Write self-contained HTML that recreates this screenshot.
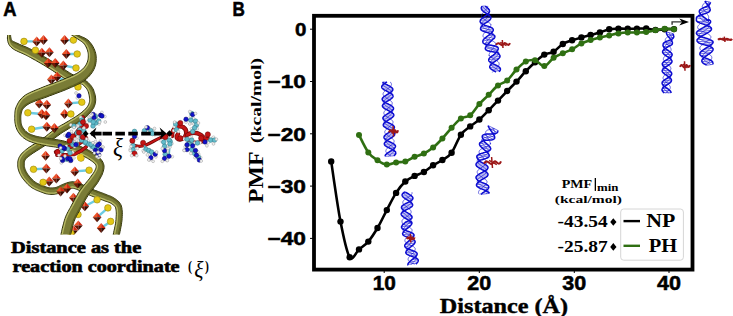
<!DOCTYPE html>
<html><head><meta charset="utf-8"><style>
html,body{margin:0;padding:0;background:#fff;width:733px;height:316px;overflow:hidden}
svg{display:block}
</style></head><body>
<svg width="733" height="316" viewBox="0 0 733 316">
<rect width="733" height="316" fill="#fff"/>
<defs><clipPath id="ca"><rect x="0" y="35" width="232" height="199.5"/></clipPath></defs>
<g clip-path="url(#ca)">
<path d="M7.8,33.1 L7.7,33.7 L7.6,34.5 L7.5,35.6 L7.5,36.8 L7.4,38.0 L7.5,39.3 L7.6,40.6 L8.0,41.8 L8.2,42.8 L8.6,43.7 L9.0,44.6 L9.6,45.5 L10.3,46.4 L11.1,47.2 L12.1,48.1 L13.3,49.0 L14.8,49.9 L16.4,50.7 L18.2,51.6 L20.1,52.4 L22.1,53.3 L24.1,54.2 L26.2,55.2 L28.3,56.3 L30.5,57.5 L32.9,58.9 L35.5,60.3 L38.1,61.8 L40.7,63.3 L43.3,64.8 L45.7,66.3 L48.0,67.7 L50.2,69.1 L52.3,70.4 L54.4,71.8 L56.4,73.1 L58.4,74.5 L60.3,75.8 L62.2,77.0 L64.0,78.2 L65.8,79.3 L67.7,80.4 L69.4,81.4 L71.1,82.4 L72.7,83.3 L74.1,84.1 L75.2,84.7 L76.1,85.3 L79.9,78.7 L79.0,78.2 L77.8,77.6 L76.4,76.8 L74.9,75.9 L73.2,74.9 L71.5,73.9 L69.7,72.9 L68.0,71.8 L66.3,70.7 L64.5,69.5 L62.6,68.3 L60.6,66.9 L58.6,65.5 L56.4,64.1 L54.2,62.7 L52.0,61.3 L49.6,59.9 L47.1,58.4 L44.5,56.8 L41.8,55.3 L39.2,53.8 L36.6,52.3 L34.1,50.9 L31.7,49.7 L29.4,48.6 L27.2,47.5 L25.0,46.6 L23.0,45.8 L21.1,45.0 L19.4,44.3 L18.0,43.6 L16.7,43.0 L15.6,42.5 L14.7,42.1 L14.0,41.8 L13.4,41.6 L13.0,41.4 L12.5,41.1 L12.1,40.7 L11.6,40.2 L11.3,39.6 L11.1,38.7 L10.9,37.7 L10.7,36.6 L10.6,35.5 L10.5,34.5 L10.4,33.6 L10.2,32.9 Z" fill="#7a7c36" stroke="#30320a" stroke-width="1" stroke-linejoin="round"/><path d="M9.0,33.0 L8.9,33.6 L8.8,34.5 L8.7,35.6 L8.7,36.7 L8.6,37.9 L8.7,39.1 L8.8,40.3 L9.1,41.3 L9.3,42.2 L9.6,43.1 L9.9,43.9 L10.4,44.7 L11.1,45.5 L11.8,46.3 L12.7,47.1 L13.9,48.0 L15.3,48.8 L17.0,49.6 L18.7,50.5 L20.6,51.3 L22.6,52.2 L24.6,53.1 L26.7,54.2 L28.8,55.3 L31.1,56.5 L33.5,57.8 L36.1,59.2 L38.7,60.7 L41.3,62.3 L43.9,63.8 L46.3,65.3 L48.7,66.7 L50.9,68.0 L53.0,69.4 L55.1,70.8 L57.1,72.1 L59.0,73.5 L61.0,74.8 L62.8,76.0 L64.6,77.2 L66.5,78.3 L68.3,79.4 L70.0,80.4 L71.7,81.4 L73.3,82.3 L74.7,83.0 L75.8,83.7 L76.7,84.2" fill="none" stroke="#b8ba66" stroke-width="1.3"/><path d="M9.2,33.0 L9.4,33.6 L9.5,34.5 L9.6,35.5 L9.7,36.7 L9.9,37.8 L10.1,38.9 L10.4,39.9 L10.7,40.6 L11.2,41.2 L11.7,41.7 L12.2,42.0 L12.7,42.3 L13.3,42.6 L14.1,42.9 L15.1,43.3 L16.2,43.8 L17.5,44.5 L19.0,45.2 L20.7,45.9 L22.6,46.7 L24.6,47.5 L26.8,48.4 L29.0,49.5 L31.3,50.6 L33.6,51.8 L36.1,53.2 L38.7,54.6 L41.3,56.1 L44.0,57.7 L46.6,59.2 L49.1,60.7 L51.4,62.2 L53.7,63.6 L55.9,65.0 L58.0,66.4 L60.0,67.8 L62.0,69.1 L63.9,70.4 L65.7,71.6 L67.5,72.7 L69.2,73.7 L71.0,74.8 L72.7,75.8 L74.4,76.8 L75.9,77.7 L77.3,78.4 L78.5,79.1 L79.4,79.6" fill="none" stroke="#5c5e20" stroke-width="1.2"/>
<path d="M77.6,83.5 L78.1,83.6 L78.8,83.6 L79.5,83.7 L80.2,83.8 L80.9,83.9 L81.6,84.1 L82.2,84.3 L82.7,84.6 L83.2,85.1 L83.9,85.7 L84.6,86.3 L85.3,87.1 L86.0,87.9 L86.6,88.7 L87.2,89.6 L87.6,90.3 L88.0,91.1 L88.3,92.0 L88.6,93.0 L88.9,94.0 L89.1,95.0 L89.3,96.0 L89.4,97.0 L89.5,97.9 L89.6,98.7 L89.7,99.4 L89.7,100.0 L89.6,100.7 L89.6,101.3 L89.5,101.9 L89.3,102.5 L89.1,103.1 L88.9,103.7 L88.7,104.3 L88.4,104.9 L88.1,105.5 L87.7,106.1 L87.3,106.7 L86.8,107.4 L86.2,108.1 L85.5,108.8 L84.8,109.6 L84.0,110.4 L83.1,111.2 L82.1,112.0 L81.2,112.8 L80.1,113.6 L79.0,114.4 L77.9,115.2 L76.7,116.0 L75.5,116.8 L74.1,117.7 L72.7,118.5 L71.3,119.4 L69.8,120.3 L68.3,121.2 L66.8,122.1 L65.2,123.0 L63.6,124.0 L61.9,124.9 L60.2,125.9 L58.5,126.9 L56.7,128.0 L55.0,129.1 L53.3,130.3 L51.6,131.6 L50.0,132.9 L48.4,134.2 L46.8,135.5 L45.2,136.8 L43.6,138.0 L42.0,139.1 L40.3,140.3 L38.5,141.4 L36.7,142.6 L34.8,143.7 L33.0,144.8 L31.2,146.0 L29.5,147.1 L27.9,148.2 L26.6,149.2 L25.4,150.2 L24.3,151.2 L23.2,152.1 L22.2,153.1 L21.3,154.1 L20.5,155.1 L19.8,156.3 L19.1,157.4 L18.6,158.7 L18.2,159.9 L18.0,161.0 L17.8,162.1 L17.8,163.1 L17.8,164.1 L17.8,165.0 L17.8,166.0 L17.9,167.1 L18.0,168.1 L18.2,169.0 L18.5,170.0 L18.8,170.9 L19.1,171.9 L19.5,172.8 L19.9,173.7 L20.4,174.6 L20.9,175.5 L21.4,176.5 L22.0,177.4 L22.6,178.3 L23.3,179.2 L24.0,180.0 L24.7,180.9 L25.5,181.8 L26.3,182.7 L27.2,183.7 L28.1,184.6 L29.1,185.5 L30.1,186.3 L31.1,187.1 L32.2,187.9 L33.3,188.5 L34.4,189.1 L35.5,189.7 L36.6,190.2 L37.7,190.7 L38.8,191.1 L39.8,191.5 L40.8,191.9 L41.8,192.3 L42.9,192.7 L44.0,193.1 L45.1,193.5 L46.2,193.8 L47.4,194.0 L48.6,194.2 L49.7,194.3 L50.9,194.4 L52.1,194.4 L53.2,194.4 L54.4,194.3 L55.5,194.1 L56.6,193.9 L57.8,193.6 L59.1,193.3 L60.3,192.8 L61.4,192.3 L62.5,191.7 L63.5,191.2 L64.4,190.8 L65.3,190.4 L66.1,190.0 L67.1,189.7 L68.1,189.3 L69.0,189.0 L69.9,188.7 L70.7,188.5 L71.4,188.3 L72.1,188.2 L72.8,188.2 L73.5,188.3 L74.3,188.5 L75.2,188.8 L76.2,189.1 L77.2,189.5 L78.3,190.0 L79.5,190.5 L80.8,191.0 L82.0,191.5 L83.2,192.1 L84.5,192.7 L85.9,193.3 L87.3,194.0 L88.8,194.7 L90.3,195.4 L91.8,196.0 L93.3,196.6 L94.9,197.2 L96.5,197.8 L98.1,198.4 L99.6,199.0 L101.1,199.5 L102.5,200.0 L103.8,200.5 L105.1,201.0 L106.2,201.4 L107.3,201.7 L108.3,202.1 L109.1,202.4 L109.9,202.7 L110.6,203.1 L111.3,203.5 L112.1,204.0 L112.9,204.6 L113.6,205.1 L114.2,205.6 L114.6,206.1 L115.0,206.6 L115.4,207.2 L115.6,207.9 L115.9,208.9 L116.1,210.1 L116.2,211.4 L116.3,212.9 L116.3,214.6 L116.2,216.3 L116.1,218.0 L116.0,219.7 L115.8,221.6 L115.5,223.7 L115.1,225.9 L114.6,228.2 L114.1,230.4 L113.7,232.4 L113.3,234.1 L113.1,235.4 L118.9,236.6 L119.2,235.4 L119.6,233.7 L120.0,231.7 L120.5,229.4 L120.9,227.1 L121.4,224.7 L121.7,222.4 L122.0,220.3 L122.1,218.4 L122.2,216.5 L122.3,214.6 L122.3,212.8 L122.2,211.0 L122.0,209.3 L121.8,207.7 L121.4,206.1 L120.8,204.6 L120.0,203.3 L119.2,202.2 L118.3,201.2 L117.3,200.4 L116.4,199.7 L115.6,199.1 L114.7,198.5 L113.7,197.8 L112.6,197.2 L111.6,196.7 L110.6,196.2 L109.5,195.8 L108.4,195.4 L107.3,195.0 L106.2,194.5 L104.8,194.0 L103.4,193.4 L101.9,192.9 L100.3,192.3 L98.7,191.7 L97.2,191.1 L95.7,190.6 L94.2,190.0 L92.9,189.4 L91.5,188.8 L90.1,188.1 L88.7,187.5 L87.3,186.8 L85.9,186.2 L84.6,185.6 L83.2,185.0 L82.0,184.5 L80.8,184.0 L79.7,183.5 L78.5,183.0 L77.2,182.6 L75.9,182.2 L74.6,181.9 L73.2,181.8 L71.8,181.8 L70.4,181.9 L69.2,182.2 L68.0,182.5 L66.9,182.9 L65.9,183.2 L64.9,183.6 L63.9,184.0 L62.7,184.4 L61.6,184.9 L60.5,185.4 L59.5,185.9 L58.6,186.4 L57.7,186.8 L56.9,187.1 L56.2,187.4 L55.4,187.5 L54.5,187.7 L53.6,187.8 L52.8,187.9 L51.9,187.9 L51.1,187.9 L50.3,187.9 L49.4,187.8 L48.6,187.6 L47.8,187.5 L46.9,187.2 L46.0,186.9 L45.1,186.6 L44.2,186.3 L43.2,185.9 L42.2,185.5 L41.2,185.1 L40.2,184.7 L39.3,184.2 L38.3,183.8 L37.4,183.4 L36.5,182.9 L35.7,182.4 L34.9,181.9 L34.1,181.3 L33.4,180.6 L32.6,179.9 L31.8,179.1 L31.1,178.3 L30.4,177.5 L29.7,176.7 L29.0,176.0 L28.5,175.2 L27.9,174.5 L27.4,173.8 L27.0,173.0 L26.5,172.3 L26.1,171.6 L25.8,170.9 L25.5,170.2 L25.2,169.5 L25.0,168.8 L24.7,168.2 L24.6,167.5 L24.4,166.9 L24.3,166.3 L24.3,165.6 L24.2,165.0 L24.3,164.2 L24.3,163.4 L24.3,162.7 L24.4,162.1 L24.5,161.4 L24.7,160.9 L24.9,160.3 L25.2,159.7 L25.7,159.1 L26.3,158.5 L27.0,157.8 L27.7,157.1 L28.6,156.4 L29.7,155.6 L30.8,154.7 L32.1,153.8 L33.4,152.9 L35.0,151.9 L36.7,150.8 L38.5,149.7 L40.4,148.5 L42.3,147.3 L44.2,146.1 L46.0,144.9 L47.8,143.6 L49.5,142.3 L51.1,141.0 L52.8,139.7 L54.3,138.4 L55.9,137.2 L57.5,136.0 L59.0,134.9 L60.5,133.8 L62.1,132.7 L63.7,131.7 L65.4,130.7 L67.0,129.7 L68.6,128.7 L70.2,127.7 L71.7,126.8 L73.2,125.8 L74.7,125.0 L76.1,124.1 L77.5,123.2 L79.0,122.3 L80.3,121.4 L81.7,120.5 L83.0,119.6 L84.1,118.6 L85.3,117.7 L86.3,116.7 L87.4,115.7 L88.3,114.7 L89.2,113.8 L90.0,112.9 L90.8,111.9 L91.5,111.1 L92.2,110.2 L92.7,109.3 L93.3,108.5 L93.8,107.6 L94.2,106.7 L94.5,105.8 L94.9,104.9 L95.1,104.0 L95.3,103.1 L95.5,102.1 L95.6,101.1 L95.7,100.2 L95.7,99.2 L95.6,98.1 L95.5,97.1 L95.3,96.0 L95.1,94.9 L94.8,93.7 L94.4,92.5 L94.0,91.3 L93.6,90.0 L93.0,88.8 L92.4,87.7 L91.7,86.6 L90.9,85.5 L90.0,84.5 L89.1,83.5 L88.2,82.6 L87.3,81.8 L86.3,81.1 L85.3,80.4 L84.3,79.8 L83.1,79.4 L82.0,79.1 L81.0,78.9 L80.1,78.8 L79.4,78.7 L78.8,78.6 L78.4,78.5 Z" fill="#7a7c36" stroke="#30320a" stroke-width="1" stroke-linejoin="round"/><path d="M77.8,82.3 L78.3,82.4 L78.9,82.4 L79.7,82.5 L80.4,82.6 L81.2,82.8 L82.0,83.0 L82.7,83.2 L83.3,83.6 L84.0,84.1 L84.7,84.8 L85.4,85.5 L86.2,86.3 L86.9,87.1 L87.6,88.0 L88.2,88.9 L88.6,89.8 L89.1,90.6 L89.4,91.6 L89.8,92.6 L90.0,93.7 L90.3,94.8 L90.5,95.8 L90.6,96.8 L90.7,97.7 L90.8,98.6 L90.9,99.3 L90.9,100.1 L90.8,100.8 L90.8,101.4 L90.6,102.1 L90.5,102.8 L90.3,103.5 L90.0,104.1 L89.8,104.8 L89.5,105.4 L89.1,106.1 L88.7,106.7 L88.3,107.4 L87.7,108.1 L87.1,108.8 L86.4,109.6 L85.6,110.4 L84.8,111.2 L83.9,112.0 L82.9,112.9 L81.9,113.7 L80.9,114.5 L79.8,115.4 L78.6,116.2 L77.4,117.0 L76.1,117.8 L74.8,118.7 L73.4,119.5 L71.9,120.4 L70.4,121.3 L68.9,122.3 L67.4,123.2 L65.8,124.1 L64.2,125.0 L62.5,125.9 L60.8,126.9 L59.1,127.9 L57.4,129.0 L55.7,130.1 L54.0,131.3 L52.4,132.6 L50.7,133.8 L49.1,135.1 L47.5,136.4 L45.9,137.7 L44.3,138.9 L42.7,140.1 L41.0,141.3 L39.2,142.4 L37.3,143.6 L35.5,144.7 L33.6,145.9 L31.8,147.0 L30.2,148.1 L28.6,149.1 L27.3,150.2 L26.1,151.1 L25.0,152.1 L24.0,153.0 L23.1,153.9 L22.2,154.9 L21.5,155.9 L20.8,156.9 L20.2,158.0 L19.7,159.1 L19.4,160.1 L19.2,161.2 L19.0,162.2 L19.0,163.2 L19.0,164.1 L19.0,165.0 L19.0,166.0 L19.1,166.9 L19.2,167.8 L19.4,168.8 L19.7,169.7 L19.9,170.6 L20.3,171.4 L20.6,172.3 L21.0,173.2 L21.4,174.1 L21.9,174.9 L22.4,175.8 L23.0,176.7 L23.6,177.6 L24.2,178.4 L24.9,179.3 L25.6,180.1 L26.4,181.0 L27.2,181.9 L28.0,182.8 L28.9,183.7 L29.8,184.6 L30.8,185.4 L31.8,186.2 L32.8,186.9 L33.9,187.5 L34.9,188.1 L36.0,188.6 L37.1,189.1 L38.2,189.6 L39.2,190.0 L40.2,190.4 L41.2,190.8 L42.3,191.2 L43.3,191.6 L44.3,192.0 L45.4,192.3 L46.5,192.6 L47.6,192.9 L48.7,193.0 L49.8,193.1 L50.9,193.2 L52.0,193.2 L53.1,193.2 L54.2,193.1 L55.3,192.9 L56.4,192.7 L57.5,192.5 L58.7,192.1 L59.8,191.7 L60.9,191.2 L61.9,190.7 L62.9,190.2 L63.9,189.7 L64.8,189.3 L65.7,188.9 L66.7,188.6 L67.7,188.2 L68.6,187.9 L69.5,187.6 L70.4,187.3 L71.2,187.1 L72.1,187.0 L72.9,187.0 L73.7,187.1 L74.6,187.3 L75.6,187.6 L76.6,188.0 L77.7,188.4 L78.8,188.9 L80.0,189.4 L81.2,189.9 L82.5,190.4 L83.7,191.0 L85.1,191.6 L86.4,192.3 L87.8,192.9 L89.3,193.6 L90.7,194.3 L92.2,194.9 L93.7,195.5 L95.3,196.1 L96.9,196.7 L98.5,197.3 L100.1,197.8 L101.5,198.4 L103.0,198.9 L104.3,199.4 L105.5,199.9 L106.7,200.3 L107.7,200.6 L108.7,200.9 L109.6,201.3 L110.4,201.6 L111.2,202.0 L112.0,202.5 L112.8,203.1 L113.6,203.6 L114.3,204.2 L115.0,204.7 L115.5,205.3 L116.0,205.9 L116.4,206.7 L116.8,207.5 L117.1,208.6 L117.3,209.9 L117.4,211.4 L117.5,212.9 L117.5,214.6 L117.4,216.3 L117.3,218.1 L117.2,219.8 L117.0,221.7 L116.7,223.9 L116.2,226.1 L115.8,228.4 L115.3,230.7 L114.9,232.7 L114.5,234.4 L114.2,235.6" fill="none" stroke="#b8ba66" stroke-width="1.3"/><path d="M78.3,79.5 L78.7,79.6 L79.2,79.7 L80.0,79.7 L80.9,79.9 L81.8,80.0 L82.8,80.3 L83.8,80.7 L84.8,81.2 L85.7,81.8 L86.6,82.5 L87.5,83.3 L88.4,84.2 L89.3,85.1 L90.1,86.1 L90.8,87.1 L91.5,88.1 L92.1,89.2 L92.6,90.4 L93.1,91.6 L93.5,92.8 L93.8,93.9 L94.1,95.1 L94.3,96.2 L94.5,97.2 L94.6,98.2 L94.7,99.2 L94.7,100.1 L94.6,101.1 L94.5,102.0 L94.4,102.9 L94.2,103.7 L93.9,104.6 L93.6,105.5 L93.3,106.3 L92.9,107.2 L92.4,108.0 L91.9,108.8 L91.3,109.6 L90.7,110.4 L90.0,111.3 L89.3,112.2 L88.5,113.1 L87.6,114.0 L86.7,115.0 L85.7,115.9 L84.6,116.9 L83.5,117.9 L82.4,118.8 L81.1,119.7 L79.8,120.6 L78.4,121.5 L77.0,122.4 L75.6,123.2 L74.1,124.1 L72.7,125.0 L71.2,125.9 L69.7,126.9 L68.1,127.9 L66.5,128.9 L64.8,129.9 L63.2,130.9 L61.6,131.9 L60.0,133.0 L58.4,134.1 L56.9,135.2 L55.3,136.4 L53.7,137.6 L52.1,138.9 L50.5,140.2 L48.9,141.5 L47.2,142.8 L45.4,144.0 L43.6,145.3 L41.8,146.5 L39.9,147.7 L38.0,148.8 L36.1,149.9 L34.4,151.0 L32.9,152.0 L31.5,153.0 L30.2,153.9 L29.0,154.8 L28.0,155.6 L27.1,156.4 L26.2,157.1 L25.5,157.8 L24.9,158.5 L24.4,159.2 L24.0,159.9 L23.7,160.5 L23.5,161.2 L23.4,161.9 L23.3,162.6 L23.3,163.4 L23.3,164.2 L23.2,165.0 L23.3,165.7 L23.3,166.4 L23.4,167.1 L23.6,167.8 L23.8,168.4 L24.0,169.2 L24.3,169.9 L24.6,170.6 L24.9,171.4 L25.3,172.1 L25.7,172.8 L26.1,173.6 L26.6,174.3 L27.1,175.1 L27.7,175.8 L28.3,176.6 L28.9,177.4 L29.6,178.2 L30.3,179.0 L31.1,179.8 L31.9,180.6 L32.7,181.4 L33.5,182.1 L34.3,182.7 L35.1,183.2 L36.0,183.8 L36.9,184.2 L37.9,184.7 L38.8,185.2 L39.8,185.6 L40.8,186.0 L41.8,186.4 L42.8,186.8 L43.8,187.2 L44.8,187.6 L45.7,187.9 L46.6,188.2 L47.5,188.4 L48.4,188.6 L49.3,188.8 L50.2,188.9 L51.1,188.9 L52.0,188.9 L52.9,188.9 L53.8,188.8 L54.7,188.7 L55.6,188.5 L56.4,188.3 L57.3,188.1 L58.1,187.7 L59.0,187.3 L60.0,186.8 L61.0,186.3 L62.0,185.8 L63.1,185.3 L64.2,184.9 L65.2,184.5 L66.2,184.2 L67.2,183.8 L68.3,183.4 L69.4,183.1 L70.6,182.9 L71.8,182.8 L73.1,182.8 L74.4,182.9 L75.7,183.2 L76.9,183.5 L78.1,184.0 L79.3,184.4 L80.5,184.9 L81.6,185.4 L82.9,185.9 L84.2,186.5 L85.5,187.1 L86.9,187.7 L88.3,188.4 L89.7,189.0 L91.1,189.7 L92.5,190.3 L93.9,190.9 L95.3,191.5 L96.8,192.1 L98.4,192.7 L100.0,193.2 L101.5,193.8 L103.0,194.3 L104.5,194.9 L105.8,195.4 L107.0,195.9 L108.1,196.3 L109.2,196.8 L110.2,197.2 L111.2,197.6 L112.2,198.1 L113.2,198.7 L114.1,199.3 L115.0,199.9 L115.8,200.5 L116.7,201.2 L117.6,202.0 L118.4,202.8 L119.2,203.9 L119.9,205.0 L120.4,206.4 L120.8,207.9 L121.0,209.4 L121.2,211.1 L121.3,212.8 L121.3,214.6 L121.2,216.5 L121.1,218.3 L121.0,220.2 L120.8,222.2 L120.4,224.5 L120.0,226.9 L119.5,229.2 L119.0,231.5 L118.6,233.5 L118.2,235.2 L118.0,236.4" fill="none" stroke="#5c5e20" stroke-width="1.2"/>
<line x1="24.0" y1="41.4" x2="36.7" y2="41.4" stroke="#6ccbe2" stroke-width="2.4"/>
<line x1="35.4" y1="50.3" x2="41.8" y2="52.8" stroke="#6ccbe2" stroke-width="2.4"/>
<line x1="64.6" y1="40.1" x2="73.4" y2="40.1" stroke="#6ccbe2" stroke-width="2.4"/>
<line x1="66.3" y1="54.0" x2="77.2" y2="54.0" stroke="#6ccbe2" stroke-width="2.4"/>
<line x1="63.3" y1="65.4" x2="76.0" y2="68.0" stroke="#6ccbe2" stroke-width="2.4"/>
<line x1="57.0" y1="76.8" x2="78.0" y2="87.0" stroke="#6ccbe2" stroke-width="2.4"/>
<line x1="68.4" y1="103.4" x2="81.8" y2="102.2" stroke="#6ccbe2" stroke-width="2.4"/>
<line x1="27.8" y1="112.8" x2="41.8" y2="114.0" stroke="#6ccbe2" stroke-width="2.4"/>
<line x1="31.6" y1="129.2" x2="46.8" y2="126.7" stroke="#6ccbe2" stroke-width="2.4"/>
<line x1="39.2" y1="141.9" x2="46.0" y2="141.0" stroke="#6ccbe2" stroke-width="2.4"/>
<line x1="33.5" y1="169.3" x2="46.3" y2="168.6" stroke="#6ccbe2" stroke-width="2.4"/>
<line x1="43.1" y1="182.3" x2="49.2" y2="181.4" stroke="#6ccbe2" stroke-width="2.4"/>
<line x1="70.9" y1="114.0" x2="64.6" y2="114.0" stroke="#6ccbe2" stroke-width="2.4"/>
<line x1="74.8" y1="171.4" x2="89.1" y2="170.2" stroke="#6ccbe2" stroke-width="2.4"/>
<line x1="84.8" y1="206.3" x2="97.1" y2="199.8" stroke="#6ccbe2" stroke-width="2.4"/>
<line x1="97.1" y1="217.3" x2="107.9" y2="207.9" stroke="#6ccbe2" stroke-width="2.4"/>
<line x1="101.2" y1="228.1" x2="110.6" y2="221.4" stroke="#6ccbe2" stroke-width="2.4"/>
<path d="M32.3,41.4 L36.7,36.4 L36.7,41.4 Z" fill="#ec5426"/><path d="M36.7,36.4 L41.1,41.4 L36.7,41.4 Z" fill="#d42a12"/><path d="M32.3,41.4 L36.7,41.4 L36.7,46.4 Z" fill="#701806"/><path d="M36.7,41.4 L41.1,41.4 L36.7,46.4 Z" fill="#3c0c02"/>
<path d="M39.1,40.1 L43.5,35.1 L43.5,40.1 Z" fill="#ec5426"/><path d="M43.5,35.1 L47.9,40.1 L43.5,40.1 Z" fill="#d42a12"/><path d="M39.1,40.1 L43.5,40.1 L43.5,45.1 Z" fill="#701806"/><path d="M43.5,40.1 L47.9,40.1 L43.5,45.1 Z" fill="#3c0c02"/>
<path d="M60.2,40.1 L64.6,35.1 L64.6,40.1 Z" fill="#ec5426"/><path d="M64.6,35.1 L69.0,40.1 L64.6,40.1 Z" fill="#d42a12"/><path d="M60.2,40.1 L64.6,40.1 L64.6,45.1 Z" fill="#701806"/><path d="M64.6,40.1 L69.0,40.1 L64.6,45.1 Z" fill="#3c0c02"/>
<path d="M37.4,52.8 L41.8,47.8 L41.8,52.8 Z" fill="#ec5426"/><path d="M41.8,47.8 L46.2,52.8 L41.8,52.8 Z" fill="#d42a12"/><path d="M37.4,52.8 L41.8,52.8 L41.8,57.8 Z" fill="#701806"/><path d="M41.8,52.8 L46.2,52.8 L41.8,57.8 Z" fill="#3c0c02"/>
<path d="M45.0,52.3 L49.4,47.3 L49.4,52.3 Z" fill="#ec5426"/><path d="M49.4,47.3 L53.8,52.3 L49.4,52.3 Z" fill="#d42a12"/><path d="M45.0,52.3 L49.4,52.3 L49.4,57.3 Z" fill="#701806"/><path d="M49.4,52.3 L53.8,52.3 L49.4,57.3 Z" fill="#3c0c02"/>
<path d="M61.9,54.0 L66.3,49.0 L66.3,54.0 Z" fill="#ec5426"/><path d="M66.3,49.0 L70.7,54.0 L66.3,54.0 Z" fill="#d42a12"/><path d="M61.9,54.0 L66.3,54.0 L66.3,59.0 Z" fill="#701806"/><path d="M66.3,54.0 L70.7,54.0 L66.3,59.0 Z" fill="#3c0c02"/>
<path d="M43.7,62.9 L48.1,57.9 L48.1,62.9 Z" fill="#ec5426"/><path d="M48.1,57.9 L52.5,62.9 L48.1,62.9 Z" fill="#d42a12"/><path d="M43.7,62.9 L48.1,62.9 L48.1,67.9 Z" fill="#701806"/><path d="M48.1,62.9 L52.5,62.9 L48.1,67.9 Z" fill="#3c0c02"/>
<path d="M50.8,62.9 L55.2,57.9 L55.2,62.9 Z" fill="#ec5426"/><path d="M55.2,57.9 L59.6,62.9 L55.2,62.9 Z" fill="#d42a12"/><path d="M50.8,62.9 L55.2,62.9 L55.2,67.9 Z" fill="#701806"/><path d="M55.2,62.9 L59.6,62.9 L55.2,67.9 Z" fill="#3c0c02"/>
<path d="M58.9,65.4 L63.3,60.4 L63.3,65.4 Z" fill="#ec5426"/><path d="M63.3,60.4 L67.7,65.4 L63.3,65.4 Z" fill="#d42a12"/><path d="M58.9,65.4 L63.3,65.4 L63.3,70.4 Z" fill="#701806"/><path d="M63.3,65.4 L67.7,65.4 L63.3,70.4 Z" fill="#3c0c02"/>
<path d="M52.6,76.8 L57.0,71.8 L57.0,76.8 Z" fill="#ec5426"/><path d="M57.0,71.8 L61.4,76.8 L57.0,76.8 Z" fill="#d42a12"/><path d="M52.6,76.8 L57.0,76.8 L57.0,81.8 Z" fill="#701806"/><path d="M57.0,76.8 L61.4,76.8 L57.0,81.8 Z" fill="#3c0c02"/>
<path d="M47.0,79.4 L51.4,74.4 L51.4,79.4 Z" fill="#ec5426"/><path d="M51.4,74.4 L55.8,79.4 L51.4,79.4 Z" fill="#d42a12"/><path d="M47.0,79.4 L51.4,79.4 L51.4,84.4 Z" fill="#701806"/><path d="M51.4,79.4 L55.8,79.4 L51.4,84.4 Z" fill="#3c0c02"/>
<path d="M34.8,103.4 L39.2,98.4 L39.2,103.4 Z" fill="#ec5426"/><path d="M39.2,98.4 L43.6,103.4 L39.2,103.4 Z" fill="#d42a12"/><path d="M34.8,103.4 L39.2,103.4 L39.2,108.4 Z" fill="#701806"/><path d="M39.2,103.4 L43.6,103.4 L39.2,108.4 Z" fill="#3c0c02"/>
<path d="M42.4,104.7 L46.8,99.7 L46.8,104.7 Z" fill="#ec5426"/><path d="M46.8,99.7 L51.2,104.7 L46.8,104.7 Z" fill="#d42a12"/><path d="M42.4,104.7 L46.8,104.7 L46.8,109.7 Z" fill="#701806"/><path d="M46.8,104.7 L51.2,104.7 L46.8,109.7 Z" fill="#3c0c02"/>
<path d="M64.0,103.4 L68.4,98.4 L68.4,103.4 Z" fill="#ec5426"/><path d="M68.4,98.4 L72.8,103.4 L68.4,103.4 Z" fill="#d42a12"/><path d="M64.0,103.4 L68.4,103.4 L68.4,108.4 Z" fill="#701806"/><path d="M68.4,103.4 L72.8,103.4 L68.4,108.4 Z" fill="#3c0c02"/>
<path d="M37.4,114.0 L41.8,109.0 L41.8,114.0 Z" fill="#ec5426"/><path d="M41.8,109.0 L46.2,114.0 L41.8,114.0 Z" fill="#d42a12"/><path d="M37.4,114.0 L41.8,114.0 L41.8,119.0 Z" fill="#701806"/><path d="M41.8,114.0 L46.2,114.0 L41.8,119.0 Z" fill="#3c0c02"/>
<path d="M41.6,115.3 L46.0,110.3 L46.0,115.3 Z" fill="#ec5426"/><path d="M46.0,110.3 L50.4,115.3 L46.0,115.3 Z" fill="#d42a12"/><path d="M41.6,115.3 L46.0,115.3 L46.0,120.3 Z" fill="#701806"/><path d="M46.0,115.3 L50.4,115.3 L46.0,120.3 Z" fill="#3c0c02"/>
<path d="M42.4,126.7 L46.8,121.7 L46.8,126.7 Z" fill="#ec5426"/><path d="M46.8,121.7 L51.2,126.7 L46.8,126.7 Z" fill="#d42a12"/><path d="M42.4,126.7 L46.8,126.7 L46.8,131.7 Z" fill="#701806"/><path d="M46.8,126.7 L51.2,126.7 L46.8,131.7 Z" fill="#3c0c02"/>
<path d="M50.0,128.0 L54.4,123.0 L54.4,128.0 Z" fill="#ec5426"/><path d="M54.4,123.0 L58.8,128.0 L54.4,128.0 Z" fill="#d42a12"/><path d="M50.0,128.0 L54.4,128.0 L54.4,133.0 Z" fill="#701806"/><path d="M54.4,128.0 L58.8,128.0 L54.4,133.0 Z" fill="#3c0c02"/>
<path d="M60.2,114.0 L64.6,109.0 L64.6,114.0 Z" fill="#ec5426"/><path d="M64.6,109.0 L69.0,114.0 L64.6,114.0 Z" fill="#d42a12"/><path d="M60.2,114.0 L64.6,114.0 L64.6,119.0 Z" fill="#701806"/><path d="M64.6,114.0 L69.0,114.0 L64.6,119.0 Z" fill="#3c0c02"/>
<path d="M41.2,155.8 L45.6,150.8 L45.6,155.8 Z" fill="#ec5426"/><path d="M45.6,150.8 L50.0,155.8 L45.6,155.8 Z" fill="#d42a12"/><path d="M41.2,155.8 L45.6,155.8 L45.6,160.8 Z" fill="#701806"/><path d="M45.6,155.8 L50.0,155.8 L45.6,160.8 Z" fill="#3c0c02"/>
<path d="M41.9,168.6 L46.3,163.6 L46.3,168.6 Z" fill="#ec5426"/><path d="M46.3,163.6 L50.7,168.6 L46.3,168.6 Z" fill="#d42a12"/><path d="M41.9,168.6 L46.3,168.6 L46.3,173.6 Z" fill="#701806"/><path d="M46.3,168.6 L50.7,168.6 L46.3,173.6 Z" fill="#3c0c02"/>
<path d="M44.8,181.4 L49.2,176.4 L49.2,181.4 Z" fill="#ec5426"/><path d="M49.2,176.4 L53.6,181.4 L49.2,181.4 Z" fill="#d42a12"/><path d="M44.8,181.4 L49.2,181.4 L49.2,186.4 Z" fill="#701806"/><path d="M49.2,181.4 L53.6,181.4 L49.2,186.4 Z" fill="#3c0c02"/>
<path d="M51.9,178.5 L56.3,173.5 L56.3,178.5 Z" fill="#ec5426"/><path d="M56.3,173.5 L60.7,178.5 L56.3,178.5 Z" fill="#d42a12"/><path d="M51.9,178.5 L56.3,178.5 L56.3,183.5 Z" fill="#701806"/><path d="M56.3,178.5 L60.7,178.5 L56.3,183.5 Z" fill="#3c0c02"/>
<path d="M56.2,191.4 L60.6,186.4 L60.6,191.4 Z" fill="#ec5426"/><path d="M60.6,186.4 L65.0,191.4 L60.6,191.4 Z" fill="#d42a12"/><path d="M56.2,191.4 L60.6,191.4 L60.6,196.4 Z" fill="#701806"/><path d="M60.6,191.4 L65.0,191.4 L60.6,196.4 Z" fill="#3c0c02"/>
<path d="M62.6,188.5 L67.0,183.5 L67.0,188.5 Z" fill="#ec5426"/><path d="M67.0,183.5 L71.4,188.5 L67.0,188.5 Z" fill="#d42a12"/><path d="M62.6,188.5 L67.0,188.5 L67.0,193.5 Z" fill="#701806"/><path d="M67.0,188.5 L71.4,188.5 L67.0,193.5 Z" fill="#3c0c02"/>
<path d="M70.4,171.4 L74.8,166.4 L74.8,171.4 Z" fill="#ec5426"/><path d="M74.8,166.4 L79.2,171.4 L74.8,171.4 Z" fill="#d42a12"/><path d="M70.4,171.4 L74.8,171.4 L74.8,176.4 Z" fill="#701806"/><path d="M74.8,171.4 L79.2,171.4 L74.8,176.4 Z" fill="#3c0c02"/>
<path d="M73.3,183.5 L77.7,178.5 L77.7,183.5 Z" fill="#ec5426"/><path d="M77.7,178.5 L82.1,183.5 L77.7,183.5 Z" fill="#d42a12"/><path d="M73.3,183.5 L77.7,183.5 L77.7,188.5 Z" fill="#701806"/><path d="M77.7,183.5 L82.1,183.5 L77.7,188.5 Z" fill="#3c0c02"/>
<path d="M69.0,197.8 L73.4,192.8 L73.4,197.8 Z" fill="#ec5426"/><path d="M73.4,192.8 L77.8,197.8 L73.4,197.8 Z" fill="#d42a12"/><path d="M69.0,197.8 L73.4,197.8 L73.4,202.8 Z" fill="#701806"/><path d="M73.4,197.8 L77.8,197.8 L73.4,202.8 Z" fill="#3c0c02"/>
<path d="M80.4,206.3 L84.8,201.3 L84.8,206.3 Z" fill="#ec5426"/><path d="M84.8,201.3 L89.2,206.3 L84.8,206.3 Z" fill="#d42a12"/><path d="M80.4,206.3 L84.8,206.3 L84.8,211.3 Z" fill="#701806"/><path d="M84.8,206.3 L89.2,206.3 L84.8,211.3 Z" fill="#3c0c02"/>
<path d="M92.7,217.3 L97.1,212.3 L97.1,217.3 Z" fill="#ec5426"/><path d="M97.1,212.3 L101.5,217.3 L97.1,217.3 Z" fill="#d42a12"/><path d="M92.7,217.3 L97.1,217.3 L97.1,222.3 Z" fill="#701806"/><path d="M97.1,217.3 L101.5,217.3 L97.1,222.3 Z" fill="#3c0c02"/>
<path d="M73.9,225.4 L78.3,220.4 L78.3,225.4 Z" fill="#ec5426"/><path d="M78.3,220.4 L82.7,225.4 L78.3,225.4 Z" fill="#d42a12"/><path d="M73.9,225.4 L78.3,225.4 L78.3,230.4 Z" fill="#701806"/><path d="M78.3,225.4 L82.7,225.4 L78.3,230.4 Z" fill="#3c0c02"/>
<path d="M96.8,228.1 L101.2,223.1 L101.2,228.1 Z" fill="#ec5426"/><path d="M101.2,223.1 L105.6,228.1 L101.2,228.1 Z" fill="#d42a12"/><path d="M96.8,228.1 L101.2,228.1 L101.2,233.1 Z" fill="#701806"/><path d="M101.2,228.1 L105.6,228.1 L101.2,233.1 Z" fill="#3c0c02"/>
<path d="M69.2,230.5 L73.6,225.5 L73.6,230.5 Z" fill="#ec5426"/><path d="M73.6,225.5 L78.0,230.5 L73.6,230.5 Z" fill="#d42a12"/><path d="M69.2,230.5 L73.6,230.5 L73.6,235.5 Z" fill="#701806"/><path d="M73.6,230.5 L78.0,230.5 L73.6,235.5 Z" fill="#3c0c02"/>
<circle cx="24.0" cy="41.4" r="3.3" fill="#e4c816" stroke="#9a8608" stroke-width="0.6"/>
<circle cx="35.4" cy="50.3" r="3.3" fill="#e4c816" stroke="#9a8608" stroke-width="0.6"/>
<circle cx="73.4" cy="40.1" r="3.3" fill="#e4c816" stroke="#9a8608" stroke-width="0.6"/>
<circle cx="77.2" cy="54.0" r="3.3" fill="#e4c816" stroke="#9a8608" stroke-width="0.6"/>
<circle cx="76.0" cy="68.0" r="3.3" fill="#e4c816" stroke="#9a8608" stroke-width="0.6"/>
<circle cx="78.0" cy="87.0" r="3.3" fill="#e4c816" stroke="#9a8608" stroke-width="0.6"/>
<circle cx="81.8" cy="102.2" r="3.3" fill="#e4c816" stroke="#9a8608" stroke-width="0.6"/>
<circle cx="27.8" cy="112.8" r="3.3" fill="#e4c816" stroke="#9a8608" stroke-width="0.6"/>
<circle cx="31.6" cy="129.2" r="3.3" fill="#e4c816" stroke="#9a8608" stroke-width="0.6"/>
<circle cx="39.2" cy="141.9" r="3.3" fill="#e4c816" stroke="#9a8608" stroke-width="0.6"/>
<circle cx="33.5" cy="169.3" r="3.3" fill="#e4c816" stroke="#9a8608" stroke-width="0.6"/>
<circle cx="70.9" cy="114.0" r="3.3" fill="#e4c816" stroke="#9a8608" stroke-width="0.6"/>
<circle cx="43.1" cy="182.3" r="3.3" fill="#e4c816" stroke="#9a8608" stroke-width="0.6"/>
<circle cx="81.0" cy="158.1" r="3.3" fill="#e4c816" stroke="#9a8608" stroke-width="0.6"/>
<circle cx="89.1" cy="170.2" r="3.3" fill="#e4c816" stroke="#9a8608" stroke-width="0.6"/>
<circle cx="97.1" cy="199.8" r="3.3" fill="#e4c816" stroke="#9a8608" stroke-width="0.6"/>
<circle cx="107.9" cy="207.9" r="3.3" fill="#e4c816" stroke="#9a8608" stroke-width="0.6"/>
<circle cx="110.6" cy="221.4" r="3.3" fill="#e4c816" stroke="#9a8608" stroke-width="0.6"/>
<circle cx="78.0" cy="214.5" r="3.3" fill="#e4c816" stroke="#9a8608" stroke-width="0.6"/>
<circle cx="71.0" cy="233.5" r="3.3" fill="#e4c816" stroke="#9a8608" stroke-width="0.6"/>
<path d="M70.4,34.1 L70.9,34.4 L71.5,34.9 L72.3,35.4 L73.2,35.9 L74.1,36.5 L75.1,37.2 L76.1,37.8 L77.1,38.5 L78.1,39.3 L79.3,40.0 L80.4,40.7 L81.5,41.5 L82.5,42.3 L83.5,43.1 L84.3,43.9 L84.9,44.8 L85.5,45.8 L86.1,46.9 L86.7,48.2 L87.2,49.5 L87.6,50.8 L88.0,52.1 L88.2,53.4 L88.3,54.6 L88.3,55.8 L88.3,57.0 L88.2,58.3 L88.0,59.6 L87.7,60.8 L87.4,62.0 L86.9,63.1 L86.4,64.2 L85.8,65.2 L85.1,66.2 L84.4,67.2 L83.5,68.2 L82.5,69.2 L81.4,70.1 L80.3,71.1 L79.0,72.0 L77.7,72.8 L76.4,73.6 L74.8,74.4 L73.1,75.2 L71.3,76.0 L69.3,76.9 L67.2,77.7 L65.0,78.7 L62.6,79.7 L60.0,80.7 L57.2,81.8 L54.3,82.9 L51.4,84.0 L48.5,85.0 L45.7,86.1 L43.1,87.1 L40.7,88.1 L38.4,89.0 L36.1,89.9 L33.8,90.9 L31.6,91.8 L29.5,92.8 L27.5,93.8 L25.6,94.9 L23.9,96.2 L22.5,97.4 L21.2,98.7 L20.1,100.0 L19.1,101.3 L18.3,102.6 L17.6,103.9 L17.0,105.2 L16.3,106.6 L15.8,107.9 L15.4,109.3 L15.1,110.7 L15.0,112.0 L14.9,113.3 L14.8,114.6 L14.8,115.9 L14.8,117.2 L14.8,118.7 L14.8,120.1 L14.9,121.7 L15.1,123.2 L15.4,124.7 L15.7,126.2 L16.2,127.6 L16.7,129.0 L17.3,130.3 L18.0,131.6 L18.8,132.8 L19.7,134.0 L20.6,135.1 L21.6,136.1 L22.6,137.1 L23.7,138.0 L24.9,138.8 L26.1,139.6 L27.4,140.3 L28.7,141.0 L30.1,141.5 L31.5,142.1 L32.9,142.6 L34.5,143.1 L36.1,143.6 L37.8,144.0 L39.5,144.3 L41.2,144.7 L42.9,145.0 L44.6,145.3 L46.3,145.7 L48.2,146.0 L50.1,146.3 L51.9,146.6 L53.8,146.8 L55.7,147.1 L57.6,147.4 L59.4,147.8 L61.2,148.2 L63.0,148.6 L64.8,149.1 L66.7,149.5 L68.5,150.1 L70.3,150.6 L72.1,151.2 L73.9,151.8 L75.6,152.5 L77.4,153.2 L79.2,154.0 L81.0,154.8 L82.8,155.7 L84.5,156.6 L86.1,157.5 L87.6,158.3 L89.0,159.2 L90.2,160.0 L91.4,160.8 L92.5,161.6 L93.4,162.3 L94.2,163.1 L94.9,163.8 L95.4,164.4 L95.8,165.0 L96.0,165.5 L96.2,165.9 L96.2,166.2 L96.2,166.5 L96.2,166.9 L96.1,167.4 L95.9,168.1 L95.7,168.8 L95.3,169.6 L94.9,170.5 L94.4,171.5 L93.7,172.5 L93.0,173.7 L92.1,174.9 L91.2,176.1 L90.3,177.4 L89.3,178.8 L88.2,180.2 L86.9,181.7 L85.6,183.3 L84.2,184.9 L82.8,186.7 L81.4,188.5 L80.0,190.4 L78.8,192.3 L77.6,194.3 L76.5,196.3 L75.3,198.3 L74.3,200.2 L73.2,202.2 L72.2,204.0 L71.3,205.7 L70.5,207.3 L69.7,208.7 L68.9,210.1 L68.1,211.6 L67.3,213.1 L66.5,214.7 L65.7,216.5 L65.0,218.5 L64.3,220.7 L63.6,223.3 L62.9,226.0 L62.2,228.7 L61.7,231.3 L61.1,233.6 L60.7,235.5 L60.4,236.9 L69.6,239.1 L70.0,237.6 L70.4,235.7 L70.9,233.4 L71.5,230.8 L72.1,228.2 L72.8,225.7 L73.4,223.4 L74.0,221.5 L74.6,220.0 L75.2,218.6 L75.8,217.3 L76.4,216.1 L77.1,214.8 L77.9,213.4 L78.8,211.9 L79.7,210.3 L80.6,208.5 L81.6,206.7 L82.6,204.8 L83.7,202.9 L84.7,201.0 L85.8,199.1 L86.9,197.3 L88.0,195.6 L89.0,194.0 L90.2,192.4 L91.5,190.8 L92.8,189.1 L94.1,187.5 L95.4,185.8 L96.6,184.2 L97.7,182.6 L98.6,181.0 L99.5,179.6 L100.3,178.1 L101.1,176.7 L101.8,175.3 L102.4,173.9 L102.9,172.5 L103.3,171.2 L103.6,169.9 L103.9,168.7 L104.0,167.4 L104.0,166.1 L103.8,164.8 L103.4,163.5 L102.9,162.2 L102.2,161.0 L101.4,159.9 L100.4,158.7 L99.4,157.7 L98.3,156.7 L97.1,155.7 L95.8,154.7 L94.4,153.8 L93.0,152.8 L91.5,151.9 L89.8,150.9 L88.0,149.9 L86.1,149.0 L84.2,148.1 L82.2,147.2 L80.3,146.3 L78.4,145.5 L76.5,144.8 L74.5,144.1 L72.6,143.5 L70.6,142.9 L68.7,142.3 L66.7,141.8 L64.8,141.3 L62.8,140.8 L60.8,140.4 L58.8,140.0 L56.9,139.7 L54.9,139.4 L53.0,139.2 L51.2,138.9 L49.4,138.6 L47.7,138.3 L45.9,138.0 L44.2,137.8 L42.5,137.5 L40.8,137.2 L39.2,136.9 L37.8,136.7 L36.4,136.3 L35.1,136.0 L33.8,135.6 L32.6,135.1 L31.4,134.7 L30.4,134.3 L29.4,133.8 L28.5,133.3 L27.6,132.7 L26.8,132.1 L26.0,131.5 L25.3,130.7 L24.5,130.0 L23.9,129.1 L23.3,128.3 L22.7,127.4 L22.2,126.5 L21.8,125.6 L21.5,124.6 L21.2,123.5 L21.0,122.3 L20.9,121.1 L20.8,119.8 L20.8,118.5 L20.8,117.3 L20.8,116.1 L20.9,115.0 L21.1,113.9 L21.3,112.9 L21.5,112.0 L21.8,111.2 L22.1,110.3 L22.5,109.6 L23.0,108.8 L23.7,108.0 L24.5,107.2 L25.2,106.4 L26.1,105.7 L27.0,105.0 L28.0,104.4 L29.1,103.7 L30.4,103.1 L31.8,102.4 L33.5,101.7 L35.4,100.9 L37.4,100.2 L39.6,99.4 L42.0,98.6 L44.4,97.8 L46.9,96.9 L49.4,95.9 L52.2,94.9 L55.0,93.8 L58.0,92.7 L60.9,91.6 L63.8,90.5 L66.5,89.4 L69.0,88.3 L71.3,87.3 L73.5,86.4 L75.5,85.4 L77.5,84.5 L79.5,83.5 L81.4,82.4 L83.2,81.3 L85.0,80.0 L86.6,78.7 L88.1,77.3 L89.4,75.9 L90.7,74.4 L91.9,72.8 L92.9,71.2 L93.8,69.6 L94.6,67.8 L95.2,66.1 L95.7,64.2 L96.0,62.4 L96.2,60.5 L96.2,58.7 L96.2,56.9 L96.0,55.1 L95.7,53.4 L95.2,51.7 L94.6,50.0 L93.9,48.4 L93.1,46.8 L92.2,45.2 L91.2,43.8 L90.2,42.5 L89.1,41.2 L87.9,40.1 L86.5,39.1 L85.1,38.3 L83.8,37.6 L82.4,37.0 L81.2,36.5 L80.0,36.0 L78.9,35.5 L77.9,34.9 L76.8,34.4 L75.7,33.8 L74.7,33.3 L73.7,32.9 L72.9,32.5 L72.2,32.1 L71.6,31.9 Z" fill="#7a7c36" stroke="#30320a" stroke-width="1" stroke-linejoin="round"/><path d="M71.0,33.0 L71.5,33.4 L72.1,33.8 L72.9,34.3 L73.8,34.9 L74.7,35.5 L75.7,36.1 L76.7,36.8 L77.7,37.5 L78.7,38.2 L79.8,38.9 L81.0,39.7 L82.1,40.5 L83.2,41.3 L84.2,42.1 L85.1,43.0 L85.8,44.0 L86.5,45.1 L87.2,46.3 L87.8,47.6 L88.3,49.0 L88.8,50.4 L89.1,51.8 L89.4,53.1 L89.5,54.4 L89.5,55.7 L89.5,57.0 L89.4,58.4 L89.2,59.7 L88.9,61.0 L88.5,62.3 L88.0,63.5 L87.5,64.6 L86.9,65.7 L86.1,66.8 L85.3,67.9 L84.4,69.0 L83.4,70.0 L82.2,71.0 L81.0,72.0 L79.7,72.9 L78.4,73.8 L77.0,74.7 L75.4,75.5 L73.7,76.3 L71.8,77.1 L69.8,78.0 L67.7,78.8 L65.4,79.8 L63.0,80.8 L60.4,81.8 L57.6,82.9 L54.7,84.0 L51.8,85.1 L48.9,86.2 L46.1,87.2 L43.5,88.2 L41.2,89.2 L38.8,90.2 L36.5,91.1 L34.3,92.0 L32.1,92.9 L30.0,93.9 L28.0,94.9 L26.2,95.9 L24.6,97.2 L23.2,98.4 L22.0,99.6 L21.0,100.9 L20.1,102.1 L19.3,103.4 L18.6,104.6 L18.0,105.8 L17.4,107.1 L16.9,108.4 L16.6,109.6 L16.3,110.9 L16.2,112.2 L16.1,113.4 L16.0,114.7 L16.0,115.9 L16.0,117.2 L16.0,118.6 L16.0,120.1 L16.1,121.5 L16.3,123.0 L16.5,124.5 L16.9,125.9 L17.3,127.2 L17.8,128.5 L18.4,129.7 L19.0,130.9 L19.8,132.1 L20.6,133.2 L21.5,134.2 L22.4,135.2 L23.4,136.2 L24.4,137.0 L25.6,137.8 L26.7,138.6 L27.9,139.2 L29.2,139.9 L30.5,140.4 L31.9,141.0 L33.3,141.5 L34.8,142.0 L36.4,142.4 L38.0,142.8 L39.7,143.2 L41.4,143.5 L43.1,143.8 L44.8,144.2 L46.6,144.5 L48.4,144.8 L50.2,145.1 L52.1,145.4 L54.0,145.7 L55.9,145.9 L57.8,146.3 L59.6,146.6 L61.4,147.0 L63.3,147.4 L65.1,147.9 L67.0,148.4 L68.8,148.9 L70.7,149.5 L72.5,150.1 L74.3,150.7 L76.1,151.4 L77.8,152.1 L79.7,152.9 L81.5,153.7 L83.3,154.6 L85.0,155.5 L86.7,156.4 L88.2,157.3 L89.6,158.2 L90.9,159.0 L92.1,159.8 L93.2,160.6 L94.2,161.4 L95.0,162.2 L95.8,163.0 L96.4,163.7 L96.8,164.3 L97.1,165.0 L97.3,165.5 L97.4,166.0 L97.4,166.4 L97.4,167.0 L97.3,167.6 L97.1,168.3 L96.8,169.2 L96.5,170.1 L96.0,171.0 L95.4,172.0 L94.8,173.1 L94.0,174.3 L93.2,175.5 L92.2,176.8 L91.3,178.1 L90.3,179.5 L89.1,180.9 L87.9,182.4 L86.5,184.0 L85.1,185.7 L83.7,187.4 L82.4,189.2 L81.0,191.0 L79.8,192.9 L78.7,194.9 L77.5,196.9 L76.4,198.8 L75.3,200.8 L74.3,202.7 L73.3,204.6 L72.4,206.3 L71.5,207.9 L70.7,209.3 L69.9,210.7 L69.1,212.1 L68.4,213.6 L67.6,215.2 L66.9,216.9 L66.1,218.8 L65.4,221.1 L64.7,223.6 L64.1,226.3 L63.4,228.9 L62.8,231.5 L62.3,233.8 L61.9,235.8 L61.5,237.2" fill="none" stroke="#b8ba66" stroke-width="1.3"/><path d="M71.1,32.8 L71.7,33.0 L72.4,33.3 L73.2,33.7 L74.2,34.2 L75.2,34.7 L76.3,35.2 L77.3,35.8 L78.4,36.4 L79.5,36.9 L80.7,37.4 L81.9,37.9 L83.3,38.5 L84.6,39.1 L85.9,39.9 L87.2,40.8 L88.3,41.9 L89.4,43.0 L90.4,44.3 L91.3,45.7 L92.2,47.2 L93.0,48.7 L93.7,50.3 L94.3,51.9 L94.7,53.6 L95.0,55.2 L95.2,56.9 L95.2,58.7 L95.2,60.4 L95.0,62.2 L94.7,64.0 L94.3,65.7 L93.7,67.4 L92.9,69.1 L92.1,70.7 L91.1,72.2 L89.9,73.7 L88.7,75.2 L87.4,76.6 L85.9,77.9 L84.4,79.2 L82.7,80.4 L80.9,81.6 L79.0,82.6 L77.1,83.6 L75.1,84.5 L73.1,85.5 L70.9,86.4 L68.7,87.4 L66.2,88.5 L63.4,89.5 L60.6,90.7 L57.6,91.8 L54.7,92.9 L51.8,93.9 L49.1,95.0 L46.5,96.0 L44.1,96.9 L41.6,97.7 L39.3,98.5 L37.1,99.3 L35.0,100.0 L33.1,100.8 L31.4,101.5 L29.9,102.2 L28.6,102.9 L27.4,103.6 L26.3,104.3 L25.3,105.0 L24.5,105.8 L23.6,106.6 L22.9,107.4 L22.2,108.3 L21.6,109.1 L21.2,110.0 L20.8,110.9 L20.5,111.8 L20.3,112.8 L20.1,113.8 L19.9,114.9 L19.8,116.1 L19.8,117.3 L19.8,118.6 L19.8,119.9 L19.9,121.2 L20.1,122.5 L20.3,123.7 L20.5,124.9 L20.9,125.9 L21.3,126.9 L21.8,127.9 L22.4,128.8 L23.1,129.7 L23.8,130.6 L24.5,131.4 L25.3,132.2 L26.1,132.9 L27.0,133.5 L27.9,134.1 L28.9,134.6 L29.9,135.1 L31.0,135.6 L32.2,136.1 L33.5,136.5 L34.8,136.9 L36.1,137.3 L37.5,137.6 L39.0,137.9 L40.6,138.2 L42.3,138.5 L44.0,138.7 L45.7,139.0 L47.5,139.3 L49.2,139.6 L51.0,139.9 L52.9,140.1 L54.8,140.4 L56.7,140.7 L58.7,141.0 L60.7,141.4 L62.6,141.8 L64.5,142.3 L66.5,142.8 L68.4,143.3 L70.3,143.8 L72.3,144.4 L74.2,145.0 L76.1,145.7 L78.0,146.4 L79.9,147.2 L81.8,148.1 L83.8,149.0 L85.7,149.9 L87.5,150.8 L89.3,151.8 L90.9,152.7 L92.5,153.7 L93.9,154.6 L95.2,155.5 L96.5,156.5 L97.6,157.4 L98.7,158.4 L99.7,159.4 L100.6,160.5 L101.3,161.6 L102.0,162.7 L102.5,163.8 L102.8,165.0 L103.0,166.2 L103.0,167.4 L102.9,168.5 L102.7,169.7 L102.4,170.9 L102.0,172.2 L101.5,173.5 L100.9,174.9 L100.2,176.2 L99.5,177.6 L98.7,179.0 L97.8,180.5 L96.9,182.0 L95.8,183.6 L94.6,185.2 L93.3,186.8 L92.0,188.5 L90.7,190.1 L89.4,191.8 L88.2,193.4 L87.1,195.1 L86.0,196.8 L84.9,198.6 L83.9,200.5 L82.8,202.4 L81.7,204.3 L80.7,206.2 L79.7,208.0 L78.8,209.8 L77.9,211.4 L77.1,212.9 L76.3,214.3 L75.6,215.6 L74.9,216.9 L74.3,218.2 L73.6,219.6 L73.0,221.2 L72.4,223.2 L71.8,225.5 L71.1,228.0 L70.5,230.6 L69.9,233.1 L69.4,235.4 L69.0,237.4 L68.7,238.9" fill="none" stroke="#5c5e20" stroke-width="1.2"/>
</g>
<path d="M56,152 C62,149 70,147 78,144 C82,142 84,140 86,138" fill="none" stroke="#6c0808" stroke-width="4.4" stroke-linecap="round" stroke-linejoin="round"/>
<path d="M56,152 C62,149 70,147 78,144 C82,142 84,140 86,138" fill="none" stroke="#c41414" stroke-width="3.0" stroke-linecap="round" stroke-linejoin="round"/>
<path d="M57,155 C64,155 70,155 75,154 C80,152 83,150 86,147" fill="none" stroke="#6c0808" stroke-width="3.8" stroke-linecap="round" stroke-linejoin="round"/>
<path d="M57,155 C64,155 70,155 75,154 C80,152 83,150 86,147" fill="none" stroke="#c41414" stroke-width="2.4" stroke-linecap="round" stroke-linejoin="round"/>
<path d="M72,141 C74,136 77,131 80,128 C83,125 84,121 83,117" fill="none" stroke="#6c0808" stroke-width="3.6" stroke-linecap="round" stroke-linejoin="round"/>
<path d="M72,141 C74,136 77,131 80,128 C83,125 84,121 83,117" fill="none" stroke="#c41414" stroke-width="2.2" stroke-linecap="round" stroke-linejoin="round"/>
<path d="M133,145 C136,146.5 140,147 146,145 C151,143 155,140 161,137.5 C164,136.5 167,135.5 171,134" fill="none" stroke="#6c0808" stroke-width="3.3" stroke-linecap="round" stroke-linejoin="round"/>
<path d="M133,145 C136,146.5 140,147 146,145 C151,143 155,140 161,137.5 C164,136.5 167,135.5 171,134" fill="none" stroke="#c41414" stroke-width="1.9" stroke-linecap="round" stroke-linejoin="round"/>
<path d="M172,136 C172,128 178,125 183,127 C188,130 187,137 182,139 C178,140.5 175,138 178,134" fill="none" stroke="#6c0808" stroke-width="4.4" stroke-linecap="round" stroke-linejoin="round"/>
<path d="M172,136 C172,128 178,125 183,127 C188,130 187,137 182,139 C178,140.5 175,138 178,134" fill="none" stroke="#c41414" stroke-width="3.0" stroke-linecap="round" stroke-linejoin="round"/>
<path d="M187,135 C191,132 197,132 201,135 C204,138 206,140 208,139" fill="none" stroke="#6c0808" stroke-width="4.4" stroke-linecap="round" stroke-linejoin="round"/>
<path d="M187,135 C191,132 197,132 201,135 C204,138 206,140 208,139" fill="none" stroke="#c41414" stroke-width="3.0" stroke-linecap="round" stroke-linejoin="round"/>
<path d="M188,140 C193,143 199,143 204,141" fill="none" stroke="#6c0808" stroke-width="3.6" stroke-linecap="round" stroke-linejoin="round"/>
<path d="M188,140 C193,143 199,143 204,141" fill="none" stroke="#c41414" stroke-width="2.2" stroke-linecap="round" stroke-linejoin="round"/>
<line x1="134.5" y1="131.4" x2="134.5" y2="136.4" stroke="#62bccb" stroke-width="1.8"/>
<line x1="134.5" y1="136.4" x2="132.4" y2="140.7" stroke="#62bccb" stroke-width="1.8"/>
<line x1="132.4" y1="140.7" x2="133.1" y2="145.6" stroke="#62bccb" stroke-width="1.8"/>
<line x1="133.1" y1="145.6" x2="133.1" y2="149.9" stroke="#62bccb" stroke-width="1.8"/>
<line x1="133.1" y1="149.9" x2="134.5" y2="153.5" stroke="#62bccb" stroke-width="1.8"/>
<line x1="143.1" y1="142.8" x2="146" y2="149.2" stroke="#62bccb" stroke-width="1.8"/>
<line x1="146" y1="149.2" x2="148.8" y2="150.6" stroke="#62bccb" stroke-width="1.8"/>
<line x1="148.8" y1="150.6" x2="151.6" y2="152" stroke="#62bccb" stroke-width="1.8"/>
<line x1="151.6" y1="152" x2="155.2" y2="154.2" stroke="#62bccb" stroke-width="1.8"/>
<line x1="151.6" y1="152" x2="150.9" y2="157.7" stroke="#62bccb" stroke-width="1.8"/>
<line x1="147.4" y1="127.8" x2="150.9" y2="130.7" stroke="#62bccb" stroke-width="1.8"/>
<line x1="150.9" y1="130.7" x2="152.4" y2="133.5" stroke="#62bccb" stroke-width="1.8"/>
<line x1="144.5" y1="130.7" x2="147.4" y2="127.8" stroke="#62bccb" stroke-width="1.8"/>
<line x1="165.2" y1="137.1" x2="163.7" y2="142.1" stroke="#62bccb" stroke-width="1.8"/>
<line x1="163.7" y1="142.1" x2="164.5" y2="146.4" stroke="#62bccb" stroke-width="1.8"/>
<line x1="164.5" y1="146.4" x2="164.5" y2="150.6" stroke="#62bccb" stroke-width="1.8"/>
<line x1="164.5" y1="150.6" x2="165.2" y2="154.2" stroke="#62bccb" stroke-width="1.8"/>
<line x1="165.2" y1="154.2" x2="164.5" y2="158.5" stroke="#62bccb" stroke-width="1.8"/>
<line x1="175.6" y1="124" x2="180.3" y2="123" stroke="#62bccb" stroke-width="1.8"/>
<line x1="175.6" y1="124" x2="176.5" y2="129.7" stroke="#62bccb" stroke-width="1.8"/>
<line x1="210.7" y1="140.1" x2="214.5" y2="140.1" stroke="#62bccb" stroke-width="1.8"/>
<line x1="205" y1="142" x2="210.7" y2="140.1" stroke="#62bccb" stroke-width="1.8"/>
<line x1="192.7" y1="114.5" x2="190.8" y2="120.2" stroke="#62bccb" stroke-width="1.8"/>
<line x1="190.8" y1="120.2" x2="195.5" y2="121.1" stroke="#62bccb" stroke-width="1.8"/>
<line x1="195.5" y1="121.1" x2="196.5" y2="124.9" stroke="#62bccb" stroke-width="1.8"/>
<line x1="196.5" y1="124.9" x2="194.6" y2="127.8" stroke="#62bccb" stroke-width="1.8"/>
<line x1="194.6" y1="127.8" x2="192.7" y2="131.6" stroke="#62bccb" stroke-width="1.8"/>
<line x1="186" y1="119.2" x2="190.8" y2="120.2" stroke="#62bccb" stroke-width="1.8"/>
<line x1="187" y1="139.2" x2="191.7" y2="140.1" stroke="#62bccb" stroke-width="1.8"/>
<line x1="191.7" y1="140.1" x2="192.7" y2="145.8" stroke="#62bccb" stroke-width="1.8"/>
<line x1="187" y1="144.8" x2="187" y2="149.6" stroke="#62bccb" stroke-width="1.8"/>
<line x1="187" y1="149.6" x2="191.7" y2="149.6" stroke="#62bccb" stroke-width="1.8"/>
<line x1="191.7" y1="149.6" x2="194.6" y2="153.4" stroke="#62bccb" stroke-width="1.8"/>
<line x1="194.6" y1="153.4" x2="198.4" y2="157.2" stroke="#62bccb" stroke-width="1.8"/>
<line x1="198.4" y1="157.2" x2="199.3" y2="160" stroke="#62bccb" stroke-width="1.8"/>
<line x1="169" y1="140.1" x2="169.9" y2="143.9" stroke="#62bccb" stroke-width="1.8"/>
<line x1="169.9" y1="143.9" x2="169" y2="156.2" stroke="#62bccb" stroke-width="1.8"/>
<line x1="81.6" y1="140.2" x2="85.4" y2="142.7" stroke="#62bccb" stroke-width="1.8"/>
<line x1="85.4" y1="142.7" x2="88.5" y2="144" stroke="#62bccb" stroke-width="1.8"/>
<line x1="88.5" y1="144" x2="91.7" y2="145.9" stroke="#62bccb" stroke-width="1.8"/>
<line x1="91.7" y1="145.9" x2="93.6" y2="147.2" stroke="#62bccb" stroke-width="1.8"/>
<line x1="93.6" y1="147.2" x2="96.8" y2="148.4" stroke="#62bccb" stroke-width="1.8"/>
<line x1="96.8" y1="148.4" x2="95.5" y2="150.3" stroke="#62bccb" stroke-width="1.8"/>
<line x1="95.5" y1="150.3" x2="98.7" y2="154.7" stroke="#62bccb" stroke-width="1.8"/>
<line x1="67.7" y1="149" x2="64.5" y2="148.4" stroke="#62bccb" stroke-width="1.8"/>
<line x1="66.4" y1="159.2" x2="67.7" y2="158.5" stroke="#62bccb" stroke-width="1.8"/>
<line x1="66.4" y1="159.2" x2="62.6" y2="160.4" stroke="#62bccb" stroke-width="1.8"/>
<line x1="71.5" y1="137" x2="67.7" y2="135.8" stroke="#62bccb" stroke-width="1.8"/>
<line x1="72.7" y1="144.6" x2="75.9" y2="144.6" stroke="#62bccb" stroke-width="1.8"/>
<circle cx="133.3" cy="133.8" r="1.5" fill="#f4f4f4" stroke="#a8a8a8" stroke-width="0.5"/>
<circle cx="131.6" cy="143.4" r="1.5" fill="#f4f4f4" stroke="#a8a8a8" stroke-width="0.5"/>
<circle cx="130.3" cy="149.3" r="1.5" fill="#f4f4f4" stroke="#a8a8a8" stroke-width="0.5"/>
<circle cx="147.3" cy="131.8" r="1.5" fill="#f4f4f4" stroke="#a8a8a8" stroke-width="0.5"/>
<circle cx="153.7" cy="131.4" r="1.5" fill="#f4f4f4" stroke="#a8a8a8" stroke-width="0.5"/>
<circle cx="154.8" cy="134.6" r="1.5" fill="#f4f4f4" stroke="#a8a8a8" stroke-width="0.5"/>
<circle cx="143.2" cy="150.7" r="1.5" fill="#f4f4f4" stroke="#a8a8a8" stroke-width="0.5"/>
<circle cx="150.8" cy="152.5" r="1.5" fill="#f4f4f4" stroke="#a8a8a8" stroke-width="0.5"/>
<circle cx="149.3" cy="149.7" r="1.5" fill="#f4f4f4" stroke="#a8a8a8" stroke-width="0.5"/>
<circle cx="161.2" cy="140.8" r="1.5" fill="#f4f4f4" stroke="#a8a8a8" stroke-width="0.5"/>
<circle cx="167.1" cy="146.0" r="1.5" fill="#f4f4f4" stroke="#a8a8a8" stroke-width="0.5"/>
<circle cx="167.0" cy="152.0" r="1.5" fill="#f4f4f4" stroke="#a8a8a8" stroke-width="0.5"/>
<circle cx="171.9" cy="143.5" r="1.5" fill="#f4f4f4" stroke="#a8a8a8" stroke-width="0.5"/>
<circle cx="190.6" cy="116.5" r="1.5" fill="#f4f4f4" stroke="#a8a8a8" stroke-width="0.5"/>
<circle cx="192.1" cy="122.9" r="1.5" fill="#f4f4f4" stroke="#a8a8a8" stroke-width="0.5"/>
<circle cx="193.7" cy="118.9" r="1.5" fill="#f4f4f4" stroke="#a8a8a8" stroke-width="0.5"/>
<circle cx="194.0" cy="124.1" r="1.5" fill="#f4f4f4" stroke="#a8a8a8" stroke-width="0.5"/>
<circle cx="197.2" cy="128.8" r="1.5" fill="#f4f4f4" stroke="#a8a8a8" stroke-width="0.5"/>
<circle cx="191.5" cy="129.0" r="1.5" fill="#f4f4f4" stroke="#a8a8a8" stroke-width="0.5"/>
<circle cx="174.4" cy="126.8" r="1.5" fill="#f4f4f4" stroke="#a8a8a8" stroke-width="0.5"/>
<circle cx="173.8" cy="130.5" r="1.5" fill="#f4f4f4" stroke="#a8a8a8" stroke-width="0.5"/>
<circle cx="169.9" cy="137.1" r="1.5" fill="#f4f4f4" stroke="#a8a8a8" stroke-width="0.5"/>
<circle cx="170.0" cy="146.9" r="1.5" fill="#f4f4f4" stroke="#a8a8a8" stroke-width="0.5"/>
<circle cx="183.8" cy="138.7" r="1.5" fill="#f4f4f4" stroke="#a8a8a8" stroke-width="0.5"/>
<circle cx="191.3" cy="137.3" r="1.5" fill="#f4f4f4" stroke="#a8a8a8" stroke-width="0.5"/>
<circle cx="200.1" cy="142.7" r="1.5" fill="#f4f4f4" stroke="#a8a8a8" stroke-width="0.5"/>
<circle cx="186.2" cy="145.4" r="1.5" fill="#f4f4f4" stroke="#a8a8a8" stroke-width="0.5"/>
<circle cx="193.4" cy="152.0" r="1.5" fill="#f4f4f4" stroke="#a8a8a8" stroke-width="0.5"/>
<circle cx="197.6" cy="154.1" r="1.5" fill="#f4f4f4" stroke="#a8a8a8" stroke-width="0.5"/>
<circle cx="198.7" cy="154.2" r="1.5" fill="#f4f4f4" stroke="#a8a8a8" stroke-width="0.5"/>
<circle cx="212.7" cy="138.1" r="1.5" fill="#f4f4f4" stroke="#a8a8a8" stroke-width="0.5"/>
<circle cx="213.5" cy="137.3" r="1.5" fill="#f4f4f4" stroke="#a8a8a8" stroke-width="0.5"/>
<circle cx="68.9" cy="135.6" r="1.5" fill="#f4f4f4" stroke="#a8a8a8" stroke-width="0.5"/>
<circle cx="74.4" cy="141.8" r="1.5" fill="#f4f4f4" stroke="#a8a8a8" stroke-width="0.5"/>
<circle cx="78.6" cy="140.7" r="1.5" fill="#f4f4f4" stroke="#a8a8a8" stroke-width="0.5"/>
<circle cx="88.3" cy="143.8" r="1.5" fill="#f4f4f4" stroke="#a8a8a8" stroke-width="0.5"/>
<circle cx="86.5" cy="141.4" r="1.5" fill="#f4f4f4" stroke="#a8a8a8" stroke-width="0.5"/>
<circle cx="92.9" cy="143.4" r="1.5" fill="#f4f4f4" stroke="#a8a8a8" stroke-width="0.5"/>
<circle cx="91.3" cy="149.2" r="1.5" fill="#f4f4f4" stroke="#a8a8a8" stroke-width="0.5"/>
<circle cx="99.7" cy="148.8" r="1.5" fill="#f4f4f4" stroke="#a8a8a8" stroke-width="0.5"/>
<circle cx="69.0" cy="151.3" r="1.5" fill="#f4f4f4" stroke="#a8a8a8" stroke-width="0.5"/>
<circle cx="69.3" cy="160.3" r="1.5" fill="#f4f4f4" stroke="#a8a8a8" stroke-width="0.5"/>
<circle cx="87.5" cy="122.0" r="1.5" fill="#f4f4f4" stroke="#a8a8a8" stroke-width="0.5"/>
<circle cx="82.2" cy="131.1" r="1.5" fill="#f4f4f4" stroke="#a8a8a8" stroke-width="0.5"/>
<circle cx="70.9" cy="125.0" r="1.5" fill="#f4f4f4" stroke="#a8a8a8" stroke-width="0.5"/>
<circle cx="94.4" cy="123.1" r="1.5" fill="#f4f4f4" stroke="#a8a8a8" stroke-width="0.5"/>
<circle cx="83.5" cy="133.8" r="1.5" fill="#f4f4f4" stroke="#a8a8a8" stroke-width="0.5"/>
<circle cx="60.0" cy="153.5" r="1.5" fill="#f4f4f4" stroke="#a8a8a8" stroke-width="0.5"/>
<circle cx="72.6" cy="152.3" r="1.5" fill="#f4f4f4" stroke="#a8a8a8" stroke-width="0.5"/>
<circle cx="96.6" cy="119.1" r="1.5" fill="#f4f4f4" stroke="#a8a8a8" stroke-width="0.5"/>
<circle cx="99.0" cy="123.9" r="1.5" fill="#f4f4f4" stroke="#a8a8a8" stroke-width="0.5"/>
<circle cx="90.8" cy="120.5" r="1.5" fill="#f4f4f4" stroke="#a8a8a8" stroke-width="0.5"/>
<circle cx="73.9" cy="142.1" r="1.5" fill="#f4f4f4" stroke="#a8a8a8" stroke-width="0.5"/>
<circle cx="74.6" cy="146.5" r="1.5" fill="#f4f4f4" stroke="#a8a8a8" stroke-width="0.5"/>
<circle cx="88.4" cy="141.1" r="1.5" fill="#f4f4f4" stroke="#a8a8a8" stroke-width="0.5"/>
<circle cx="88.0" cy="144.0" r="1.5" fill="#f4f4f4" stroke="#a8a8a8" stroke-width="0.5"/>
<circle cx="80.8" cy="117.6" r="1.5" fill="#f4f4f4" stroke="#a8a8a8" stroke-width="0.5"/>
<circle cx="82.5" cy="122.1" r="1.5" fill="#f4f4f4" stroke="#a8a8a8" stroke-width="0.5"/>
<circle cx="79.2" cy="130.8" r="1.5" fill="#f4f4f4" stroke="#a8a8a8" stroke-width="0.5"/>
<circle cx="78.8" cy="137.8" r="1.5" fill="#f4f4f4" stroke="#a8a8a8" stroke-width="0.5"/>
<circle cx="136.9" cy="138.2" r="1.5" fill="#f4f4f4" stroke="#a8a8a8" stroke-width="0.5"/>
<circle cx="149.8" cy="128.8" r="1.5" fill="#f4f4f4" stroke="#a8a8a8" stroke-width="0.5"/>
<circle cx="155.9" cy="156.8" r="1.5" fill="#f4f4f4" stroke="#a8a8a8" stroke-width="0.5"/>
<circle cx="149.5" cy="159.9" r="1.5" fill="#f4f4f4" stroke="#a8a8a8" stroke-width="0.5"/>
<circle cx="167.2" cy="150.6" r="1.5" fill="#f4f4f4" stroke="#a8a8a8" stroke-width="0.5"/>
<circle cx="166.8" cy="160.2" r="1.5" fill="#f4f4f4" stroke="#a8a8a8" stroke-width="0.5"/>
<circle cx="172.2" cy="156.7" r="1.5" fill="#f4f4f4" stroke="#a8a8a8" stroke-width="0.5"/>
<circle cx="190.7" cy="112.7" r="1.5" fill="#f4f4f4" stroke="#a8a8a8" stroke-width="0.5"/>
<circle cx="186.0" cy="122.0" r="1.5" fill="#f4f4f4" stroke="#a8a8a8" stroke-width="0.5"/>
<circle cx="185.2" cy="146.8" r="1.5" fill="#f4f4f4" stroke="#a8a8a8" stroke-width="0.5"/>
<circle cx="194.6" cy="143.1" r="1.5" fill="#f4f4f4" stroke="#a8a8a8" stroke-width="0.5"/>
<circle cx="184.1" cy="150.2" r="1.5" fill="#f4f4f4" stroke="#a8a8a8" stroke-width="0.5"/>
<circle cx="197.8" cy="151.9" r="1.5" fill="#f4f4f4" stroke="#a8a8a8" stroke-width="0.5"/>
<circle cx="195.0" cy="157.6" r="1.5" fill="#f4f4f4" stroke="#a8a8a8" stroke-width="0.5"/>
<circle cx="200.6" cy="157.6" r="1.5" fill="#f4f4f4" stroke="#a8a8a8" stroke-width="0.5"/>
<circle cx="208.2" cy="142.5" r="1.5" fill="#f4f4f4" stroke="#a8a8a8" stroke-width="0.5"/>
<circle cx="65.0" cy="135.3" r="1.5" fill="#f4f4f4" stroke="#a8a8a8" stroke-width="0.5"/>
<circle cx="73.4" cy="143.9" r="1.5" fill="#f4f4f4" stroke="#a8a8a8" stroke-width="0.5"/>
<circle cx="61.3" cy="147.8" r="1.5" fill="#f4f4f4" stroke="#a8a8a8" stroke-width="0.5"/>
<circle cx="97.5" cy="148.0" r="1.5" fill="#f4f4f4" stroke="#a8a8a8" stroke-width="0.5"/>
<circle cx="98.5" cy="157.5" r="1.5" fill="#f4f4f4" stroke="#a8a8a8" stroke-width="0.5"/>
<circle cx="69.3" cy="161.2" r="1.5" fill="#f4f4f4" stroke="#a8a8a8" stroke-width="0.5"/>
<circle cx="67.7" cy="159.8" r="1.5" fill="#f4f4f4" stroke="#a8a8a8" stroke-width="0.5"/>
<circle cx="61.3" cy="162.8" r="1.5" fill="#f4f4f4" stroke="#a8a8a8" stroke-width="0.5"/>
<circle cx="100.5" cy="141.0" r="1.5" fill="#f4f4f4" stroke="#a8a8a8" stroke-width="0.5"/>
<circle cx="95.9" cy="114.9" r="1.5" fill="#f4f4f4" stroke="#a8a8a8" stroke-width="0.5"/>
<circle cx="101.9" cy="112.5" r="1.5" fill="#f4f4f4" stroke="#a8a8a8" stroke-width="0.5"/>
<circle cx="60.4" cy="148.9" r="1.5" fill="#f4f4f4" stroke="#a8a8a8" stroke-width="0.5"/>
<circle cx="77.4" cy="97.9" r="1.5" fill="#f4f4f4" stroke="#a8a8a8" stroke-width="0.5"/>
<circle cx="104.8" cy="116.5" r="1.5" fill="#f4f4f4" stroke="#a8a8a8" stroke-width="0.5"/>
<circle cx="93.0" cy="117.5" r="1.5" fill="#f4f4f4" stroke="#a8a8a8" stroke-width="0.5"/>
<circle cx="71.6" cy="133.5" r="1.5" fill="#f4f4f4" stroke="#a8a8a8" stroke-width="0.5"/>
<circle cx="66.3" cy="146.3" r="1.5" fill="#f4f4f4" stroke="#a8a8a8" stroke-width="0.5"/>
<circle cx="64.9" cy="157.9" r="1.5" fill="#f4f4f4" stroke="#a8a8a8" stroke-width="0.5"/>
<circle cx="70.5" cy="161.4" r="1.5" fill="#f4f4f4" stroke="#a8a8a8" stroke-width="0.5"/>
<circle cx="98.5" cy="148.0" r="1.5" fill="#f4f4f4" stroke="#a8a8a8" stroke-width="0.5"/>
<circle cx="94.2" cy="149.7" r="1.5" fill="#f4f4f4" stroke="#a8a8a8" stroke-width="0.5"/>
<circle cx="102.6" cy="147.3" r="1.5" fill="#f4f4f4" stroke="#a8a8a8" stroke-width="0.5"/>
<circle cx="134.5" cy="131.4" r="2.3" fill="#62bccb" stroke="#2e7484" stroke-width="0.5"/>
<circle cx="133.1" cy="145.6" r="2.3" fill="#62bccb" stroke="#2e7484" stroke-width="0.5"/>
<circle cx="133.1" cy="149.9" r="2.3" fill="#62bccb" stroke="#2e7484" stroke-width="0.5"/>
<circle cx="144.5" cy="130.7" r="2.3" fill="#62bccb" stroke="#2e7484" stroke-width="0.5"/>
<circle cx="150.9" cy="130.7" r="2.3" fill="#62bccb" stroke="#2e7484" stroke-width="0.5"/>
<circle cx="152.4" cy="133.5" r="2.3" fill="#62bccb" stroke="#2e7484" stroke-width="0.5"/>
<circle cx="146.0" cy="149.2" r="2.3" fill="#62bccb" stroke="#2e7484" stroke-width="0.5"/>
<circle cx="148.8" cy="150.6" r="2.3" fill="#62bccb" stroke="#2e7484" stroke-width="0.5"/>
<circle cx="151.6" cy="152.0" r="2.3" fill="#62bccb" stroke="#2e7484" stroke-width="0.5"/>
<circle cx="163.7" cy="142.1" r="2.3" fill="#62bccb" stroke="#2e7484" stroke-width="0.5"/>
<circle cx="164.5" cy="146.4" r="2.3" fill="#62bccb" stroke="#2e7484" stroke-width="0.5"/>
<circle cx="165.2" cy="154.2" r="2.3" fill="#62bccb" stroke="#2e7484" stroke-width="0.5"/>
<circle cx="170.2" cy="141.4" r="2.3" fill="#62bccb" stroke="#2e7484" stroke-width="0.5"/>
<circle cx="191.7" cy="113.5" r="2.3" fill="#62bccb" stroke="#2e7484" stroke-width="0.5"/>
<circle cx="190.8" cy="120.2" r="2.3" fill="#62bccb" stroke="#2e7484" stroke-width="0.5"/>
<circle cx="195.5" cy="121.1" r="2.3" fill="#62bccb" stroke="#2e7484" stroke-width="0.5"/>
<circle cx="196.5" cy="124.9" r="2.3" fill="#62bccb" stroke="#2e7484" stroke-width="0.5"/>
<circle cx="194.6" cy="127.8" r="2.3" fill="#62bccb" stroke="#2e7484" stroke-width="0.5"/>
<circle cx="192.7" cy="131.6" r="2.3" fill="#62bccb" stroke="#2e7484" stroke-width="0.5"/>
<circle cx="175.6" cy="124.0" r="2.3" fill="#62bccb" stroke="#2e7484" stroke-width="0.5"/>
<circle cx="176.5" cy="129.7" r="2.3" fill="#62bccb" stroke="#2e7484" stroke-width="0.5"/>
<circle cx="169.0" cy="140.1" r="2.3" fill="#62bccb" stroke="#2e7484" stroke-width="0.5"/>
<circle cx="169.9" cy="143.9" r="2.3" fill="#62bccb" stroke="#2e7484" stroke-width="0.5"/>
<circle cx="187.0" cy="139.2" r="2.3" fill="#62bccb" stroke="#2e7484" stroke-width="0.5"/>
<circle cx="191.7" cy="140.1" r="2.3" fill="#62bccb" stroke="#2e7484" stroke-width="0.5"/>
<circle cx="197.4" cy="143.0" r="2.3" fill="#62bccb" stroke="#2e7484" stroke-width="0.5"/>
<circle cx="188.9" cy="143.9" r="2.3" fill="#62bccb" stroke="#2e7484" stroke-width="0.5"/>
<circle cx="191.7" cy="149.6" r="2.3" fill="#62bccb" stroke="#2e7484" stroke-width="0.5"/>
<circle cx="194.6" cy="153.4" r="2.3" fill="#62bccb" stroke="#2e7484" stroke-width="0.5"/>
<circle cx="198.4" cy="157.2" r="2.3" fill="#62bccb" stroke="#2e7484" stroke-width="0.5"/>
<circle cx="210.7" cy="140.1" r="2.3" fill="#62bccb" stroke="#2e7484" stroke-width="0.5"/>
<circle cx="214.5" cy="140.1" r="2.3" fill="#62bccb" stroke="#2e7484" stroke-width="0.5"/>
<circle cx="71.5" cy="137.0" r="2.3" fill="#62bccb" stroke="#2e7484" stroke-width="0.5"/>
<circle cx="72.7" cy="144.6" r="2.3" fill="#62bccb" stroke="#2e7484" stroke-width="0.5"/>
<circle cx="81.6" cy="140.2" r="2.3" fill="#62bccb" stroke="#2e7484" stroke-width="0.5"/>
<circle cx="85.4" cy="142.7" r="2.3" fill="#62bccb" stroke="#2e7484" stroke-width="0.5"/>
<circle cx="88.5" cy="144.0" r="2.3" fill="#62bccb" stroke="#2e7484" stroke-width="0.5"/>
<circle cx="91.7" cy="145.9" r="2.3" fill="#62bccb" stroke="#2e7484" stroke-width="0.5"/>
<circle cx="93.6" cy="147.2" r="2.3" fill="#62bccb" stroke="#2e7484" stroke-width="0.5"/>
<circle cx="96.8" cy="148.4" r="2.3" fill="#62bccb" stroke="#2e7484" stroke-width="0.5"/>
<circle cx="67.7" cy="149.0" r="2.3" fill="#62bccb" stroke="#2e7484" stroke-width="0.5"/>
<circle cx="66.4" cy="159.2" r="2.3" fill="#62bccb" stroke="#2e7484" stroke-width="0.5"/>
<circle cx="95.9" cy="123.0" r="2.3" fill="#62bccb" stroke="#2e7484" stroke-width="0.5"/>
<circle cx="90.0" cy="120.0" r="2.3" fill="#62bccb" stroke="#2e7484" stroke-width="0.5"/>
<circle cx="79.7" cy="129.7" r="2.3" fill="#62bccb" stroke="#2e7484" stroke-width="0.5"/>
<circle cx="74.0" cy="126.0" r="2.3" fill="#62bccb" stroke="#2e7484" stroke-width="0.5"/>
<circle cx="93.0" cy="126.0" r="2.3" fill="#62bccb" stroke="#2e7484" stroke-width="0.5"/>
<circle cx="84.0" cy="131.0" r="2.3" fill="#62bccb" stroke="#2e7484" stroke-width="0.5"/>
<circle cx="62.0" cy="151.0" r="2.3" fill="#62bccb" stroke="#2e7484" stroke-width="0.5"/>
<circle cx="70.0" cy="153.0" r="2.3" fill="#62bccb" stroke="#2e7484" stroke-width="0.5"/>
<circle cx="95.4" cy="116.6" r="2.3" fill="#62bccb" stroke="#2e7484" stroke-width="0.5"/>
<circle cx="98.7" cy="121.0" r="2.3" fill="#62bccb" stroke="#2e7484" stroke-width="0.5"/>
<circle cx="93.2" cy="122.0" r="2.3" fill="#62bccb" stroke="#2e7484" stroke-width="0.5"/>
<circle cx="71.0" cy="142.0" r="2.3" fill="#62bccb" stroke="#2e7484" stroke-width="0.5"/>
<circle cx="76.6" cy="144.3" r="2.3" fill="#62bccb" stroke="#2e7484" stroke-width="0.5"/>
<circle cx="85.4" cy="142.0" r="2.3" fill="#62bccb" stroke="#2e7484" stroke-width="0.5"/>
<circle cx="91.0" cy="144.3" r="2.3" fill="#62bccb" stroke="#2e7484" stroke-width="0.5"/>
<circle cx="82.0" cy="120.0" r="2.3" fill="#62bccb" stroke="#2e7484" stroke-width="0.5"/>
<circle cx="80.0" cy="124.0" r="2.3" fill="#62bccb" stroke="#2e7484" stroke-width="0.5"/>
<circle cx="77.0" cy="133.0" r="2.3" fill="#62bccb" stroke="#2e7484" stroke-width="0.5"/>
<circle cx="81.0" cy="136.0" r="2.3" fill="#62bccb" stroke="#2e7484" stroke-width="0.5"/>
<circle cx="132.4" cy="140.7" r="2.6" fill="#c41414" stroke="#600606" stroke-width="0.5"/>
<circle cx="134.5" cy="153.5" r="2.6" fill="#c41414" stroke="#600606" stroke-width="0.5"/>
<circle cx="143.1" cy="142.8" r="2.6" fill="#c41414" stroke="#600606" stroke-width="0.5"/>
<circle cx="165.2" cy="137.1" r="2.6" fill="#c41414" stroke="#600606" stroke-width="0.5"/>
<circle cx="180.3" cy="123.0" r="2.6" fill="#c41414" stroke="#600606" stroke-width="0.5"/>
<circle cx="180.3" cy="138.2" r="2.6" fill="#c41414" stroke="#600606" stroke-width="0.5"/>
<circle cx="207.8" cy="134.4" r="2.6" fill="#c41414" stroke="#600606" stroke-width="0.5"/>
<circle cx="201.2" cy="138.2" r="2.6" fill="#c41414" stroke="#600606" stroke-width="0.5"/>
<circle cx="69.6" cy="140.8" r="2.6" fill="#c41414" stroke="#600606" stroke-width="0.5"/>
<circle cx="72.7" cy="136.4" r="2.6" fill="#c41414" stroke="#600606" stroke-width="0.5"/>
<circle cx="82.8" cy="137.0" r="2.6" fill="#c41414" stroke="#600606" stroke-width="0.5"/>
<circle cx="79.0" cy="132.6" r="2.6" fill="#c41414" stroke="#600606" stroke-width="0.5"/>
<circle cx="57.5" cy="152.2" r="2.6" fill="#c41414" stroke="#600606" stroke-width="0.5"/>
<circle cx="83.0" cy="122.0" r="2.6" fill="#c41414" stroke="#600606" stroke-width="0.5"/>
<circle cx="86.0" cy="126.0" r="2.6" fill="#c41414" stroke="#600606" stroke-width="0.5"/>
<circle cx="134.5" cy="136.4" r="2.2" fill="#1212cc" stroke="#06065c" stroke-width="0.5"/>
<circle cx="147.4" cy="127.8" r="2.2" fill="#1212cc" stroke="#06065c" stroke-width="0.5"/>
<circle cx="155.2" cy="154.2" r="2.2" fill="#1212cc" stroke="#06065c" stroke-width="0.5"/>
<circle cx="150.9" cy="157.7" r="2.2" fill="#1212cc" stroke="#06065c" stroke-width="0.5"/>
<circle cx="164.5" cy="150.6" r="2.2" fill="#1212cc" stroke="#06065c" stroke-width="0.5"/>
<circle cx="164.5" cy="158.5" r="2.2" fill="#1212cc" stroke="#06065c" stroke-width="0.5"/>
<circle cx="169.0" cy="156.2" r="2.2" fill="#1212cc" stroke="#06065c" stroke-width="0.5"/>
<circle cx="192.7" cy="114.5" r="2.2" fill="#1212cc" stroke="#06065c" stroke-width="0.5"/>
<circle cx="186.0" cy="119.2" r="2.2" fill="#1212cc" stroke="#06065c" stroke-width="0.5"/>
<circle cx="187.0" cy="144.8" r="2.2" fill="#1212cc" stroke="#06065c" stroke-width="0.5"/>
<circle cx="192.7" cy="145.8" r="2.2" fill="#1212cc" stroke="#06065c" stroke-width="0.5"/>
<circle cx="187.0" cy="149.6" r="2.2" fill="#1212cc" stroke="#06065c" stroke-width="0.5"/>
<circle cx="195.5" cy="150.5" r="2.2" fill="#1212cc" stroke="#06065c" stroke-width="0.5"/>
<circle cx="196.5" cy="155.3" r="2.2" fill="#1212cc" stroke="#06065c" stroke-width="0.5"/>
<circle cx="199.3" cy="160.0" r="2.2" fill="#1212cc" stroke="#06065c" stroke-width="0.5"/>
<circle cx="205.0" cy="142.0" r="2.2" fill="#1212cc" stroke="#06065c" stroke-width="0.5"/>
<circle cx="67.7" cy="135.8" r="2.2" fill="#1212cc" stroke="#06065c" stroke-width="0.5"/>
<circle cx="75.9" cy="144.6" r="2.2" fill="#1212cc" stroke="#06065c" stroke-width="0.5"/>
<circle cx="64.5" cy="148.4" r="2.2" fill="#1212cc" stroke="#06065c" stroke-width="0.5"/>
<circle cx="95.5" cy="150.3" r="2.2" fill="#1212cc" stroke="#06065c" stroke-width="0.5"/>
<circle cx="98.7" cy="154.7" r="2.2" fill="#1212cc" stroke="#06065c" stroke-width="0.5"/>
<circle cx="67.7" cy="158.5" r="2.2" fill="#1212cc" stroke="#06065c" stroke-width="0.5"/>
<circle cx="70.8" cy="160.4" r="2.2" fill="#1212cc" stroke="#06065c" stroke-width="0.5"/>
<circle cx="62.6" cy="160.4" r="2.2" fill="#1212cc" stroke="#06065c" stroke-width="0.5"/>
<circle cx="99.3" cy="144.0" r="2.2" fill="#1212cc" stroke="#06065c" stroke-width="0.5"/>
<circle cx="94.0" cy="117.4" r="2.2" fill="#1212cc" stroke="#06065c" stroke-width="0.5"/>
<circle cx="100.6" cy="115.3" r="2.2" fill="#1212cc" stroke="#06065c" stroke-width="0.5"/>
<circle cx="60.0" cy="146.0" r="2.2" fill="#1212cc" stroke="#06065c" stroke-width="0.5"/>
<circle cx="79.0" cy="95.8" r="2.2" fill="#1212cc" stroke="#06065c" stroke-width="0.5"/>
<circle cx="102.0" cy="116.0" r="2.2" fill="#1212cc" stroke="#06065c" stroke-width="0.5"/>
<circle cx="93.2" cy="114.4" r="2.2" fill="#1212cc" stroke="#06065c" stroke-width="0.5"/>
<circle cx="68.8" cy="134.3" r="2.2" fill="#1212cc" stroke="#06065c" stroke-width="0.5"/>
<circle cx="63.3" cy="147.6" r="2.2" fill="#1212cc" stroke="#06065c" stroke-width="0.5"/>
<circle cx="62.2" cy="158.7" r="2.2" fill="#1212cc" stroke="#06065c" stroke-width="0.5"/>
<circle cx="70.0" cy="158.7" r="2.2" fill="#1212cc" stroke="#06065c" stroke-width="0.5"/>
<circle cx="97.6" cy="145.4" r="2.2" fill="#1212cc" stroke="#06065c" stroke-width="0.5"/>
<circle cx="96.5" cy="152.0" r="2.2" fill="#1212cc" stroke="#06065c" stroke-width="0.5"/>
<circle cx="101.0" cy="149.8" r="2.2" fill="#1212cc" stroke="#06065c" stroke-width="0.5"/>
<circle cx="131.0" cy="146.4" r="1.4" fill="#f2f2f2" stroke="#989898" stroke-width="0.5"/>
<circle cx="130.3" cy="150.6" r="1.4" fill="#f2f2f2" stroke="#989898" stroke-width="0.5"/>
<circle cx="131.7" cy="155.6" r="1.4" fill="#f2f2f2" stroke="#989898" stroke-width="0.5"/>
<circle cx="136.7" cy="155.6" r="1.4" fill="#f2f2f2" stroke="#989898" stroke-width="0.5"/>
<circle cx="137.4" cy="148.5" r="1.4" fill="#f2f2f2" stroke="#989898" stroke-width="0.5"/>
<circle cx="143.1" cy="133.5" r="1.4" fill="#f2f2f2" stroke="#989898" stroke-width="0.5"/>
<circle cx="146.0" cy="127.1" r="1.4" fill="#f2f2f2" stroke="#989898" stroke-width="0.5"/>
<circle cx="154.5" cy="128.5" r="1.4" fill="#f2f2f2" stroke="#989898" stroke-width="0.5"/>
<circle cx="143.8" cy="152.0" r="1.4" fill="#f2f2f2" stroke="#989898" stroke-width="0.5"/>
<circle cx="147.4" cy="154.9" r="1.4" fill="#f2f2f2" stroke="#989898" stroke-width="0.5"/>
<circle cx="156.6" cy="152.0" r="1.4" fill="#f2f2f2" stroke="#989898" stroke-width="0.5"/>
<circle cx="153.1" cy="161.3" r="1.4" fill="#f2f2f2" stroke="#989898" stroke-width="0.5"/>
<circle cx="148.8" cy="159.9" r="1.4" fill="#f2f2f2" stroke="#989898" stroke-width="0.5"/>
<circle cx="162.3" cy="148.5" r="1.4" fill="#f2f2f2" stroke="#989898" stroke-width="0.5"/>
<circle cx="168.0" cy="148.5" r="1.4" fill="#f2f2f2" stroke="#989898" stroke-width="0.5"/>
<circle cx="162.3" cy="161.3" r="1.4" fill="#f2f2f2" stroke="#989898" stroke-width="0.5"/>
<circle cx="167.3" cy="160.6" r="1.4" fill="#f2f2f2" stroke="#989898" stroke-width="0.5"/>
<circle cx="189.8" cy="111.6" r="1.4" fill="#f2f2f2" stroke="#989898" stroke-width="0.5"/>
<circle cx="195.5" cy="113.5" r="1.4" fill="#f2f2f2" stroke="#989898" stroke-width="0.5"/>
<circle cx="198.4" cy="123.0" r="1.4" fill="#f2f2f2" stroke="#989898" stroke-width="0.5"/>
<circle cx="189.8" cy="124.0" r="1.4" fill="#f2f2f2" stroke="#989898" stroke-width="0.5"/>
<circle cx="174.6" cy="122.1" r="1.4" fill="#f2f2f2" stroke="#989898" stroke-width="0.5"/>
<circle cx="178.4" cy="131.6" r="1.4" fill="#f2f2f2" stroke="#989898" stroke-width="0.5"/>
<circle cx="184.1" cy="150.5" r="1.4" fill="#f2f2f2" stroke="#989898" stroke-width="0.5"/>
<circle cx="190.8" cy="153.4" r="1.4" fill="#f2f2f2" stroke="#989898" stroke-width="0.5"/>
<circle cx="201.2" cy="161.0" r="1.4" fill="#f2f2f2" stroke="#989898" stroke-width="0.5"/>
<circle cx="216.4" cy="139.2" r="1.4" fill="#f2f2f2" stroke="#989898" stroke-width="0.5"/>
<circle cx="213.5" cy="143.9" r="1.4" fill="#f2f2f2" stroke="#989898" stroke-width="0.5"/>
<circle cx="206.9" cy="145.8" r="1.4" fill="#f2f2f2" stroke="#989898" stroke-width="0.5"/>
<circle cx="60.7" cy="147.8" r="1.4" fill="#f2f2f2" stroke="#989898" stroke-width="0.5"/>
<circle cx="71.5" cy="131.3" r="1.4" fill="#f2f2f2" stroke="#989898" stroke-width="0.5"/>
<circle cx="74.0" cy="127.5" r="1.4" fill="#f2f2f2" stroke="#989898" stroke-width="0.5"/>
<circle cx="77.8" cy="137.0" r="1.4" fill="#f2f2f2" stroke="#989898" stroke-width="0.5"/>
<circle cx="86.6" cy="138.9" r="1.4" fill="#f2f2f2" stroke="#989898" stroke-width="0.5"/>
<circle cx="93.0" cy="142.7" r="1.4" fill="#f2f2f2" stroke="#989898" stroke-width="0.5"/>
<circle cx="95.5" cy="141.5" r="1.4" fill="#f2f2f2" stroke="#989898" stroke-width="0.5"/>
<circle cx="98.0" cy="152.2" r="1.4" fill="#f2f2f2" stroke="#989898" stroke-width="0.5"/>
<circle cx="96.8" cy="156.6" r="1.4" fill="#f2f2f2" stroke="#989898" stroke-width="0.5"/>
<circle cx="60.7" cy="158.5" r="1.4" fill="#f2f2f2" stroke="#989898" stroke-width="0.5"/>
<circle cx="74.0" cy="157.9" r="1.4" fill="#f2f2f2" stroke="#989898" stroke-width="0.5"/>
<circle cx="92.1" cy="114.5" r="1.4" fill="#f2f2f2" stroke="#989898" stroke-width="0.5"/>
<circle cx="99.7" cy="122.1" r="1.4" fill="#f2f2f2" stroke="#989898" stroke-width="0.5"/>
<circle cx="103.0" cy="147.0" r="1.4" fill="#f2f2f2" stroke="#989898" stroke-width="0.5"/>
<circle cx="89.0" cy="117.0" r="1.4" fill="#f2f2f2" stroke="#989898" stroke-width="0.5"/>
<circle cx="65.0" cy="156.0" r="1.4" fill="#f2f2f2" stroke="#989898" stroke-width="0.5"/>
<circle cx="76.0" cy="93.0" r="1.4" fill="#f2f2f2" stroke="#989898" stroke-width="0.5"/>
<circle cx="91.0" cy="115.5" r="1.4" fill="#f2f2f2" stroke="#989898" stroke-width="0.5"/>
<circle cx="105.3" cy="122.0" r="1.4" fill="#f2f2f2" stroke="#989898" stroke-width="0.5"/>
<circle cx="58.9" cy="155.3" r="1.4" fill="#f2f2f2" stroke="#989898" stroke-width="0.5"/>
<circle cx="94.3" cy="153.1" r="1.4" fill="#f2f2f2" stroke="#989898" stroke-width="0.5"/>
<circle cx="99.8" cy="155.3" r="1.4" fill="#f2f2f2" stroke="#989898" stroke-width="0.5"/>
<circle cx="78.0" cy="126.0" r="1.4" fill="#f2f2f2" stroke="#989898" stroke-width="0.5"/>
<circle cx="84.0" cy="128.0" r="1.4" fill="#f2f2f2" stroke="#989898" stroke-width="0.5"/>
<circle cx="75.0" cy="139.0" r="1.4" fill="#f2f2f2" stroke="#989898" stroke-width="0.5"/>
<circle cx="80.3" cy="157.3" r="3.4" fill="#ecc818"/>
<line x1="91" y1="133.6" x2="101.6" y2="133.6" stroke="#000" stroke-width="3.8"/>
<line x1="102.5" y1="133.6" x2="165" y2="133.6" stroke="#000" stroke-width="3.8" stroke-dasharray="9.5 3.4"/>
<path d="M89.5,133.6 L96.5,127.6 L94.2,133.6 L96.5,139.6 Z" fill="#000"/>
<path d="M166.6,133.6 L159.6,127.6 L161.9,133.6 L159.6,139.6 Z" fill="#000"/>
<path d="M82.7,133.7 L85.6,130.4 L88.6,133.7 L85.6,137.1 Z" fill="#000"/>
<path d="M166.3,133.5 L169.5,130.2 L172.7,133.5 L169.5,136.8 Z" fill="#000"/>
<text x="0" y="0" transform="translate(113.10,155.82) scale(0.9199,1)" font-family="'Liberation Serif', serif" font-weight="normal" font-style="italic" font-size="25.03" fill="#000">ξ</text>
<g stroke="#000" stroke-width="1">
<line x1="310" y1="29.2" x2="314" y2="29.2"/>
<line x1="310" y1="81.5" x2="314" y2="81.5"/>
<line x1="310" y1="133.8" x2="314" y2="133.8"/>
<line x1="310" y1="186.1" x2="314" y2="186.1"/>
<line x1="310" y1="238.4" x2="314" y2="238.4"/>
<line x1="384.2" y1="270" x2="384.2" y2="273"/>
<line x1="479.3" y1="270" x2="479.3" y2="273"/>
<line x1="574.3" y1="270" x2="574.3" y2="273"/>
<line x1="669" y1="270" x2="669" y2="273"/>
</g>

<path d="M331.2,161.4 C332.7,171.4 337.4,205.6 340.5,221.6 C343.6,237.6 346.6,252.6 349.7,257.2 C352.8,261.8 355.9,252.0 359.0,249.4 C362.1,246.8 365.2,245.2 368.3,241.6 C371.3,238.0 374.4,233.2 377.5,228.0 C380.6,222.8 383.7,215.9 386.8,210.1 C389.9,204.2 393.0,197.7 396.1,192.9 C399.1,188.1 402.2,184.3 405.3,181.5 C408.4,178.7 411.5,177.5 414.6,175.9 C417.7,174.3 420.8,173.8 423.9,172.0 C426.9,170.2 430.0,167.3 433.1,165.3 C436.2,163.3 439.3,162.1 442.4,160.0 C445.5,157.9 448.6,156.9 451.6,152.7 C454.7,148.5 457.8,139.1 460.9,134.7 C464.0,130.3 467.1,128.9 470.2,126.4 C473.3,123.9 476.4,122.2 479.4,119.5 C482.5,116.8 485.6,113.5 488.7,110.3 C491.8,107.1 494.9,103.8 498.0,100.6 C501.1,97.4 504.1,94.2 507.2,91.0 C510.3,87.8 513.4,84.9 516.5,81.6 C519.6,78.3 522.7,74.4 525.8,71.2 C528.9,68.0 531.9,65.0 535.0,62.2 C538.1,59.4 541.2,56.3 544.3,54.6 C547.4,52.9 550.5,53.6 553.6,51.8 C556.6,50.0 559.7,45.9 562.8,44.0 C565.9,42.1 569.0,41.4 572.1,40.3 C575.2,39.2 578.3,38.3 581.4,37.4 C584.4,36.5 587.5,35.8 590.6,35.0 C593.7,34.2 596.8,33.5 599.9,32.5 C603.0,31.5 606.1,29.8 609.2,29.2 C612.2,28.6 615.3,28.8 618.4,28.7 C621.5,28.6 624.6,28.7 627.7,28.7 C630.8,28.7 633.9,28.7 636.9,28.7 C640.0,28.7 643.1,28.3 646.2,28.5 C649.3,28.7 652.4,29.8 655.5,29.9 C658.6,30.0 661.7,29.4 664.7,29.3 C667.8,29.2 672.5,29.1 674.0,29.1" fill="none" stroke="#000" stroke-width="2.6" stroke-linejoin="round"/>
<circle cx="331.2" cy="161.4" r="3.2" fill="#000"/><circle cx="340.5" cy="221.6" r="3.2" fill="#000"/><circle cx="349.7" cy="257.2" r="3.2" fill="#000"/><circle cx="359.0" cy="249.4" r="3.2" fill="#000"/><circle cx="368.3" cy="241.6" r="3.2" fill="#000"/><circle cx="377.5" cy="228.0" r="3.2" fill="#000"/><circle cx="386.8" cy="210.1" r="3.2" fill="#000"/><circle cx="396.1" cy="192.9" r="3.2" fill="#000"/><circle cx="405.3" cy="181.5" r="3.2" fill="#000"/><circle cx="414.6" cy="175.9" r="3.2" fill="#000"/><circle cx="423.9" cy="172.0" r="3.2" fill="#000"/><circle cx="433.1" cy="165.3" r="3.2" fill="#000"/><circle cx="442.4" cy="160.0" r="3.2" fill="#000"/><circle cx="451.6" cy="152.7" r="3.2" fill="#000"/><circle cx="460.9" cy="134.7" r="3.2" fill="#000"/><circle cx="470.2" cy="126.4" r="3.2" fill="#000"/><circle cx="479.4" cy="119.5" r="3.2" fill="#000"/><circle cx="488.7" cy="110.3" r="3.2" fill="#000"/><circle cx="498.0" cy="100.6" r="3.2" fill="#000"/><circle cx="507.2" cy="91.0" r="3.2" fill="#000"/><circle cx="516.5" cy="81.6" r="3.2" fill="#000"/><circle cx="525.8" cy="71.2" r="3.2" fill="#000"/><circle cx="535.0" cy="62.2" r="3.2" fill="#000"/><circle cx="544.3" cy="54.6" r="3.2" fill="#000"/><circle cx="553.6" cy="51.8" r="3.2" fill="#000"/><circle cx="562.8" cy="44.0" r="3.2" fill="#000"/><circle cx="572.1" cy="40.3" r="3.2" fill="#000"/><circle cx="581.4" cy="37.4" r="3.2" fill="#000"/><circle cx="590.6" cy="35.0" r="3.2" fill="#000"/><circle cx="599.9" cy="32.5" r="3.2" fill="#000"/><circle cx="609.2" cy="29.2" r="3.2" fill="#000"/><circle cx="618.4" cy="28.7" r="3.2" fill="#000"/><circle cx="627.7" cy="28.7" r="3.2" fill="#000"/><circle cx="636.9" cy="28.7" r="3.2" fill="#000"/><circle cx="646.2" cy="28.5" r="3.2" fill="#000"/><circle cx="655.5" cy="29.9" r="3.2" fill="#000"/><circle cx="664.7" cy="29.3" r="3.2" fill="#000"/><circle cx="674.0" cy="29.1" r="3.2" fill="#000"/>
<path d="M359.0,135.0 C360.5,137.9 365.2,148.2 368.3,152.4 C371.3,156.6 374.4,158.3 377.5,160.3 C380.6,162.3 383.7,164.2 386.8,164.6 C389.9,164.9 393.0,162.9 396.1,162.4 C399.1,161.9 402.2,162.3 405.3,161.4 C408.4,160.5 411.5,158.1 414.6,156.8 C417.7,155.5 420.8,155.0 423.9,153.5 C426.9,152.0 430.0,150.1 433.1,147.6 C436.2,145.1 439.3,141.8 442.4,138.5 C445.5,135.2 448.6,131.1 451.6,127.8 C454.7,124.5 457.8,120.6 460.9,118.5 C464.0,116.4 467.1,117.6 470.2,115.2 C473.3,112.8 476.4,107.3 479.4,103.9 C482.5,100.5 485.6,97.9 488.7,94.8 C491.8,91.7 494.9,87.8 498.0,85.4 C501.1,83.0 504.1,83.1 507.2,80.4 C510.3,77.8 513.4,72.6 516.5,69.5 C519.6,66.4 522.7,63.1 525.8,61.6 C528.9,60.1 531.9,59.6 535.0,60.3 C538.1,61.0 541.2,66.4 544.3,66.0 C547.4,65.6 550.5,59.9 553.6,57.8 C556.6,55.7 559.7,54.6 562.8,53.2 C565.9,51.8 569.0,50.9 572.1,49.3 C575.2,47.7 578.3,44.9 581.4,43.4 C584.4,41.9 587.5,41.1 590.6,40.1 C593.7,39.1 596.8,38.2 599.9,37.4 C603.0,36.6 606.1,36.1 609.2,35.4 C612.2,34.7 615.3,33.9 618.4,33.4 C621.5,32.9 624.6,32.6 627.7,32.5 C630.8,32.4 633.9,32.6 636.9,32.5 C640.0,32.4 643.1,32.5 646.2,32.1 C649.3,31.7 652.4,30.8 655.5,30.2 C658.6,29.6 661.7,28.9 664.7,28.7 C667.8,28.5 672.5,29.1 674.0,29.2" fill="none" stroke="#2f6f12" stroke-width="2.6" stroke-linejoin="round"/>
<circle cx="359.0" cy="135.0" r="3.0" fill="#2f6f12"/><circle cx="368.3" cy="152.4" r="3.0" fill="#2f6f12"/><circle cx="377.5" cy="160.3" r="3.0" fill="#2f6f12"/><circle cx="386.8" cy="164.6" r="3.0" fill="#2f6f12"/><circle cx="396.1" cy="162.4" r="3.0" fill="#2f6f12"/><circle cx="405.3" cy="161.4" r="3.0" fill="#2f6f12"/><circle cx="414.6" cy="156.8" r="3.0" fill="#2f6f12"/><circle cx="423.9" cy="153.5" r="3.0" fill="#2f6f12"/><circle cx="433.1" cy="147.6" r="3.0" fill="#2f6f12"/><circle cx="442.4" cy="138.5" r="3.0" fill="#2f6f12"/><circle cx="451.6" cy="127.8" r="3.0" fill="#2f6f12"/><circle cx="460.9" cy="118.5" r="3.0" fill="#2f6f12"/><circle cx="470.2" cy="115.2" r="3.0" fill="#2f6f12"/><circle cx="479.4" cy="103.9" r="3.0" fill="#2f6f12"/><circle cx="488.7" cy="94.8" r="3.0" fill="#2f6f12"/><circle cx="498.0" cy="85.4" r="3.0" fill="#2f6f12"/><circle cx="507.2" cy="80.4" r="3.0" fill="#2f6f12"/><circle cx="516.5" cy="69.5" r="3.0" fill="#2f6f12"/><circle cx="525.8" cy="61.6" r="3.0" fill="#2f6f12"/><circle cx="535.0" cy="60.3" r="3.0" fill="#2f6f12"/><circle cx="544.3" cy="66.0" r="3.0" fill="#2f6f12"/><circle cx="553.6" cy="57.8" r="3.0" fill="#2f6f12"/><circle cx="562.8" cy="53.2" r="3.0" fill="#2f6f12"/><circle cx="572.1" cy="49.3" r="3.0" fill="#2f6f12"/><circle cx="581.4" cy="43.4" r="3.0" fill="#2f6f12"/><circle cx="590.6" cy="40.1" r="3.0" fill="#2f6f12"/><circle cx="599.9" cy="37.4" r="3.0" fill="#2f6f12"/><circle cx="609.2" cy="35.4" r="3.0" fill="#2f6f12"/><circle cx="618.4" cy="33.4" r="3.0" fill="#2f6f12"/><circle cx="627.7" cy="32.5" r="3.0" fill="#2f6f12"/><circle cx="636.9" cy="32.5" r="3.0" fill="#2f6f12"/><circle cx="646.2" cy="32.1" r="3.0" fill="#2f6f12"/><circle cx="655.5" cy="30.2" r="3.0" fill="#2f6f12"/><circle cx="664.7" cy="28.7" r="3.0" fill="#2f6f12"/><circle cx="674.0" cy="29.2" r="3.0" fill="#2f6f12"/>

<rect x="620.7" y="209" width="62.7" height="51.2" rx="3" fill="#fff" fill-opacity="0.8" stroke="#d6d6d6" stroke-width="1"/>
<line x1="623.5" y1="221.1" x2="640" y2="221.1" stroke="#000" stroke-width="2.4"/>
<line x1="623.5" y1="245.8" x2="640" y2="245.8" stroke="#2f6f12" stroke-width="2.4"/>
<path d="M610.2,222 L613.3,218.3 L616.5,222 L613.3,225.7 Z M610.2,246.9 L613.3,243.1 L616.5,246.9 L613.3,250.7 Z" fill="#000"/>
<path d="M672.1,24.8 L672.1,21.9 L682,21.9" fill="none" stroke="#333" stroke-width="1.4"/>
<path d="M689,21.9 L679.3,18.6 L682,21.9 L679.3,25.4 Z" fill="#000"/>
<rect x="314" y="15.8" width="378.5" height="253.8" fill="none" stroke="#000" stroke-width="3.8"/>
<path d="M387.0,82.0 L386.4,82.4 L385.8,82.7 L385.3,83.1 L384.7,83.4 L384.2,83.8 L383.7,84.1 L383.3,84.5 L382.9,84.8 L382.5,85.2 L382.2,85.5 L382.0,85.9 L381.8,86.2 L381.7,86.5 L381.7,86.9 L381.7,87.2 L381.8,87.5 L382.0,87.9 L382.2,88.2 L382.5,88.5 L382.8,88.8 L383.2,89.2 L383.7,89.5 L384.2,89.8 L384.7,90.1 L385.3,90.4 L385.9,90.7 L386.5,91.0 L387.1,91.3 L387.7,91.7 L388.3,92.0 L388.9,92.3 L389.5,92.6 L390.1,92.9 L390.6,93.2 L391.1,93.5 L391.5,93.8 L391.9,94.2 L392.3,94.5 L392.6,94.8 L392.8,95.1 L392.9,95.5 L393.0,95.8 L393.1,96.1 L393.0,96.5 L392.9,96.8 L392.7,97.1 L392.5,97.5 L392.2,97.8 L391.9,98.2 L391.5,98.5 L391.0,98.9 L390.5,99.2 L390.0,99.6 L389.5,99.9 L388.9,100.3 L388.3,100.7 L387.7,101.0 L387.1,101.4 L386.5,101.7 L386.0,102.1 L385.4,102.4 L384.9,102.8 L384.4,103.1 L384.0,103.5 L383.6,103.8 L383.2,104.2 L383.0,104.5 L382.7,104.9 L382.6,105.2 L382.5,105.6 L382.4,105.9 L382.5,106.2 L382.6,106.6 L382.7,106.9 L383.0,107.2 L383.3,107.5 L383.6,107.8 L384.0,108.2 L384.5,108.5 L385.0,108.8 L385.5,109.1 L386.1,109.4 L386.7,109.7 L387.3,110.0 L387.9,110.4 L388.5,110.7 L389.1,111.0 L389.7,111.3 L390.3,111.6 L390.9,111.9 L391.4,112.2 L391.9,112.5 L392.3,112.9 L392.7,113.2 L393.0,113.5 L393.3,113.8 L393.5,114.1 L393.7,114.5 L393.8,114.8 L393.8,115.1 L393.8,115.5 L393.7,115.8 L393.5,116.1 L393.2,116.5 L392.9,116.8 L392.6,117.2 L392.2,117.5 L391.7,117.9 L391.2,118.2 L390.7,118.6 L390.2,118.9 L389.6,119.3 L389.0,119.7 L388.4,120.0 L387.8,120.4 L387.3,120.8 L386.7,121.1 L386.2,121.5 L385.6,121.8 L385.2,122.2 L384.7,122.6 L384.4,122.9 L384.0,123.3 L383.7,123.6 L383.5,124.0 L383.4,124.3 L383.3,124.6 L383.3,125.0 L383.3,125.3 L383.4,125.6 L383.6,126.0 L383.8,126.3 L384.1,126.6 L384.5,126.9 L384.9,127.2 L385.4,127.5 L385.9,127.8 L386.4,128.2 L387.0,128.5 L387.6,128.8 L388.2,129.1 L388.8,129.4 L389.4,129.7 L390.1,130.0 L390.7,130.3 L391.3,130.6 L391.8,130.9 L392.3,131.2 L392.8,131.5 L393.3,131.8 L393.7,132.1 L394.0,132.4 L394.3,132.7 L394.5,133.0 L394.7,133.4 L394.8,133.7 L394.8,134.0 L394.7,134.4 L394.6,134.7 L394.5,135.1 L394.2,135.4 L393.9,135.8 L393.6,136.1 L393.2,136.5 L392.7,136.8 L392.2,137.2 L391.7,137.5 L391.2,137.9 L390.6,138.3 L390.0,138.6 L389.4,139.0 L388.9,139.4 L388.3,139.7 L387.7,140.1 L387.2,140.5 L386.7,140.8 L386.2,141.2 L385.8,141.6 L385.4,141.9 L385.1,142.3 L384.8,142.6 L384.6,143.0 L384.4,143.3 L384.3,143.6 L384.3,144.0 L384.4,144.3 L384.5,144.6 L384.7,145.0 L384.9,145.3 L385.2,145.6 L385.6,145.9 L386.0,146.2 L386.5,146.5 L387.0,146.8 L387.5,147.1 L388.1,147.4 L388.7,147.7 L389.3,148.0 L389.9,148.3 L390.5,148.6 L391.2,148.9 L391.8,149.2 L392.3,149.5 L392.9,149.9 L393.4,150.2 L393.9,150.5 L394.4,150.8 L394.7,151.1 L395.1,151.4 L395.4,151.7 L395.6,152.0 L395.7,152.4 L395.8,152.7 L395.8,153.0 L395.8,153.4 L395.7,153.7 L395.5,154.1 L395.3,154.4 L395.0,154.7 L394.6,155.1 L394.2,155.5 L393.7,155.8" fill="none" stroke="#0c0cd0" stroke-width="1.5"/>
<path d="M382.6,82.2 L383.0,82.5 L383.4,82.8 L383.9,83.1 L384.4,83.4 L385.0,83.7 L385.6,84.1 L386.2,84.4 L386.8,84.7 L387.4,85.0 L388.0,85.3 L388.6,85.6 L389.2,85.9 L389.8,86.2 L390.3,86.5 L390.8,86.9 L391.2,87.2 L391.6,87.5 L392.0,87.8 L392.3,88.1 L392.5,88.5 L392.7,88.8 L392.8,89.1 L392.8,89.5 L392.8,89.8 L392.7,90.1 L392.5,90.5 L392.3,90.8 L392.0,91.2 L391.6,91.5 L391.2,91.9 L390.8,92.2 L390.3,92.6 L389.8,92.9 L389.2,93.3 L388.7,93.6 L388.1,94.0 L387.5,94.3 L386.9,94.7 L386.3,95.1 L385.7,95.4 L385.2,95.8 L384.7,96.1 L384.2,96.5 L383.7,96.8 L383.3,97.2 L383.0,97.5 L382.7,97.9 L382.5,98.2 L382.3,98.5 L382.2,98.9 L382.2,99.2 L382.2,99.6 L382.3,99.9 L382.5,100.2 L382.7,100.5 L383.0,100.9 L383.3,101.2 L383.7,101.5 L384.2,101.8 L384.7,102.1 L385.2,102.4 L385.8,102.8 L386.4,103.1 L387.0,103.4 L387.6,103.7 L388.2,104.0 L388.8,104.3 L389.4,104.6 L390.0,104.9 L390.6,105.2 L391.1,105.6 L391.6,105.9 L392.0,106.2 L392.4,106.5 L392.8,106.8 L393.0,107.1 L393.3,107.5 L393.4,107.8 L393.5,108.1 L393.5,108.5 L393.5,108.8 L393.4,109.1 L393.2,109.5 L393.0,109.8 L392.7,110.2 L392.4,110.5 L392.0,110.9 L391.5,111.2 L391.0,111.6 L390.5,111.9 L389.9,112.3 L389.4,112.6 L388.8,113.0 L388.2,113.3 L387.6,113.7 L387.0,114.1 L386.5,114.4 L385.9,114.8 L385.4,115.1 L384.9,115.5 L384.5,115.8 L384.1,116.2 L383.7,116.5 L383.4,116.9 L383.2,117.2 L383.1,117.6 L383.0,117.9 L382.9,118.2 L383.0,118.6 L383.1,118.9 L383.2,119.2 L383.5,119.5 L383.8,119.9 L384.1,120.3 L384.5,120.6 L385.0,120.9 L385.5,121.2 L386.0,121.5 L386.6,121.8 L387.2,122.1 L387.8,122.4 L388.4,122.7 L389.0,123.0 L389.6,123.3 L390.3,123.6 L390.8,123.9 L391.4,124.2 L391.9,124.5 L392.4,124.8 L392.9,125.1 L393.3,125.4 L393.6,125.7 L393.9,126.1 L394.1,126.4 L394.3,126.7 L394.4,127.0 L394.4,127.4 L394.4,127.7 L394.3,128.0 L394.1,128.4 L393.9,128.7 L393.6,129.1 L393.2,129.4 L392.8,129.8 L392.4,130.2 L391.9,130.5 L391.4,130.9 L390.8,131.2 L390.3,131.6 L389.7,132.0 L389.1,132.3 L388.5,132.7 L387.9,133.1 L387.4,133.4 L386.8,133.8 L386.3,134.2 L385.9,134.5 L385.4,134.9 L385.0,135.2 L384.7,135.6 L384.4,135.9 L384.2,136.3 L384.1,136.6 L384.0,137.0 L384.0,137.3 L384.0,137.6 L384.1,138.0 L384.3,138.3 L384.5,138.6 L384.8,138.9 L385.2,139.2 L385.6,139.6 L386.1,139.9 L386.6,140.2 L387.1,140.5 L387.7,140.8 L388.3,141.1 L388.9,141.4 L389.5,141.7 L390.1,142.0 L390.7,142.3 L391.4,142.6 L391.9,142.9 L392.5,143.2 L393.0,143.5 L393.5,143.8 L394.0,144.1 L394.4,144.4 L394.7,144.7 L395.0,145.1 L395.2,145.4 L395.4,145.7 L395.4,146.0 L395.5,146.4 L395.4,146.7 L395.3,147.0 L395.1,147.4 L394.9,147.7 L394.6,148.1 L394.3,148.4 L393.9,148.8 L393.4,149.2 L392.9,149.5 L392.4,149.9 L391.9,150.2 L391.3,150.6 L390.7,151.0 L390.1,151.3 L389.5,151.7 L389.0,152.1 L388.4,152.4 L387.9,152.8 L387.4,153.2 L386.9,153.5 L386.5,153.9 L386.1,154.2 L385.7,154.6 L385.5,154.9 L385.3,155.3 L385.1,155.6 L385.0,156.0 L385.0,156.3" fill="none" stroke="#0c0cd0" stroke-width="1.5"/>
<path d="M383.1,82.2 L382.9,82.5 L382.8,82.8 L382.7,83.2 L382.7,83.5 L382.7,83.8 L382.8,84.2 L382.9,84.5 L383.1,84.8 L383.3,85.2 L383.6,85.5 L383.9,85.8 L384.3,86.1 L384.7,86.4 L385.1,86.8 L385.5,87.1 L386.0,87.4 L386.5,87.7 L387.0,88.0 L387.5,88.3 L388.0,88.6 L388.5,89.0 L388.9,89.3 L389.4,89.6 L389.8,89.9 L390.2,90.2 L390.6,90.5 L390.9,90.9 L391.2,91.2 L391.4,91.5 L391.6,91.8 L391.7,92.2 L391.8,92.5 L391.8,92.8 L391.8,93.2 L391.7,93.5 L391.6,93.8 L391.4,94.2 L391.2,94.5 L390.9,94.9 L390.6,95.2 L390.2,95.6 L389.8,95.9 L389.4,96.3 L389.0,96.6 L388.5,97.0 L388.1,97.3 L387.6,97.7 L387.1,98.0 L386.7,98.4 L386.2,98.7 L385.8,99.1 L385.4,99.4 L385.0,99.8 L384.6,100.1 L384.3,100.5 L384.0,100.8 L383.8,101.2 L383.6,101.5 L383.5,101.8 L383.4,102.2 L383.4,102.5 L383.4,102.8 L383.5,103.2 L383.7,103.5 L383.8,103.8 L384.1,104.2 L384.4,104.5 L384.7,104.8 L385.0,105.1 L385.4,105.4 L385.9,105.8 L386.3,106.1 L386.8,106.4 L387.3,106.7 L387.8,107.0 L388.3,107.3 L388.8,107.6 L389.3,108.0 L389.7,108.3 L390.2,108.6 L390.6,108.9 L391.0,109.2 L391.4,109.5 L391.7,109.9 L391.9,110.2 L392.2,110.5 L392.4,110.8 L392.5,111.2 L392.6,111.5 L392.6,111.8 L392.5,112.2 L392.5,112.5 L392.3,112.8 L392.1,113.2 L391.9,113.5 L391.6,113.9 L391.3,114.2 L391.0,114.6 L390.6,114.9 L390.2,115.3 L389.7,115.6 L389.3,116.0 L388.8,116.3 L388.3,116.7 L387.9,117.0 L387.4,117.4 L386.9,117.7 L386.5,118.1 L386.1,118.4 L385.7,118.8 L385.4,119.1 L385.0,119.5 L384.8,119.8 L384.6,120.2 L384.4,120.6 L384.3,120.9 L384.2,121.3 L384.2,121.6 L384.2,121.9 L384.3,122.3 L384.5,122.6 L384.6,122.9 L384.9,123.2 L385.2,123.5 L385.5,123.9 L385.9,124.2 L386.3,124.5 L386.7,124.8 L387.2,125.1 L387.7,125.4 L388.2,125.7 L388.7,126.0 L389.2,126.3 L389.7,126.6 L390.1,126.9 L390.6,127.2 L391.1,127.6 L391.5,127.9 L391.9,128.2 L392.3,128.5 L392.6,128.8 L392.9,129.1 L393.1,129.5 L393.3,129.8 L393.4,130.1 L393.5,130.4 L393.5,130.8 L393.5,131.1 L393.4,131.4 L393.3,131.8 L393.1,132.1 L392.8,132.5 L392.6,132.8 L392.2,133.2 L391.9,133.5 L391.5,133.9 L391.1,134.2 L390.7,134.6 L390.2,135.0 L389.8,135.3 L389.3,135.7 L388.8,136.0 L388.4,136.4 L387.9,136.8 L387.5,137.1 L387.1,137.5 L386.7,137.8 L386.4,138.2 L386.1,138.5 L385.8,138.9 L385.6,139.2 L385.4,139.6 L385.3,139.9 L385.2,140.2 L385.2,140.6 L385.3,140.9 L385.4,141.2 L385.5,141.6 L385.7,141.9 L386.0,142.2 L386.3,142.5 L386.6,142.8 L387.0,143.2 L387.4,143.5 L387.8,143.8 L388.3,144.1 L388.7,144.4 L389.2,144.7 L389.7,145.0 L390.2,145.3 L390.7,145.6 L391.2,145.9 L391.7,146.2 L392.2,146.5 L392.6,146.9 L393.0,147.2 L393.3,147.5 L393.7,147.8 L393.9,148.1 L394.2,148.4 L394.3,148.8 L394.5,149.1 L394.5,149.4 L394.6,149.8 L394.5,150.1 L394.4,150.4 L394.3,150.8 L394.1,151.1 L393.9,151.5 L393.6,151.8 L393.3,152.2 L392.9,152.5 L392.5,152.9 L392.1,153.2 L391.7,153.6 L391.2,154.0 L390.8,154.3 L390.3,154.7 L389.9,155.0 L389.4,155.4 L388.9,155.8 L388.5,156.1" fill="none" stroke="#0c0cd0" stroke-width="0.8" opacity="0.8"/>
<path d="M390.0,81.9 L390.4,82.2 L390.7,82.5 L390.9,82.8 L391.2,83.2 L391.3,83.5 L391.4,83.8 L391.5,84.2 L391.5,84.5 L391.4,84.8 L391.3,85.2 L391.2,85.5 L391.0,85.9 L390.7,86.2 L390.5,86.5 L390.1,86.9 L389.8,87.2 L389.4,87.6 L388.9,87.9 L388.5,88.3 L388.0,88.6 L387.6,89.0 L387.1,89.3 L386.6,89.7 L386.2,90.0 L385.7,90.4 L385.3,90.8 L384.9,91.1 L384.5,91.4 L384.2,91.8 L383.9,92.1 L383.6,92.5 L383.4,92.8 L383.3,93.2 L383.1,93.5 L383.1,93.8 L383.1,94.2 L383.1,94.5 L383.2,94.8 L383.4,95.2 L383.6,95.5 L383.8,95.8 L384.1,96.1 L384.5,96.5 L384.9,96.8 L385.3,97.1 L385.7,97.4 L386.2,97.7 L386.6,98.0 L387.1,98.4 L387.6,98.7 L388.1,99.0 L388.6,99.3 L389.1,99.6 L389.6,99.9 L390.0,100.3 L390.4,100.6 L390.8,100.9 L391.1,101.2 L391.4,101.5 L391.7,101.9 L391.9,102.2 L392.1,102.5 L392.2,102.8 L392.2,103.2 L392.2,103.5 L392.2,103.8 L392.1,104.2 L391.9,104.5 L391.7,104.9 L391.5,105.2 L391.2,105.5 L390.8,105.9 L390.5,106.2 L390.1,106.6 L389.7,106.9 L389.2,107.3 L388.8,107.6 L388.3,108.0 L387.8,108.4 L387.3,108.7 L386.9,109.1 L386.4,109.4 L386.0,109.8 L385.6,110.1 L385.2,110.5 L384.9,110.8 L384.6,111.2 L384.4,111.5 L384.1,111.8 L384.0,112.2 L383.9,112.5 L383.8,112.9 L383.8,113.2 L383.9,113.5 L384.0,113.8 L384.1,114.2 L384.4,114.5 L384.6,114.8 L384.9,115.1 L385.2,115.5 L385.6,115.8 L386.0,116.1 L386.5,116.4 L386.9,116.7 L387.4,117.1 L387.9,117.4 L388.4,117.7 L388.9,118.0 L389.4,118.3 L389.9,118.6 L390.3,118.9 L390.8,119.3 L391.2,119.6 L391.6,119.8 L391.9,120.2 L392.2,120.5 L392.5,120.8 L392.7,121.1 L392.9,121.4 L393.0,121.8 L393.0,122.1 L393.0,122.4 L393.0,122.8 L392.9,123.1 L392.7,123.5 L392.5,123.8 L392.3,124.1 L392.0,124.5 L391.7,124.9 L391.3,125.2 L390.9,125.6 L390.5,125.9 L390.0,126.3 L389.6,126.6 L389.1,127.0 L388.6,127.4 L388.2,127.7 L387.7,128.1 L387.3,128.4 L386.9,128.8 L386.5,129.2 L386.1,129.5 L385.8,129.9 L385.5,130.2 L385.3,130.6 L385.1,130.9 L384.9,131.2 L384.8,131.6 L384.8,131.9 L384.8,132.3 L384.8,132.6 L385.0,132.9 L385.1,133.2 L385.3,133.6 L385.6,133.9 L385.9,134.2 L386.3,134.5 L386.6,134.8 L387.1,135.1 L387.5,135.4 L388.0,135.8 L388.5,136.1 L389.0,136.4 L389.5,136.7 L390.0,137.0 L390.5,137.3 L390.9,137.6 L391.4,137.9 L391.9,138.2 L392.3,138.5 L392.6,138.8 L393.0,139.2 L393.3,139.5 L393.5,139.8 L393.8,140.1 L393.9,140.4 L394.0,140.8 L394.1,141.1 L394.1,141.4 L394.0,141.8 L393.9,142.1 L393.8,142.4 L393.6,142.8 L393.3,143.1 L393.0,143.5 L392.7,143.8 L392.3,144.2 L391.9,144.6 L391.5,144.9 L391.1,145.3 L390.6,145.6 L390.1,146.0 L389.7,146.4 L389.2,146.7 L388.8,147.1 L388.3,147.4 L387.9,147.8 L387.5,148.1 L387.1,148.5 L386.8,148.9 L386.5,149.2 L386.3,149.5 L386.1,149.9 L386.0,150.2 L385.9,150.6 L385.8,150.9 L385.8,151.2 L385.9,151.6 L386.0,151.9 L386.2,152.2 L386.4,152.6 L386.7,152.9 L387.0,153.2 L387.3,153.5 L387.7,153.8 L388.1,154.1 L388.6,154.4 L389.1,154.7 L389.5,155.1 L390.0,155.4 L390.5,155.7 L391.0,156.0" fill="none" stroke="#0c0cd0" stroke-width="0.8" opacity="0.8"/>
<path d="M387.0,82.0 L382.6,82.2 M383.7,84.1 L385.6,84.1 M381.8,86.2 L389.2,85.9 M382.2,88.2 L392.0,87.8 M384.7,90.1 L392.8,89.8 M388.3,92.0 L391.2,91.9 M391.5,93.8 L388.1,94.0 M393.0,95.8 L384.7,96.1 M392.2,97.8 L382.5,98.2 M389.5,99.9 L382.5,100.2 M386.0,102.1 L384.7,102.1 M383.2,104.2 L388.2,104.0 M382.5,106.2 L391.6,105.9 M384.0,108.2 L393.4,107.8 M387.3,110.0 L393.0,109.8 M390.9,111.9 L390.5,111.9 M393.3,113.8 L387.0,114.1 M393.7,115.8 L384.1,116.2 M391.7,117.9 L382.9,118.2 M388.4,120.0 L384.1,120.3 M385.2,122.2 L387.2,122.1 M383.4,124.3 L390.8,123.9 M383.8,126.3 L393.6,125.7 M386.4,128.2 L394.4,127.7 M390.1,130.0 L392.8,129.8 M393.3,131.8 L389.7,132.0 M394.8,133.7 L386.3,134.2 M393.9,135.8 L384.2,136.3 M391.2,137.9 L384.3,138.3 M387.7,140.1 L386.6,140.2 M385.1,142.3 L390.1,142.0 M384.4,144.3 L393.5,143.8 M386.0,146.2 L395.4,145.7 M389.3,148.0 L394.9,147.7 M392.9,149.9 L392.4,149.9 M395.4,151.7 L389.0,152.1 M395.7,153.7 L386.1,154.2 M393.7,155.8 L385.0,156.3" fill="none" stroke="#0c0cd0" stroke-width="0.6"/>
<path d="M389.0,132.3 C391.2,126.0 392.1,136.5 393.9,131.2 C395.3,127.0 396.6,136.5 398.0,130.2" fill="none" stroke="#9c1818" stroke-width="2.1"/><path d="M393.1,126.0 L393.5,136.5 M391.7,129.2 L395.8,133.3" stroke="#9c1818" stroke-width="1.5"/>
<path d="M482.1,6.2 L481.9,6.5 L481.7,6.8 L481.5,7.2 L481.4,7.5 L481.3,7.9 L481.3,8.2 L481.3,8.5 L481.4,8.9 L481.5,9.2 L481.6,9.5 L481.8,9.8 L482.1,10.2 L482.3,10.5 L482.6,10.8 L483.0,11.1 L483.4,11.4 L483.8,11.8 L484.2,12.1 L484.7,12.4 L485.2,12.7 L485.7,13.0 L486.2,13.3 L486.7,13.6 L487.2,13.9 L487.6,14.2 L488.1,14.5 L488.6,14.9 L489.0,15.2 L489.4,15.5 L489.7,15.8 L490.1,16.1 L490.3,16.4 L490.6,16.8 L490.7,17.1 L490.8,17.4 L490.9,17.7 L490.9,18.1 L490.8,18.4 L490.7,18.8 L490.5,19.1 L490.3,19.4 L490.0,19.8 L489.7,20.2 L489.3,20.5 L488.8,20.9 L488.3,21.2 L487.8,21.6 L487.3,22.0 L486.7,22.3 L486.1,22.7 L485.5,23.1 L484.8,23.4 L484.2,23.8 L483.7,24.1 L483.1,24.5 L482.6,24.9 L482.2,25.8 L481.8,26.2 L481.4,26.6 L481.1,27.0 L480.9,27.4 L480.7,27.8 L480.6,28.2 L480.5,28.5 L480.5,28.9 L480.6,29.2 L480.7,29.5 L480.9,29.8 L481.2,30.1 L481.5,30.4 L481.9,30.6 L482.4,30.9 L482.9,31.1 L483.4,31.3 L484.0,31.6 L484.6,31.8 L485.3,32.0 L486.0,32.2 L486.7,32.4 L487.4,32.6 L488.1,32.8 L488.8,33.0 L489.5,33.2 L490.2,33.4 L490.8,33.6 L491.5,33.8 L492.1,34.0 L492.6,34.3 L493.1,34.5 L493.5,34.8 L493.9,35.0 L494.2,35.3 L494.5,35.6 L494.7,35.9 L494.8,36.2 L494.9,36.6 L494.9,36.9 L494.8,37.3 L494.6,37.6 L494.4,38.0 L494.1,38.4 L493.7,38.8 L493.2,38.7 L492.8,39.2 L492.4,39.7 L491.9,40.2 L491.4,40.7 L490.9,41.2 L490.4,41.8 L489.9,42.3 L489.3,42.8 L488.8,43.4 L488.3,43.9 L487.8,44.4 L487.3,44.9 L486.9,45.4 L486.5,45.9 L486.2,46.3 L485.9,46.8 L485.7,47.2 L485.5,47.6 L485.4,48.0 L485.3,48.4 L485.3,48.7 L485.4,49.1 L485.6,49.4 L485.8,49.7 L486.0,49.9 L486.4,50.2 L486.8,50.4 L487.2,50.6 L487.7,50.8 L488.3,50.9 L488.9,51.1 L489.5,51.2 L490.1,51.4 L490.8,51.5 L491.5,51.6 L492.2,51.7 L492.9,51.8 L493.6,52.0 L494.3,52.1 L495.0,52.2 L495.7,52.3 L496.3,52.5 L496.9,52.6 L497.5,52.8 L498.0,53.0 L498.5,53.2 L499.2,54.6 L499.5,54.9 L499.7,55.2 L499.9,55.5 L500.0,55.8 L500.0,56.2 L500.0,56.5 L499.9,56.8 L499.8,57.2 L499.6,57.5 L499.3,57.9 L499.0,58.3 L498.6,58.6 L498.2,59.0 L497.8,59.4 L497.3,59.8 L496.8,60.1 L496.2,60.5 L495.7,60.9 L495.1,61.3 L494.6,61.7 L494.0,62.1 L493.5,62.4 L492.9,62.8 L492.4,63.2 L492.0,63.6 L491.5,64.0 L491.1,64.3 L490.8,64.7 L490.4,65.1 L490.2,65.4 L490.0,65.8 L489.8,66.1 L489.7,66.5 L489.7,66.8 L489.7,67.1 L489.8,67.5 L490.0,67.8 L490.2,68.1 L490.4,68.4 L490.7,68.7 L491.1,69.0 L491.4,69.3 L491.9,69.6 L492.3,69.9 L492.8,70.2 L493.4,70.5 L493.9,70.8 L494.4,71.1 L495.0,71.4 L495.5,71.7 L496.1,71.9" fill="none" stroke="#0c0cd0" stroke-width="1.5"/>
<path d="M485.2,6.0 L485.6,6.3 L486.0,6.6 L486.4,6.9 L486.8,7.2 L487.2,7.6 L487.5,7.9 L487.9,8.2 L488.2,8.5 L488.5,8.8 L488.7,9.2 L489.0,9.5 L489.2,9.8 L489.3,10.1 L489.4,10.5 L489.5,10.8 L489.5,11.1 L489.5,11.5 L489.4,11.8 L489.3,12.1 L489.1,12.5 L488.9,12.8 L488.6,13.2 L488.3,13.5 L487.9,13.9 L487.5,14.2 L487.1,14.6 L486.7,15.0 L486.2,15.3 L485.7,15.7 L485.2,16.0 L484.7,16.4 L484.2,16.8 L483.7,17.1 L483.2,17.5 L482.7,17.8 L482.2,18.2 L481.8,18.6 L481.4,18.9 L481.1,19.3 L480.8,19.6 L480.5,20.0 L480.3,20.3 L480.2,20.7 L480.1,21.0 L480.1,21.3 L480.1,21.7 L480.2,22.0 L480.4,22.3 L480.6,22.6 L480.9,23.0 L481.3,23.3 L481.8,23.6 L482.3,23.9 L482.8,24.2 L483.4,24.5 L484.0,24.8 L484.6,25.3 L485.3,25.5 L486.0,25.7 L486.7,25.9 L487.4,26.1 L488.0,26.3 L488.7,26.5 L489.3,26.8 L489.9,27.0 L490.5,27.2 L491.1,27.4 L491.5,27.7 L492.0,27.9 L492.3,28.2 L492.7,28.5 L492.9,28.8 L493.1,29.1 L493.2,29.4 L493.3,29.7 L493.3,30.1 L493.2,30.4 L493.1,30.8 L492.9,31.2 L492.6,31.6 L492.3,32.0 L491.9,32.4 L491.5,32.8 L491.0,33.2 L490.5,33.7 L489.9,34.1 L489.4,34.6 L488.8,35.0 L488.2,35.5 L487.6,36.0 L487.0,36.4 L486.5,36.9 L485.9,37.3 L485.4,37.8 L484.9,38.2 L484.4,38.6 L484.0,39.1 L483.6,39.5 L483.3,39.9 L483.0,40.3 L482.9,40.7 L482.8,41.0 L482.9,42.1 L483.0,42.5 L483.1,42.8 L483.4,43.1 L483.6,43.3 L484.0,43.6 L484.4,43.8 L484.8,44.0 L485.3,44.2 L485.9,44.3 L486.5,44.5 L487.1,44.6 L487.8,44.7 L488.5,44.9 L489.2,45.0 L489.9,45.1 L490.7,45.2 L491.4,45.3 L492.1,45.4 L492.8,45.5 L493.5,45.7 L494.2,45.8 L494.8,45.9 L495.4,46.1 L495.9,46.3 L496.4,46.5 L496.9,46.7 L497.3,46.9 L497.6,47.1 L497.8,47.4 L498.0,47.7 L498.2,48.0 L498.2,48.3 L498.2,48.7 L498.2,49.0 L498.1,49.4 L497.9,49.8 L497.6,50.3 L497.4,50.7 L497.0,51.2 L496.7,51.7 L496.3,52.2 L495.8,52.6 L495.4,53.2 L494.9,53.7 L494.4,54.2 L493.9,54.7 L493.4,55.1 L492.8,55.5 L492.2,55.8 L491.7,56.2 L491.2,56.6 L490.7,57.0 L490.2,57.4 L489.8,57.7 L489.5,58.1 L489.2,58.5 L489.0,58.8 L488.8,59.2 L488.7,59.5 L488.7,59.8 L488.7,60.2 L488.8,60.5 L488.9,60.8 L489.1,61.2 L489.4,61.5 L489.7,61.8 L490.1,62.1 L490.5,62.4 L491.0,62.7 L491.5,63.0 L492.0,63.2 L492.5,63.5 L493.1,63.8 L493.7,64.1 L494.3,64.4 L494.9,64.7 L495.5,65.0 L496.1,65.2 L496.7,65.5 L497.2,65.8 L497.7,66.1 L498.2,66.4 L498.6,66.7 L499.0,67.0 L499.4,67.3 L499.7,67.6 L500.0,67.9 L500.2,68.2 L500.3,68.6 L500.4,68.9 L500.4,69.2 L500.4,69.6 L500.3,69.9 L500.2,70.2 L500.0,70.6 L499.7,71.0 L499.5,71.3 L499.1,71.7" fill="none" stroke="#0c0cd0" stroke-width="1.5"/>
<path d="M482.6,6.1 L482.7,6.5 L482.9,6.8 L483.1,7.1 L483.3,7.4 L483.6,7.7 L483.9,8.1 L484.2,8.4 L484.5,8.7 L484.9,9.0 L485.2,9.3 L485.6,9.7 L485.9,10.0 L486.3,10.3 L486.6,10.6 L487.0,10.9 L487.3,11.2 L487.6,11.6 L488.0,11.9 L488.2,12.2 L488.5,12.5 L488.7,12.8 L488.9,13.2 L489.0,13.5 L489.2,13.8 L489.2,14.1 L489.3,14.5 L489.2,14.8 L489.2,15.2 L489.1,15.5 L489.0,15.8 L488.8,16.2 L488.5,16.5 L488.3,16.9 L488.0,17.2 L487.6,17.6 L487.3,17.9 L486.9,18.3 L486.5,18.6 L486.1,19.0 L485.6,19.4 L485.2,19.7 L484.7,20.1 L484.3,20.4 L483.8,20.8 L483.4,21.1 L483.0,21.5 L482.6,21.9 L482.3,22.2 L482.0,22.6 L481.7,22.9 L481.5,23.3 L481.3,23.6 L481.2,23.9 L481.1,24.3 L481.1,24.6 L481.2,24.9 L481.4,26.0 L481.6,26.3 L481.8,26.5 L482.1,26.8 L482.5,27.1 L482.8,27.4 L483.3,27.6 L483.7,27.9 L484.2,28.1 L484.7,28.4 L485.3,28.6 L485.8,28.8 L486.4,29.0 L487.0,29.3 L487.6,29.5 L488.1,29.7 L488.7,29.9 L489.2,30.2 L489.8,30.4 L490.3,30.7 L490.7,30.9 L491.1,31.2 L491.5,31.4 L491.9,31.7 L492.2,32.0 L492.4,32.3 L492.6,32.6 L492.7,32.9 L492.8,33.2 L492.8,33.5 L492.8,33.9 L492.7,34.3 L492.6,34.6 L492.4,35.0 L492.2,35.4 L491.9,35.8 L491.6,36.2 L491.3,36.6 L490.9,37.0 L490.5,37.4 L490.0,37.9 L489.6,38.3 L489.1,38.7 L488.6,39.2 L488.2,39.6 L487.7,40.0 L487.3,40.7 L487.0,41.1 L486.6,41.6 L486.3,42.1 L486.1,42.5 L485.8,42.9 L485.6,43.4 L485.5,43.8 L485.4,44.1 L485.3,44.5 L485.3,44.9 L485.4,45.2 L485.5,45.5 L485.6,45.8 L485.9,46.1 L486.1,46.4 L486.4,46.6 L486.8,46.8 L487.2,47.1 L487.6,47.3 L488.1,47.5 L488.6,47.6 L489.2,47.8 L489.7,48.0 L490.3,48.1 L490.9,48.3 L491.5,48.4 L492.1,48.6 L492.7,48.8 L493.3,48.9 L493.9,49.1 L494.4,49.2 L494.9,49.4 L495.4,49.6 L495.9,49.8 L496.3,50.0 L496.7,50.2 L497.1,50.5 L497.4,50.7 L497.6,51.0 L497.8,51.3 L498.0,51.6 L498.1,51.9 L498.1,52.2 L498.1,52.6 L498.1,53.0 L498.0,53.3 L498.0,54.7 L497.7,55.0 L497.4,55.4 L497.1,55.8 L496.7,56.1 L496.3,56.5 L495.9,56.9 L495.4,57.2 L495.0,57.6 L494.5,58.0 L494.0,58.4 L493.6,58.7 L493.1,59.1 L492.7,59.5 L492.3,59.9 L491.9,60.2 L491.6,60.6 L491.3,61.0 L491.0,61.3 L490.8,61.7 L490.6,62.0 L490.4,62.4 L490.3,62.7 L490.3,63.1 L490.3,63.4 L490.3,63.7 L490.4,64.1 L490.6,64.4 L490.8,64.7 L491.0,65.0 L491.3,65.3 L491.6,65.6 L491.9,65.9 L492.3,66.2 L492.7,66.5 L493.1,66.8 L493.6,67.1 L494.0,67.4 L494.5,67.7 L495.0,68.0 L495.4,68.3 L495.9,68.6 L496.4,68.9 L496.8,69.2 L497.2,69.5 L497.6,69.8 L498.0,70.1 L498.3,70.4 L498.6,70.7 L498.8,71.0 L499.1,71.3 L499.2,71.7" fill="none" stroke="#0c0cd0" stroke-width="0.8" opacity="0.8"/>
<path d="M487.7,5.9 L487.7,6.2 L487.7,6.5 L487.6,6.9 L487.5,7.2 L487.4,7.6 L487.2,7.9 L487.0,8.2 L486.7,8.6 L486.5,8.9 L486.2,9.3 L485.9,9.6 L485.6,10.0 L485.3,10.3 L485.0,10.7 L484.6,11.0 L484.3,11.4 L483.9,11.7 L483.6,12.1 L483.3,12.5 L483.0,12.8 L482.7,13.2 L482.4,13.5 L482.2,13.8 L482.0,14.2 L481.9,14.5 L481.7,14.9 L481.6,15.2 L481.6,15.6 L481.6,15.9 L481.6,16.2 L481.7,16.6 L481.8,16.9 L482.0,17.2 L482.2,17.5 L482.5,17.9 L482.8,18.2 L483.1,18.5 L483.5,18.8 L483.9,19.1 L484.3,19.4 L484.8,19.7 L485.2,20.0 L485.7,20.4 L486.2,20.7 L486.7,21.0 L487.2,21.3 L487.7,21.6 L488.2,21.9 L488.6,22.2 L489.1,22.5 L489.4,22.8 L489.8,23.2 L490.1,23.5 L490.3,23.8 L490.6,24.1 L490.7,24.4 L490.7,24.1 L490.8,24.4 L490.9,24.7 L490.9,25.1 L490.8,25.4 L490.7,25.8 L490.6,26.2 L490.4,26.5 L490.1,26.9 L489.8,27.3 L489.5,27.7 L489.2,28.2 L488.8,28.6 L488.4,29.0 L487.9,29.4 L487.5,29.8 L487.0,30.3 L486.6,30.7 L486.2,31.1 L485.7,31.6 L485.3,32.0 L484.9,32.4 L484.5,32.8 L484.2,33.2 L483.9,33.6 L483.6,34.0 L483.4,34.4 L483.2,34.8 L483.1,35.2 L483.0,35.5 L483.0,35.9 L483.0,36.2 L483.1,36.5 L483.3,36.8 L483.5,37.1 L483.7,37.4 L484.0,37.7 L484.4,38.0 L484.8,38.2 L485.2,38.5 L485.7,38.7 L486.2,39.0 L486.7,39.2 L487.3,39.4 L487.9,39.7 L488.5,39.9 L489.1,40.1 L489.7,40.2 L490.3,40.4 L490.9,40.5 L491.5,40.7 L492.1,40.9 L492.6,41.0 L493.1,41.2 L493.5,41.4 L493.9,41.6 L494.3,41.9 L494.6,42.1 L494.9,42.4 L495.1,42.7 L495.3,43.0 L495.4,43.3 L495.5,43.6 L495.5,43.9 L495.5,44.3 L495.4,44.7 L495.2,45.1 L495.1,45.5 L494.8,45.9 L494.6,46.4 L494.3,46.8 L494.0,47.3 L493.6,47.7 L493.3,48.2 L492.9,48.7 L492.5,49.2 L492.1,49.7 L491.7,50.1 L491.4,50.6 L491.0,51.1 L490.6,51.6 L490.3,52.0 L490.0,52.5 L489.8,52.9 L489.5,53.3 L489.4,53.7 L489.2,54.1 L489.1,54.5 L489.1,54.9 L489.1,55.2 L489.1,55.6 L489.2,55.9 L489.4,56.2 L489.3,55.4 L489.5,55.7 L489.8,56.1 L490.0,56.4 L490.4,56.7 L490.7,57.0 L491.1,57.3 L491.6,57.6 L492.0,57.9 L492.5,58.2 L493.0,58.5 L493.5,58.8 L494.0,59.0 L494.5,59.3 L495.0,59.6 L495.5,59.9 L496.0,60.2 L496.5,60.5 L496.9,60.8 L497.3,61.1 L497.7,61.4 L498.0,61.7 L498.3,62.0 L498.6,62.3 L498.8,62.6 L499.0,63.0 L499.1,63.3 L499.1,63.6 L499.2,64.0 L499.1,64.3 L499.1,64.6 L499.0,65.0 L498.8,65.3 L498.6,65.7 L498.4,66.0 L498.1,66.4 L497.8,66.8 L497.4,67.1 L497.1,67.5 L496.7,67.9 L496.3,68.2 L495.9,68.6 L495.5,69.0 L495.1,69.3 L494.7,69.7 L494.3,70.1 L493.9,70.5 L493.6,70.8 L493.3,71.2 L493.0,71.6 L492.7,71.9 L492.4,72.3" fill="none" stroke="#0c0cd0" stroke-width="0.8" opacity="0.8"/>
<path d="M482.1,6.2 L485.2,6.0 M481.3,8.2 L487.5,7.9 M482.1,10.2 L489.2,9.8 M484.2,12.1 L489.4,11.8 M487.2,13.9 L487.9,13.9 M489.7,15.8 L485.2,16.0 M490.9,17.7 L482.2,18.2 M490.0,19.8 L480.3,20.3 M487.3,22.0 L480.4,22.3 M483.7,24.1 L482.8,24.2 M481.1,27.0 L486.7,25.9 M480.6,29.2 L490.5,27.2 M482.4,30.9 L492.9,28.8 M486.0,32.2 L493.1,30.8 M490.2,33.4 L491.0,33.2 M493.5,34.8 L487.6,36.0 M494.9,36.6 L484.4,38.6 M493.7,38.8 L482.8,41.0 M490.9,41.2 L484.0,43.6 M487.8,44.4 L487.1,44.6 M485.7,47.2 L491.4,45.3 M485.6,49.4 L495.4,46.1 M487.7,50.8 L497.8,47.4 M491.5,51.6 L498.1,49.4 M495.7,52.3 L496.3,52.2 M499.2,54.6 L493.4,55.1 M500.0,56.5 L490.2,57.4 M498.6,58.6 L488.7,59.5 M495.7,60.9 L489.4,61.5 M492.4,63.2 L492.0,63.2 M490.2,65.4 L495.5,65.0 M489.8,67.5 L498.6,66.7 M491.4,69.3 L500.3,68.6 M494.4,71.1 L500.0,70.6" fill="none" stroke="#0c0cd0" stroke-width="0.6"/>
<path d="M496.0,44.8 C499.5,40.0 500.9,48.0 503.7,44.0 C505.8,40.8 507.9,48.0 510.0,43.2" fill="none" stroke="#9c1818" stroke-width="2.1"/><path d="M502.3,40.0 L503.0,48.0 M500.2,42.4 L506.5,45.6" stroke="#9c1818" stroke-width="1.5"/>
<path d="M488.1,125.6 L488.2,126.0 L488.4,126.4 L488.6,126.9 L488.9,127.4 L489.1,127.9 L489.5,128.5 L489.8,129.0 L490.2,129.6 L490.6,130.2 L491.0,130.7 L491.4,131.3 L491.8,131.9 L492.2,132.5 L492.6,133.0 L493.0,133.6 L493.4,134.2 L493.7,134.7 L494.0,135.2 L494.2,135.7 L494.4,136.2 L494.6,136.6 L494.6,137.0 L494.7,137.4 L494.7,137.8 L494.6,138.1 L494.5,138.5 L494.3,138.7 L494.0,139.0 L493.7,139.2 L493.4,139.4 L493.0,139.6 L492.5,139.7 L492.0,139.8 L491.4,139.9 L490.8,140.0 L490.2,140.1 L489.6,140.1 L488.9,140.1 L488.2,140.2 L487.5,140.2 L486.8,140.2 L486.1,140.2 L485.4,140.2 L484.7,140.3 L484.0,140.3 L483.3,140.4 L482.4,141.3 L481.9,141.5 L481.4,141.8 L481.0,142.0 L480.6,142.3 L480.2,142.5 L480.0,142.8 L479.7,143.1 L479.6,143.4 L479.5,143.8 L479.5,144.1 L479.5,144.4 L479.6,144.8 L479.8,145.2 L480.0,145.6 L480.3,146.0 L480.6,146.4 L481.0,146.8 L481.4,147.2 L481.9,147.7 L482.4,148.1 L482.9,148.6 L483.4,149.0 L483.9,149.5 L484.5,149.9 L485.0,150.4 L485.6,150.8 L486.1,151.3 L486.6,151.7 L487.1,152.2 L487.5,152.6 L487.9,153.0 L488.3,153.4 L488.6,153.9 L488.8,154.2 L489.0,154.6 L489.1,155.0 L489.2,155.4 L489.2,155.7 L489.2,156.0 L489.1,156.3 L488.9,156.7 L488.6,156.9 L488.3,157.2 L488.0,157.5 L487.5,157.7 L487.1,158.0 L486.5,158.2 L486.0,158.4 L485.4,158.6 L484.8,158.9 L484.1,159.1 L483.4,159.3 L482.8,159.5 L482.1,159.7 L481.4,159.9 L480.7,160.1 L480.1,160.3 L479.4,161.0 L478.8,161.3 L478.3,161.7 L477.8,162.0 L477.4,162.3 L477.0,162.7 L476.7,163.0 L476.4,163.3 L476.2,163.7 L476.1,164.0 L476.0,164.3 L476.0,164.7 L476.1,165.0 L476.2,165.4 L476.4,165.7 L476.6,166.0 L476.9,166.4 L477.3,166.7 L477.7,167.0 L478.2,167.4 L478.7,167.7 L479.2,168.0 L479.8,168.4 L480.4,168.7 L481.0,169.0 L481.6,169.4 L482.2,169.7 L482.9,170.0 L483.5,170.4 L484.1,170.7 L484.7,171.0 L485.2,171.4 L485.7,171.7 L486.2,172.0 L486.6,172.4 L487.0,172.7 L487.3,173.0 L487.6,173.4 L487.8,173.7 L487.9,174.0 L488.0,174.4 L488.0,174.7 L487.9,175.0 L487.8,175.4 L487.6,175.7 L487.4,176.0 L487.1,176.4 L486.7,176.7 L486.3,177.0 L485.8,177.4 L485.3,177.7 L484.8,178.0 L484.2,178.4 L483.6,178.7 L483.0,179.0 L482.3,179.4 L481.7,179.7 L481.1,180.1 L480.5,180.5 L480.0,180.9 L479.4,181.3 L478.9,181.7 L478.4,182.1 L478.0,182.5 L477.6,182.9 L477.3,183.2 L477.0,183.6 L476.8,184.0 L476.6,184.3 L476.5,184.7 L476.5,185.0 L476.5,185.3 L476.6,185.7 L476.8,186.0 L477.0,186.3 L477.3,186.6 L477.7,186.9 L478.1,187.2 L478.5,187.5 L479.0,187.8 L479.6,188.0 L480.2,188.3 L480.8,188.6 L481.4,188.9 L482.0,189.1 L482.7,189.4 L483.4,189.6 L484.0,189.9 L484.7,190.2 L485.3,190.4 L485.9,190.7 L486.5,191.0 L487.0,191.3 L487.5,191.6 L488.0,191.8 L488.4,192.1 L488.7,192.4 L489.0,192.7 L489.2,193.0 L489.4,193.4" fill="none" stroke="#0c0cd0" stroke-width="1.5"/>
<path d="M497.7,130.3 L497.8,130.8 L497.8,131.2 L497.8,131.5 L497.7,131.9 L497.6,132.2 L497.4,132.5 L497.2,132.7 L496.9,132.9 L496.5,133.1 L496.1,133.3 L495.7,133.4 L495.1,133.6 L494.6,133.7 L494.0,133.7 L493.4,133.8 L492.7,133.8 L492.0,133.9 L491.3,133.9 L490.6,133.9 L489.9,133.9 L489.2,134.0 L488.5,134.0 L487.8,134.0 L487.2,134.0 L486.5,134.1 L485.9,134.2 L485.3,134.2 L484.8,134.3 L484.3,134.5 L483.8,134.6 L483.4,134.8 L483.1,135.0 L482.8,135.2 L482.6,135.5 L482.4,135.8 L482.3,136.1 L482.2,136.4 L482.3,136.8 L482.3,137.2 L482.4,137.7 L482.6,138.1 L482.8,138.6 L483.1,139.1 L483.4,139.6 L483.7,140.2 L484.1,140.7 L484.3,141.7 L484.8,142.1 L485.4,142.6 L485.9,143.1 L486.5,143.5 L487.0,144.0 L487.5,144.4 L488.0,144.9 L488.5,145.3 L488.9,145.7 L489.3,146.2 L489.7,146.6 L490.0,147.0 L490.3,147.4 L490.4,147.8 L490.6,148.1 L490.7,148.5 L490.7,148.8 L490.6,149.2 L490.5,149.5 L490.3,149.8 L490.1,150.1 L489.8,150.4 L489.4,150.6 L489.0,150.9 L488.5,151.1 L488.0,151.3 L487.4,151.6 L486.9,151.8 L486.2,152.0 L485.6,152.2 L484.9,152.4 L484.2,152.6 L483.5,152.8 L482.9,153.0 L482.2,153.2 L481.5,153.4 L480.9,153.6 L480.3,153.8 L479.7,154.0 L479.2,154.3 L478.7,154.5 L478.2,154.8 L477.9,155.0 L477.5,155.3 L477.3,155.6 L477.0,155.9 L476.9,156.2 L476.8,156.5 L476.8,156.8 L476.9,157.2 L477.0,157.6 L477.1,157.9 L477.4,158.3 L477.6,158.7 L478.0,159.1 L478.4,159.6 L478.8,160.0 L479.2,161.0 L479.8,161.3 L480.4,161.7 L481.0,162.0 L481.6,162.3 L482.2,162.7 L482.8,163.0 L483.5,163.3 L484.1,163.7 L484.6,164.0 L485.2,164.3 L485.7,164.7 L486.2,165.0 L486.6,165.4 L487.0,165.7 L487.3,166.0 L487.6,166.4 L487.8,166.7 L487.9,167.0 L488.0,167.4 L488.0,167.7 L487.9,168.0 L487.8,168.4 L487.6,168.7 L487.4,169.0 L487.1,169.4 L486.7,169.7 L486.3,170.0 L485.8,170.4 L485.3,170.7 L484.8,171.0 L484.2,171.4 L483.6,171.7 L483.0,172.0 L482.4,172.4 L481.7,172.7 L481.1,173.0 L480.5,173.4 L479.9,173.7 L479.3,174.0 L478.8,174.4 L478.3,174.7 L477.8,175.0 L477.4,175.4 L477.0,175.7 L476.7,176.0 L476.4,176.4 L476.2,176.7 L476.1,177.0 L476.0,177.4 L476.0,177.7 L476.1,178.0 L476.2,178.4 L476.4,178.7 L476.6,179.0 L477.0,179.4 L477.3,179.7 L477.8,180.5 L478.3,180.8 L478.8,181.1 L479.4,181.3 L480.0,181.6 L480.6,181.9 L481.3,182.1 L481.9,182.4 L482.6,182.7 L483.2,182.9 L483.9,183.2 L484.5,183.5 L485.1,183.7 L485.7,184.0 L486.3,184.3 L486.8,184.6 L487.2,184.9 L487.6,185.2 L488.0,185.5 L488.3,185.8 L488.5,186.1 L488.6,186.4 L488.7,186.7 L488.8,187.1 L488.8,187.4 L488.7,187.7 L488.5,188.1 L488.3,188.4 L488.0,188.8 L487.7,189.2 L487.3,189.6 L486.8,189.9 L486.4,190.3 L485.9,190.7 L485.3,191.1 L484.8,191.5 L484.2,191.9 L483.6,192.3 L483.0,192.7 L482.4,193.1 L481.9,193.5 L481.3,193.9 L480.8,194.3" fill="none" stroke="#0c0cd0" stroke-width="1.5"/>
<path d="M492.8,127.9 L493.1,128.4 L493.4,129.0 L493.7,129.5 L494.0,130.0 L494.2,130.5 L494.5,131.0 L494.7,131.5 L494.9,131.9 L495.0,132.4 L495.1,132.8 L495.2,133.2 L495.2,133.6 L495.2,134.0 L495.2,134.3 L495.0,134.6 L494.9,134.9 L494.7,135.2 L494.4,135.4 L494.1,135.7 L493.8,135.9 L493.4,136.1 L493.0,136.2 L492.6,136.4 L492.1,136.5 L491.5,136.6 L491.0,136.7 L490.4,136.8 L489.9,136.9 L489.3,137.0 L488.7,137.0 L488.1,137.1 L487.5,137.2 L486.9,137.3 L486.3,137.4 L485.8,137.4 L485.2,137.6 L484.7,137.7 L484.2,137.8 L483.8,138.0 L483.4,138.1 L483.0,138.3 L482.7,138.5 L482.4,138.8 L482.2,139.0 L482.0,139.3 L481.8,139.6 L481.4,141.1 L481.4,141.4 L481.5,141.8 L481.6,142.2 L481.8,142.5 L482.1,142.9 L482.3,143.3 L482.6,143.7 L483.0,144.1 L483.3,144.6 L483.7,145.0 L484.1,145.4 L484.5,145.8 L485.0,146.3 L485.4,146.7 L485.8,147.1 L486.2,147.6 L486.6,148.0 L487.0,148.4 L487.3,148.8 L487.7,149.2 L488.0,149.6 L488.2,150.0 L488.4,150.4 L488.6,150.8 L488.7,151.2 L488.8,151.5 L488.8,151.9 L488.8,152.2 L488.7,152.5 L488.5,152.8 L488.4,153.1 L488.1,153.4 L487.8,153.7 L487.5,154.0 L487.1,154.2 L486.7,154.5 L486.3,154.7 L485.8,155.0 L485.3,155.2 L484.8,155.4 L484.2,155.7 L483.7,155.9 L483.1,156.1 L482.6,156.3 L482.0,156.6 L481.5,156.8 L480.9,157.0 L480.4,157.3 L479.9,157.5 L479.5,157.7 L479.1,158.0 L478.7,158.3 L478.3,158.5 L478.0,158.8 L477.8,159.1 L477.6,159.4 L477.4,159.7 L477.2,161.0 L477.2,161.3 L477.3,161.7 L477.4,162.0 L477.6,162.3 L477.8,162.7 L478.1,163.0 L478.4,163.3 L478.7,163.7 L479.1,164.0 L479.5,164.3 L480.0,164.7 L480.4,165.0 L480.9,165.4 L481.4,165.7 L481.9,166.0 L482.4,166.4 L482.9,166.7 L483.4,167.0 L483.9,167.4 L484.3,167.7 L484.8,168.0 L485.2,168.4 L485.5,168.7 L485.8,169.0 L486.1,169.4 L486.4,169.7 L486.5,170.0 L486.7,170.4 L486.8,170.7 L486.8,171.0 L486.8,171.4 L486.7,171.7 L486.6,172.0 L486.4,172.4 L486.2,172.7 L485.9,173.0 L485.6,173.4 L485.2,173.7 L484.9,174.0 L484.4,174.4 L484.0,174.7 L483.5,175.0 L483.0,175.4 L482.5,175.7 L482.0,176.0 L481.5,176.4 L481.0,176.7 L480.5,177.0 L480.1,177.4 L479.6,177.7 L479.2,178.0 L478.8,178.4 L478.5,178.7 L478.1,179.0 L477.9,179.4 L477.6,179.7 L477.5,180.5 L477.4,180.9 L477.3,181.2 L477.3,181.6 L477.4,181.9 L477.5,182.2 L477.7,182.5 L477.9,182.8 L478.2,183.1 L478.5,183.5 L478.8,183.8 L479.2,184.0 L479.6,184.3 L480.1,184.6 L480.6,184.9 L481.1,185.2 L481.6,185.5 L482.1,185.7 L482.6,186.0 L483.2,186.3 L483.7,186.6 L484.2,186.9 L484.7,187.1 L485.2,187.4 L485.7,187.7 L486.1,188.0 L486.5,188.3 L486.8,188.6 L487.1,188.9 L487.4,189.2 L487.6,189.5 L487.8,189.8 L487.9,190.2 L488.0,190.5 L488.0,190.8 L487.9,191.2 L487.8,191.5 L487.7,191.9 L487.5,192.2 L487.2,192.6 L487.0,193.0 L486.6,193.3 L486.3,193.7" fill="none" stroke="#0c0cd0" stroke-width="0.8" opacity="0.8"/>
<path d="M494.6,128.8 L494.0,128.9 L493.4,129.0 L492.8,129.0 L492.2,129.1 L491.6,129.2 L491.1,129.3 L490.5,129.4 L489.9,129.4 L489.4,129.5 L488.9,129.7 L488.4,129.8 L487.9,129.9 L487.5,130.1 L487.1,130.3 L486.8,130.5 L486.5,130.7 L486.2,131.0 L486.0,131.2 L485.9,131.5 L485.8,131.9 L485.7,132.2 L485.7,132.6 L485.7,132.9 L485.8,133.4 L485.9,133.8 L486.0,134.2 L486.2,134.7 L486.4,135.2 L486.7,135.7 L486.9,136.2 L487.2,136.7 L487.5,137.2 L487.8,137.7 L488.1,138.3 L488.4,138.8 L488.7,139.3 L489.0,139.8 L489.2,140.3 L489.5,140.8 L489.7,141.3 L489.9,141.8 L490.0,142.2 L490.2,142.6 L490.2,143.1 L490.3,143.4 L490.3,143.8 L490.6,143.0 L490.6,143.4 L490.5,143.7 L490.4,144.0 L490.3,144.3 L490.0,144.6 L489.8,144.9 L489.5,145.2 L489.1,145.4 L488.7,145.7 L488.3,145.9 L487.8,146.2 L487.3,146.4 L486.8,146.7 L486.3,146.9 L485.7,147.1 L485.1,147.3 L484.6,147.6 L484.0,147.8 L483.5,148.0 L482.9,148.2 L482.4,148.5 L481.9,148.7 L481.5,148.9 L481.0,149.2 L480.6,149.5 L480.3,149.7 L479.9,150.0 L479.7,150.3 L479.5,150.6 L479.3,150.9 L479.2,151.2 L479.1,151.5 L479.1,151.9 L479.1,152.2 L479.2,152.6 L479.3,152.9 L479.5,153.3 L479.7,153.7 L480.0,154.1 L480.3,154.5 L480.6,154.9 L481.0,155.3 L481.4,155.8 L481.8,156.2 L482.2,156.6 L482.6,157.0 L483.0,157.5 L483.4,157.9 L483.9,158.3 L484.3,158.8 L484.6,159.2 L485.0,159.6 L485.3,160.0 L485.6,160.4 L485.9,160.8 L486.1,161.2 L486.3,161.6 L486.5,161.0 L486.6,161.3 L486.7,161.7 L486.8,162.0 L486.8,162.3 L486.7,162.7 L486.6,163.0 L486.5,163.3 L486.3,163.7 L486.0,164.0 L485.7,164.3 L485.4,164.7 L485.0,165.0 L484.6,165.4 L484.1,165.7 L483.7,166.0 L483.2,166.4 L482.7,166.7 L482.2,167.0 L481.7,167.4 L481.2,167.7 L480.7,168.0 L480.2,168.4 L479.8,168.7 L479.3,169.0 L478.9,169.4 L478.6,169.7 L478.2,170.0 L477.9,170.4 L477.7,170.7 L477.5,171.0 L477.3,171.4 L477.2,171.7 L477.2,172.0 L477.2,172.4 L477.3,172.7 L477.4,173.0 L477.5,173.4 L477.8,173.7 L478.0,174.0 L478.3,174.4 L478.7,174.7 L479.0,175.0 L479.5,175.4 L479.9,175.7 L480.4,176.0 L480.8,176.4 L481.3,176.7 L481.8,177.0 L482.3,177.4 L482.8,177.7 L483.3,178.0 L483.8,178.4 L484.3,178.7 L484.7,179.0 L485.1,179.4 L485.5,179.7 L485.8,179.6 L486.1,179.9 L486.4,180.3 L486.6,180.6 L486.8,180.9 L486.9,181.2 L487.0,181.5 L487.0,181.9 L487.0,182.2 L486.9,182.5 L486.8,182.9 L486.6,183.3 L486.4,183.6 L486.1,184.0 L485.8,184.3 L485.5,184.7 L485.1,185.1 L484.7,185.5 L484.2,185.9 L483.8,186.2 L483.3,186.6 L482.9,187.0 L482.4,187.4 L482.0,187.8 L481.5,188.2 L481.1,188.5 L480.7,188.9 L480.3,189.3 L479.9,189.7 L479.6,190.1 L479.3,190.4 L479.0,190.8 L478.8,191.1 L478.7,191.5 L478.6,191.8 L478.5,192.2 L478.5,192.5 L478.6,192.8 L478.7,193.2 L478.8,193.5 L479.0,193.8 L479.3,194.1 L479.6,194.4" fill="none" stroke="#0c0cd0" stroke-width="0.8" opacity="0.8"/>
<path d="M488.1,125.6 L497.7,130.3 M489.5,128.5 L497.4,132.5 M491.8,131.9 L495.1,133.6 M494.0,135.2 L491.3,133.9 M494.7,137.8 L487.2,134.0 M493.4,139.4 L483.8,134.6 M490.2,140.1 L482.3,136.1 M486.1,140.2 L482.8,138.6 M481.9,141.5 L484.8,142.1 M479.7,143.1 L488.0,144.9 M479.8,145.2 L490.3,147.4 M481.9,147.7 L490.5,149.5 M485.0,150.4 L488.5,151.1 M487.9,153.0 L484.9,152.4 M489.2,155.4 L480.9,153.6 M488.3,157.2 L477.9,155.0 M485.4,158.6 L476.8,156.8 M481.4,159.9 L478.0,159.1 M477.8,162.0 L481.0,162.0 M476.1,164.0 L484.6,164.0 M476.6,166.0 L487.3,166.0 M479.2,168.0 L487.9,168.0 M482.9,170.0 L486.3,170.0 M486.2,172.0 L483.0,172.0 M487.9,174.0 L479.3,174.0 M487.4,176.0 L476.7,176.0 M484.8,178.0 L476.1,178.0 M481.1,180.1 L477.8,180.5 M478.0,182.5 L481.3,182.1 M476.5,184.7 L485.1,183.7 M477.3,186.6 L488.0,185.5 M480.2,188.3 L488.8,187.4 M484.0,189.9 L487.3,189.6 M487.5,191.6 L484.2,191.9 M489.4,193.4 L480.8,194.3" fill="none" stroke="#0c0cd0" stroke-width="0.6"/>
<path d="M484.0,163.6 C488.2,157.0 489.9,168.0 493.4,162.5 C495.9,158.1 498.4,168.0 501.0,161.4" fill="none" stroke="#9c1818" stroke-width="2.1"/><path d="M491.6,157.0 L492.5,168.0 M489.1,160.3 L496.8,164.7" stroke="#9c1818" stroke-width="1.5"/>
<path d="M405.1,191.9 L404.5,192.2 L404.0,192.5 L403.6,192.8 L403.2,193.1 L402.9,193.4 L402.6,193.8 L402.3,194.1 L402.2,194.4 L402.1,194.8 L402.1,195.1 L402.1,195.4 L402.2,195.8 L402.4,196.1 L402.6,196.4 L402.9,196.8 L403.2,197.1 L403.6,197.5 L404.1,197.9 L404.6,198.2 L405.1,198.6 L405.6,198.9 L406.2,199.3 L406.8,199.6 L407.4,200.0 L408.0,200.4 L408.6,200.7 L409.1,201.1 L409.7,201.4 L410.2,201.8 L410.7,202.2 L411.1,202.5 L411.5,202.9 L411.8,203.2 L412.1,203.6 L412.3,203.9 L412.5,204.3 L412.6,204.6 L412.6,204.9 L412.6,205.3 L412.5,205.6 L412.3,205.9 L412.1,206.2 L411.8,206.6 L411.4,206.9 L411.0,207.2 L410.6,207.5 L410.1,207.8 L409.5,208.1 L409.0,208.4 L408.4,208.7 L407.8,209.1 L407.1,209.4 L406.5,209.7 L405.9,210.0 L405.3,210.3 L404.7,210.6 L404.1,210.9 L403.6,211.2 L403.1,211.5 L402.7,211.8 L402.3,212.1 L402.0,212.5 L401.7,212.8 L401.5,213.1 L401.3,213.4 L401.2,213.8 L401.2,214.1 L401.2,214.4 L401.3,214.8 L401.5,215.1 L401.8,215.5 L402.1,215.8 L402.4,216.2 L402.8,216.5 L403.3,216.9 L403.8,217.2 L404.3,217.6 L404.8,217.9 L405.4,218.3 L406.0,218.7 L406.6,219.0 L407.2,219.4 L407.7,219.7 L408.3,220.1 L408.8,220.5 L409.4,220.8 L409.8,221.2 L410.3,221.5 L410.7,221.9 L411.0,222.2 L411.3,222.6 L411.4,221.8 L411.7,222.1 L411.8,222.4 L411.9,222.8 L411.9,223.1 L411.9,223.4 L411.8,223.8 L411.6,224.2 L411.4,224.5 L411.1,224.9 L410.8,225.3 L410.4,225.7 L410.0,226.1 L409.5,226.6 L409.0,227.0 L408.5,227.4 L408.0,227.8 L407.4,228.3 L406.9,228.7 L406.3,229.1 L405.8,229.5 L405.3,230.0 L404.8,230.4 L404.4,230.8 L404.0,231.2 L403.6,231.6 L403.3,232.0 L403.1,232.4 L402.9,232.8 L402.7,233.1 L402.6,233.5 L402.6,233.8 L402.7,234.1 L402.8,234.5 L403.0,234.8 L403.2,235.1 L403.6,235.3 L403.9,235.6 L404.4,235.9 L404.8,236.1 L405.3,236.4 L405.9,236.6 L406.5,236.9 L407.1,237.1 L407.7,237.3 L408.4,237.6 L409.0,237.8 L409.7,238.0 L410.3,238.3 L411.0,238.5 L411.6,238.7 L412.1,239.0 L412.7,239.2 L413.2,239.5 L413.6,239.7 L414.0,240.0 L414.4,240.3 L414.6,240.6 L414.8,240.9 L415.0,241.2 L415.1,241.5 L415.1,241.9 L415.1,242.2 L414.9,242.6 L414.8,242.9 L414.5,243.3 L414.3,243.7 L413.9,244.1 L413.5,244.5 L413.1,244.9 L412.6,245.3 L412.1,245.7 L411.6,246.2 L411.1,246.6 L410.5,247.0 L410.0,247.5 L409.5,247.9 L408.9,248.3 L408.4,248.7 L408.0,249.2 L407.5,249.6 L407.1,250.0 L406.8,250.4 L406.5,250.8 L406.2,251.2 L406.0,251.5 L405.9,251.9 L405.8,252.2 L405.8,252.6 L405.9,252.9 L406.0,253.2 L406.2,253.5 L406.4,253.8 L406.8,254.1 L407.1,254.4 L407.6,254.6 L408.1,254.9 L408.6,255.2 L409.1,255.4 L409.7,255.6 L410.3,255.9 L411.0,256.1 L411.6,256.3 L412.3,256.6 L412.9,256.8 L413.6,257.0 L414.2,257.3 L414.8,257.5 L415.4,257.7 L415.9,258.0 L416.4,258.2 L416.8,258.5 L417.2,258.8 L417.6,259.1 L417.8,259.3 L418.0,259.6 L418.2,260.0 L418.3,260.3 L418.3,260.6 L418.2,261.0 L418.1,261.3 L417.9,261.7 L417.7,262.1 L417.4,262.5 L417.0,262.9 L416.7,263.3 L416.2,263.7 L415.8,264.1" fill="none" stroke="#0c0cd0" stroke-width="1.5"/>
<path d="M405.4,191.9 L405.9,192.3 L406.5,192.6 L407.0,193.0 L407.6,193.3 L408.2,193.7 L408.8,194.1 L409.4,194.4 L409.9,194.8 L410.4,195.1 L410.9,195.5 L411.4,195.8 L411.8,196.2 L412.1,196.5 L412.4,196.9 L412.6,197.2 L412.8,197.6 L412.9,197.9 L412.9,198.3 L412.9,198.6 L412.8,198.9 L412.6,199.2 L412.4,199.6 L412.1,199.9 L411.7,200.2 L411.3,200.5 L410.9,200.8 L410.4,201.1 L409.9,201.5 L409.3,201.8 L408.7,202.1 L408.1,202.4 L407.5,202.7 L406.9,203.0 L406.2,203.3 L405.6,203.6 L405.1,203.9 L404.5,204.2 L404.0,204.5 L403.5,204.8 L403.0,205.2 L402.6,205.5 L402.3,205.8 L402.0,206.1 L401.8,206.4 L401.6,206.8 L401.5,207.1 L401.5,207.4 L401.5,207.8 L401.6,208.1 L401.8,208.4 L402.0,208.8 L402.3,209.1 L402.7,209.5 L403.1,209.8 L403.5,210.2 L404.0,210.6 L404.5,210.9 L405.1,211.3 L405.7,211.6 L406.2,212.0 L406.8,212.4 L407.4,212.7 L408.0,213.1 L408.6,213.4 L409.1,213.8 L409.6,214.2 L410.1,214.5 L410.5,214.9 L410.9,215.2 L411.3,215.6 L411.6,215.9 L411.8,216.3 L411.9,216.6 L412.0,216.9 L412.0,217.3 L412.0,217.6 L411.9,217.9 L411.7,218.3 L411.5,218.6 L411.2,218.9 L410.8,219.2 L410.4,219.5 L410.0,219.8 L409.5,220.2 L408.9,220.5 L408.4,220.8 L407.8,221.1 L407.2,221.4 L406.6,221.7 L405.9,222.0 L405.3,222.3 L404.7,223.0 L404.2,223.4 L403.8,223.8 L403.3,224.2 L402.9,224.6 L402.5,225.0 L402.2,225.4 L402.0,225.8 L401.8,226.2 L401.6,226.5 L401.5,226.9 L401.5,227.2 L401.6,227.6 L401.7,227.9 L401.9,228.2 L402.1,228.5 L402.4,228.8 L402.8,229.0 L403.2,229.3 L403.7,229.6 L404.2,229.8 L404.7,230.1 L405.3,230.3 L405.9,230.5 L406.6,230.8 L407.2,231.0 L407.9,231.2 L408.5,231.5 L409.2,231.7 L409.8,231.9 L410.4,232.2 L411.0,232.4 L411.5,232.6 L412.0,232.9 L412.5,233.2 L412.9,233.4 L413.2,233.7 L413.5,234.0 L413.7,234.3 L413.9,234.6 L414.0,234.9 L414.0,235.3 L414.0,235.6 L413.8,236.0 L413.7,236.3 L413.4,236.7 L413.2,237.1 L412.8,237.5 L412.4,237.9 L412.0,238.3 L411.6,238.7 L411.1,239.2 L410.5,239.6 L410.0,240.0 L409.5,240.4 L408.9,240.9 L408.4,241.3 L407.9,241.7 L407.4,242.2 L406.9,242.6 L406.4,243.0 L406.0,243.4 L405.7,243.8 L405.4,244.2 L405.1,244.6 L404.9,244.9 L404.8,245.3 L404.7,245.7 L404.7,246.0 L404.8,246.3 L404.9,246.6 L405.1,246.9 L405.3,247.2 L405.6,247.5 L406.0,247.8 L406.4,248.1 L406.9,248.3 L407.4,248.6 L408.0,248.8 L408.6,249.1 L409.2,249.3 L409.8,249.5 L410.5,249.8 L411.1,250.0 L411.8,250.2 L412.4,250.4 L413.0,250.7 L413.6,250.9 L414.2,251.2 L414.8,251.4 L415.3,251.7 L415.7,251.9 L416.1,252.2 L416.4,252.5 L416.7,252.8 L416.9,253.1 L417.1,253.4 L417.1,253.7 L417.2,254.0 L417.1,254.4 L417.0,254.7 L416.8,255.1 L416.6,255.5 L416.3,255.9 L416.0,256.3 L415.6,256.7 L415.1,257.1 L414.7,257.5 L414.2,257.9 L413.7,258.4 L413.1,258.8 L412.6,259.2 L412.1,259.6 L411.5,260.1 L411.0,260.5 L410.5,260.9 L410.0,261.3 L409.6,261.8 L409.2,262.2 L408.8,262.6 L408.5,263.0 L408.3,263.3 L408.1,263.7 L407.9,264.1 L407.9,264.4 L407.9,264.8 L407.9,265.1 L408.1,265.4" fill="none" stroke="#0c0cd0" stroke-width="1.5"/>
<path d="M403.3,191.8 L403.3,192.1 L403.4,192.5 L403.5,192.8 L403.7,193.2 L404.0,193.5 L404.2,193.8 L404.5,194.2 L404.9,194.5 L405.3,194.9 L405.7,195.3 L406.1,195.6 L406.6,196.0 L407.0,196.3 L407.5,196.7 L408.0,197.0 L408.4,197.4 L408.9,197.7 L409.3,198.1 L409.7,198.4 L410.1,198.8 L410.5,199.1 L410.8,199.5 L411.0,199.8 L411.3,200.2 L411.4,200.5 L411.6,200.9 L411.6,201.2 L411.7,201.5 L411.6,201.9 L411.5,202.2 L411.4,202.5 L411.2,202.9 L411.0,203.2 L410.7,203.5 L410.4,203.8 L410.0,204.1 L409.6,204.5 L409.2,204.8 L408.7,205.1 L408.2,205.4 L407.8,205.7 L407.3,206.0 L406.8,206.3 L406.3,206.6 L405.8,207.0 L405.3,207.3 L404.8,207.6 L404.4,207.9 L404.0,208.2 L403.7,208.5 L403.4,208.8 L403.1,209.2 L402.8,209.5 L402.7,209.8 L402.5,210.1 L402.5,210.5 L402.4,210.8 L402.5,211.1 L402.6,211.5 L402.7,211.8 L402.9,212.2 L403.1,212.5 L403.4,212.9 L403.7,213.2 L404.1,213.6 L404.4,213.9 L404.9,214.3 L405.3,214.6 L405.8,215.0 L406.2,215.3 L406.7,215.7 L407.2,216.0 L407.6,216.4 L408.1,216.8 L408.5,217.1 L408.9,217.5 L409.3,217.8 L409.6,218.2 L409.9,218.5 L410.2,218.9 L410.4,219.2 L410.6,219.5 L410.7,219.9 L410.8,220.2 L410.8,220.6 L410.8,220.9 L410.7,221.2 L410.5,221.5 L410.3,221.9 L410.1,222.2 L409.8,222.5 L409.4,222.2 L409.2,222.5 L408.8,222.9 L408.5,223.3 L408.1,223.7 L407.7,224.1 L407.3,224.6 L406.9,225.0 L406.4,225.4 L406.0,225.8 L405.6,226.2 L405.2,226.6 L404.8,227.0 L404.5,227.4 L404.2,227.8 L403.9,228.2 L403.7,228.6 L403.5,228.9 L403.3,229.3 L403.2,229.6 L403.2,230.0 L403.2,230.3 L403.2,230.7 L403.3,231.0 L403.5,231.3 L403.7,231.6 L403.9,231.9 L404.2,232.2 L404.6,232.5 L405.0,232.7 L405.4,233.0 L405.9,233.3 L406.4,233.5 L406.9,233.8 L407.4,234.0 L407.9,234.3 L408.4,234.5 L409.0,234.8 L409.5,235.0 L410.0,235.3 L410.5,235.5 L411.0,235.8 L411.4,236.0 L411.8,236.3 L412.2,236.6 L412.5,236.9 L412.8,237.2 L413.0,237.5 L413.2,237.8 L413.4,238.1 L413.4,238.4 L413.5,238.7 L413.4,239.1 L413.4,239.4 L413.2,239.8 L413.1,240.2 L412.9,240.5 L412.6,240.9 L412.3,241.3 L412.0,241.7 L411.6,242.1 L411.2,242.5 L410.8,242.9 L410.4,243.3 L410.0,243.7 L409.6,244.2 L409.1,244.6 L408.7,245.0 L408.3,245.4 L408.0,245.8 L407.6,246.2 L407.3,246.6 L407.0,246.9 L406.8,247.3 L406.6,247.7 L406.5,248.1 L406.4,248.4 L406.3,248.8 L406.3,249.1 L406.4,249.4 L406.5,249.8 L406.7,250.1 L406.9,250.4 L407.1,250.7 L407.5,250.9 L407.8,251.2 L408.2,251.5 L408.6,251.8 L409.1,252.0 L409.6,252.3 L410.1,252.5 L410.6,252.8 L411.1,253.0 L411.7,253.3 L412.2,253.5 L412.7,253.8 L413.2,254.0 L413.7,254.3 L414.2,254.5 L414.6,254.8 L415.0,255.1 L415.4,255.4 L415.7,255.6 L416.0,255.9 L416.2,256.2 L416.4,256.5 L416.5,256.9 L416.6,257.2 L416.6,257.5 L416.6,257.9 L416.5,258.2 L416.4,258.6 L416.2,258.9 L416.0,259.3 L415.7,259.7 L415.4,260.1 L415.1,260.5 L414.7,260.9 L414.4,261.3 L414.0,261.7 L413.5,262.1 L413.1,262.5 L412.7,262.9 L412.3,263.3 L411.9,263.7 L411.5,264.1 L411.1,264.5 L410.8,264.9" fill="none" stroke="#0c0cd0" stroke-width="0.8" opacity="0.8"/>
<path d="M411.9,192.2 L412.0,192.5 L412.0,192.9 L412.0,193.2 L412.0,193.5 L411.9,193.9 L411.7,194.2 L411.5,194.5 L411.3,194.8 L411.0,195.2 L410.6,195.5 L410.3,195.8 L409.8,196.1 L409.4,196.4 L408.9,196.7 L408.5,197.0 L408.0,197.4 L407.5,197.7 L407.0,198.0 L406.5,198.3 L406.0,198.6 L405.5,198.9 L405.1,199.2 L404.7,199.5 L404.3,199.9 L403.9,200.2 L403.6,200.5 L403.4,200.8 L403.2,201.2 L403.0,201.5 L402.9,201.8 L402.8,202.1 L402.8,202.5 L402.9,202.8 L403.0,203.1 L403.1,203.5 L403.3,203.8 L403.6,204.2 L403.9,204.5 L404.2,204.9 L404.6,205.2 L405.0,205.6 L405.4,205.9 L405.8,206.3 L406.3,206.6 L406.8,207.0 L407.2,207.4 L407.7,207.7 L408.2,208.1 L408.6,208.4 L409.0,208.8 L409.4,209.1 L409.8,209.5 L410.1,209.8 L410.4,210.2 L410.7,210.5 L410.9,210.9 L411.0,211.2 L411.1,211.5 L411.2,211.9 L411.2,212.2 L411.1,212.5 L411.0,212.9 L410.9,213.2 L410.6,213.5 L410.4,213.9 L410.1,214.2 L409.7,214.5 L409.3,214.8 L408.9,215.1 L408.5,215.4 L408.0,215.7 L407.5,216.1 L407.0,216.4 L406.5,216.7 L406.0,217.0 L405.6,217.3 L405.1,217.6 L404.6,217.9 L404.2,218.2 L403.8,218.6 L403.4,218.9 L403.0,219.2 L402.7,219.5 L402.5,219.8 L402.3,220.2 L402.1,220.5 L402.0,220.8 L402.0,221.2 L402.0,221.5 L402.0,221.8 L402.1,222.2 L402.4,223.4 L402.6,223.7 L403.0,223.9 L403.3,224.2 L403.7,224.5 L404.2,224.7 L404.6,225.0 L405.1,225.3 L405.6,225.5 L406.1,225.8 L406.7,226.0 L407.2,226.3 L407.7,226.5 L408.3,226.8 L408.8,227.0 L409.3,227.3 L409.7,227.5 L410.2,227.8 L410.5,228.1 L410.9,228.3 L411.2,228.6 L411.5,228.9 L411.7,229.2 L411.9,229.5 L412.0,229.9 L412.0,230.2 L412.1,230.5 L412.0,230.9 L411.9,231.2 L411.8,231.6 L411.6,232.0 L411.4,232.3 L411.1,232.7 L410.8,233.1 L410.4,233.5 L410.1,233.9 L409.7,234.3 L409.3,234.7 L408.8,235.1 L408.4,235.5 L408.0,235.9 L407.6,236.4 L407.2,236.8 L406.8,237.2 L406.4,237.6 L406.1,238.0 L405.8,238.4 L405.5,238.7 L405.3,239.1 L405.1,239.5 L405.0,239.8 L404.9,240.2 L404.9,240.5 L404.9,240.9 L405.0,241.2 L405.1,241.5 L405.3,241.8 L405.6,242.1 L405.8,242.4 L406.2,242.7 L406.5,243.0 L406.9,243.2 L407.4,243.5 L407.8,243.8 L408.3,244.0 L408.9,244.3 L409.4,244.5 L409.9,244.8 L410.4,245.0 L411.0,245.3 L411.5,245.5 L412.0,245.8 L412.5,246.0 L412.9,246.3 L413.4,246.6 L413.8,246.8 L414.1,247.1 L414.4,247.4 L414.7,247.7 L414.9,248.0 L415.1,248.3 L415.2,248.6 L415.2,249.0 L415.2,249.3 L415.2,249.6 L415.1,250.0 L414.9,250.4 L414.7,250.7 L414.5,251.1 L414.2,251.5 L413.9,251.9 L413.6,252.3 L413.2,252.7 L412.8,253.1 L412.4,253.5 L412.0,253.9 L411.6,254.3 L411.1,254.7 L410.7,255.1 L410.3,255.5 L409.9,255.9 L409.6,256.3 L409.2,256.7 L408.9,257.1 L408.7,257.5 L408.5,257.9 L408.3,258.3 L408.2,258.6 L408.1,259.0 L408.1,259.3 L408.1,259.6 L408.2,260.0 L408.3,260.3 L408.5,260.6 L408.8,260.9 L409.0,261.2 L409.4,261.5 L409.7,261.7 L410.2,262.0 L410.6,262.3 L411.1,262.5 L411.6,262.8 L412.1,263.0 L412.6,263.3 L413.1,263.5 L413.7,263.8 L414.2,264.0 L414.7,264.3" fill="none" stroke="#0c0cd0" stroke-width="0.8" opacity="0.8"/>
<path d="M405.1,191.9 L405.4,191.9 M402.6,193.8 L408.8,194.1 M402.2,195.8 L411.8,196.2 M404.1,197.9 L412.9,198.3 M407.4,200.0 L411.7,200.2 M410.7,202.2 L408.7,202.1 M412.5,204.3 L405.1,203.9 M412.1,206.2 L402.3,205.8 M409.5,208.1 L401.5,207.8 M405.9,210.0 L403.1,209.8 M402.7,211.8 L406.2,212.0 M401.2,213.8 L409.6,214.2 M402.1,215.8 L411.8,216.3 M404.8,217.9 L411.7,218.3 M408.3,220.1 L409.5,220.2 M411.0,222.2 L405.9,222.0 M411.9,223.1 L402.9,224.6 M410.8,225.3 L401.5,226.9 M408.0,227.8 L402.4,228.8 M404.8,230.4 L405.3,230.3 M402.9,232.8 L409.2,231.7 M403.0,234.8 L412.5,233.2 M405.3,236.4 L414.0,234.9 M409.0,237.8 L413.2,237.1 M412.7,239.2 L410.5,239.6 M414.8,240.9 L407.4,242.2 M414.8,242.9 L405.1,244.6 M412.6,245.3 L404.9,246.6 M409.5,247.9 L406.9,248.3 M406.8,250.4 L410.5,249.8 M405.8,252.6 L414.2,251.2 M407.1,254.4 L416.7,252.8 M410.3,255.9 L417.0,254.7 M414.2,257.3 L415.1,257.1 M417.2,258.8 L412.1,259.6 M418.3,260.6 L409.2,262.2 M417.0,262.9 L407.9,264.4" fill="none" stroke="#0c0cd0" stroke-width="0.6"/>
<path d="M407.0,239.1 C408.9,234.0 409.6,242.5 411.1,238.2 C412.2,234.8 413.4,242.5 414.5,237.4" fill="none" stroke="#9c1818" stroke-width="2.1"/><path d="M410.4,234.0 L410.8,242.5 M409.2,236.6 L412.6,239.9" stroke="#9c1818" stroke-width="1.5"/>
<path d="M666.6,32.0 L666.5,32.4 L666.5,32.7 L666.5,33.0 L666.5,33.4 L666.6,33.7 L666.7,34.1 L666.9,34.5 L667.1,34.9 L667.4,35.3 L667.6,35.7 L667.9,36.1 L668.3,36.6 L668.6,37.0 L669.0,37.4 L669.3,37.9 L669.7,38.3 L670.1,38.7 L670.4,39.2 L670.8,39.6 L671.1,40.0 L671.4,40.4 L671.7,40.9 L671.9,41.3 L672.1,41.7 L672.3,42.0 L672.4,42.4 L672.4,42.8 L672.4,43.1 L672.4,43.4 L672.3,43.8 L672.2,44.1 L672.0,44.4 L671.7,44.7 L671.5,44.9 L671.1,45.2 L670.7,45.4 L670.3,45.7 L670.0,45.4 L669.6,45.7 L669.1,46.0 L668.6,46.3 L668.1,46.7 L667.6,47.0 L667.1,47.3 L666.6,47.6 L666.1,47.9 L665.6,48.3 L665.2,48.6 L664.7,48.9 L664.3,49.2 L663.9,49.6 L663.6,49.9 L663.3,50.2 L663.0,50.6 L662.8,50.9 L662.7,51.2 L662.6,51.5 L662.6,51.9 L662.6,52.2 L662.7,52.6 L662.9,52.9 L663.1,53.2 L663.4,53.6 L663.7,53.9 L664.0,54.2 L664.4,54.6 L664.9,54.9 L665.3,55.3 L665.8,55.6 L666.3,56.0 L666.8,56.3 L667.4,56.6 L667.9,57.0 L668.4,57.3 L668.9,57.7 L669.4,58.0 L669.8,58.4 L670.2,58.7 L670.6,59.0 L671.0,59.4 L671.3,59.7 L671.5,60.1 L671.7,60.4 L671.9,60.7 L671.9,61.1 L672.0,61.4 L671.9,61.7 L671.9,62.1 L671.7,62.4 L671.5,62.7 L671.2,63.1 L670.9,63.4 L670.6,63.7 L670.2,64.0 L669.8,64.4 L669.3,64.7 L668.8,65.0 L668.3,65.3 L667.8,65.7 L667.2,66.0 L666.7,66.3 L666.2,66.6 L665.7,67.0 L665.2,67.3 L664.7,67.6 L664.2,67.9 L663.8,68.3 L663.4,68.6 L663.1,68.9 L662.8,69.2 L662.6,69.6 L662.4,69.9 L662.3,70.2 L662.2,70.6 L662.2,70.9 L662.2,71.2 L662.3,71.6 L662.5,71.9 L662.7,72.2 L663.0,72.6 L663.3,72.9 L663.7,73.3 L664.1,73.6 L664.5,73.9 L665.0,74.3 L665.5,74.6 L666.0,75.0 L666.5,75.3 L667.0,75.7 L667.5,76.0 L668.0,76.3 L668.5,76.7 L669.0,77.0 L669.4,77.4 L669.8,77.7 L670.2,78.1 L670.5,78.4 L670.8,78.7 L671.1,79.1 L671.2,79.4 L671.4,79.8 L671.4,80.1 L671.5,80.4 L671.4,80.8 L671.3,81.1 L671.2,81.4 L671.0,81.8 L670.7,82.1 L670.4,82.4 L670.1,82.7 L669.7,83.1 L669.3,83.4 L668.8,83.7 L668.3,84.0 L667.8,84.4 L667.3,84.7 L666.8,85.0 L666.3,85.3 L665.8,85.6 L665.3,86.0 L664.8,86.3 L664.3,86.6 L663.9,86.9 L663.5,87.3 L663.2,87.6 L662.9,87.9 L662.6,88.2 L662.4,88.6 L662.2,88.9 L662.1,89.2 L662.0,89.6 L662.0,89.9 L662.1,90.2 L662.2,90.6 L662.3,90.9 L662.6,91.2 L662.8,91.6 L663.1,91.9 L663.5,92.3 L663.8,92.6 L664.2,93.0" fill="none" stroke="#0c0cd0" stroke-width="1.5"/>
<path d="M672.6,33.5 L672.8,33.9 L673.1,34.3 L673.3,34.7 L673.5,35.1 L673.6,35.5 L673.7,35.9 L673.8,36.2 L673.8,36.6 L673.8,36.9 L673.7,37.2 L673.6,37.5 L673.4,37.8 L673.1,38.1 L672.9,38.4 L672.5,38.7 L672.2,38.9 L671.8,39.2 L671.4,39.4 L670.9,39.6 L670.4,39.9 L669.9,40.1 L669.4,40.3 L668.8,40.5 L668.3,40.7 L667.7,40.9 L667.2,41.1 L666.7,41.3 L666.2,41.5 L665.7,41.8 L665.2,42.0 L664.8,42.2 L664.4,42.5 L664.1,42.7 L663.8,43.0 L663.5,43.3 L663.3,43.6 L663.2,43.9 L663.0,45.2 L663.0,45.6 L663.1,45.9 L663.2,46.2 L663.4,46.6 L663.7,46.9 L663.9,47.2 L664.3,47.6 L664.7,47.9 L665.1,48.3 L665.5,48.6 L666.0,48.9 L666.4,49.3 L666.9,49.6 L667.5,50.0 L668.0,50.3 L668.5,50.7 L669.0,51.0 L669.4,51.4 L669.9,51.7 L670.3,52.0 L670.7,52.4 L671.1,52.7 L671.4,53.1 L671.6,53.4 L671.8,53.7 L672.0,54.1 L672.1,54.4 L672.1,54.7 L672.1,55.1 L672.0,55.4 L671.8,55.7 L671.6,56.1 L671.4,56.4 L671.1,56.7 L670.7,57.1 L670.4,57.4 L669.9,57.7 L669.5,58.0 L669.0,58.3 L668.5,58.7 L667.9,59.0 L667.4,59.3 L666.9,59.6 L666.3,60.0 L665.8,60.3 L665.3,60.6 L664.8,60.9 L664.4,61.3 L664.0,61.6 L663.6,61.9 L663.2,62.2 L663.0,62.6 L662.7,62.9 L662.5,63.2 L662.4,63.6 L662.3,63.9 L662.3,64.2 L662.4,64.6 L662.5,64.9 L662.6,65.2 L662.8,65.6 L663.1,65.9 L663.4,66.2 L663.8,66.6 L664.2,66.9 L664.6,67.3 L665.1,67.6 L665.6,68.0 L666.1,68.3 L666.6,68.6 L667.1,69.0 L667.6,69.3 L668.1,69.7 L668.6,70.0 L669.1,70.4 L669.6,70.7 L670.0,71.1 L670.4,71.4 L670.7,71.7 L671.0,72.1 L671.3,72.4 L671.5,72.8 L671.6,73.1 L671.7,73.4 L671.7,73.8 L671.7,74.1 L671.6,74.4 L671.4,74.8 L671.2,75.1 L671.0,75.4 L670.7,75.7 L670.3,76.1 L669.9,76.4 L669.5,76.7 L669.0,77.0 L668.5,77.4 L668.0,77.7 L667.5,78.0 L667.0,78.3 L666.5,78.7 L665.9,79.0 L665.4,79.3 L664.9,79.6 L664.5,79.9 L664.0,80.3 L663.6,80.6 L663.3,80.9 L662.9,81.2 L662.7,81.6 L662.4,81.9 L662.3,82.2 L662.1,82.6 L662.1,82.9 L662.1,83.2 L662.1,83.6 L662.2,83.9 L662.4,84.2 L662.6,84.6 L662.9,84.9 L663.2,85.3 L663.5,85.6 L663.9,85.9 L664.3,86.3 L664.8,86.6 L665.2,87.0 L665.7,87.3 L666.2,87.7 L666.7,88.0 L667.2,88.3 L667.7,88.7 L668.2,89.0 L668.6,89.4 L669.0,89.7 L669.4,90.1 L669.8,90.4 L670.1,90.7 L670.4,91.1 L670.6,91.4 L670.8,91.8 L670.9,92.1 L671.0,92.4 L671.0,92.8 L671.0,93.1" fill="none" stroke="#0c0cd0" stroke-width="1.5"/>
<path d="M668.9,32.6 L669.1,33.0 L669.4,33.4 L669.6,33.8 L669.9,34.2 L670.1,34.6 L670.4,35.0 L670.7,35.4 L670.9,35.9 L671.2,36.3 L671.4,36.7 L671.6,37.1 L671.8,37.5 L672.0,37.8 L672.1,38.2 L672.2,38.6 L672.3,38.9 L672.3,39.3 L672.3,39.6 L672.3,40.0 L672.2,40.3 L672.1,40.6 L671.9,40.9 L671.7,41.2 L671.4,41.5 L671.2,41.8 L670.9,42.0 L670.5,42.3 L670.1,42.5 L669.7,42.8 L669.3,43.0 L668.9,43.3 L668.4,43.5 L668.0,43.7 L667.5,43.9 L667.1,44.2 L666.6,44.4 L666.2,44.6 L665.7,45.3 L665.4,45.6 L665.1,45.9 L664.8,46.3 L664.5,46.6 L664.3,46.9 L664.1,47.2 L663.9,47.6 L663.8,47.9 L663.7,48.2 L663.7,48.6 L663.7,48.9 L663.8,49.2 L663.9,49.6 L664.1,49.9 L664.3,50.2 L664.5,50.6 L664.8,50.9 L665.1,51.3 L665.4,51.6 L665.8,51.9 L666.2,52.3 L666.6,52.6 L667.0,53.0 L667.4,53.3 L667.8,53.7 L668.2,54.0 L668.6,54.3 L669.0,54.7 L669.4,55.0 L669.7,55.4 L670.0,55.7 L670.3,56.0 L670.5,56.4 L670.7,56.7 L670.9,57.1 L671.0,57.4 L671.1,57.7 L671.1,58.1 L671.1,58.4 L671.0,58.7 L670.9,59.1 L670.7,59.4 L670.5,59.7 L670.3,60.0 L670.0,60.4 L669.7,60.7 L669.3,61.0 L668.9,61.4 L668.6,61.7 L668.1,62.0 L667.7,62.3 L667.3,62.7 L666.9,63.0 L666.4,63.3 L666.0,63.6 L665.6,64.0 L665.2,64.3 L664.9,64.6 L664.5,64.9 L664.2,65.3 L664.0,65.6 L663.7,65.9 L663.5,66.2 L663.4,66.6 L663.3,66.9 L663.2,67.2 L663.2,67.6 L663.2,67.9 L663.3,68.2 L663.5,68.6 L663.6,68.9 L663.8,69.3 L664.1,69.6 L664.4,69.9 L664.7,70.3 L665.0,70.6 L665.4,71.0 L665.8,71.3 L666.2,71.6 L666.6,72.0 L667.0,72.3 L667.4,72.7 L667.8,73.0 L668.2,73.4 L668.6,73.7 L669.0,74.0 L669.3,74.4 L669.6,74.7 L669.9,75.1 L670.1,75.4 L670.3,75.7 L670.5,76.1 L670.6,76.4 L670.6,76.7 L670.6,77.1 L670.6,77.4 L670.5,77.7 L670.4,78.1 L670.2,78.4 L670.0,78.7 L669.8,79.1 L669.5,79.4 L669.2,79.7 L668.9,80.0 L668.5,80.4 L668.1,80.7 L667.7,81.0 L667.3,81.3 L666.9,81.7 L666.5,82.0 L666.0,82.3 L665.6,82.6 L665.2,83.0 L664.9,83.3 L664.5,83.6 L664.2,83.9 L663.9,84.3 L663.7,84.6 L663.4,84.9 L663.3,85.3 L663.1,85.6 L663.0,85.9 L663.0,86.2 L663.0,86.6 L663.0,86.9 L663.1,87.3 L663.2,87.6 L663.4,87.9 L663.6,88.3 L663.8,88.6 L664.1,88.9 L664.4,89.3 L664.7,89.6 L665.1,90.0 L665.5,90.3 L665.8,90.7 L666.2,91.0 L666.6,91.3 L667.0,91.7 L667.4,92.0 L667.8,92.4 L668.1,92.7 L668.5,93.0" fill="none" stroke="#0c0cd0" stroke-width="0.8" opacity="0.8"/>
<path d="M672.9,33.6 L672.6,33.9 L672.3,34.1 L671.9,34.4 L671.5,34.6 L671.1,34.9 L670.7,35.1 L670.3,35.4 L669.9,35.6 L669.4,35.8 L669.0,36.1 L668.6,36.3 L668.2,36.5 L667.8,36.8 L667.4,37.0 L667.0,37.3 L666.7,37.5 L666.4,37.8 L666.1,38.1 L665.9,38.4 L665.7,38.7 L665.5,39.0 L665.4,39.3 L665.3,39.6 L665.3,39.9 L665.3,40.3 L665.3,40.6 L665.4,41.0 L665.5,41.4 L665.7,41.8 L665.8,42.1 L666.0,42.5 L666.3,42.9 L666.5,43.4 L666.8,43.8 L667.1,44.2 L667.4,44.6 L667.7,45.0 L668.1,45.3 L668.5,45.7 L668.9,46.0 L669.2,46.3 L669.6,46.7 L669.9,47.0 L670.2,47.4 L670.4,47.7 L670.6,48.0 L670.8,48.4 L671.0,48.7 L671.1,49.0 L671.1,49.4 L671.1,49.7 L671.1,50.1 L671.0,50.4 L670.9,50.7 L670.7,51.0 L670.5,51.4 L670.3,51.7 L670.0,52.0 L669.7,52.4 L669.3,52.7 L669.0,53.0 L668.6,53.3 L668.2,53.7 L667.7,54.0 L667.3,54.3 L666.9,54.6 L666.4,55.0 L666.0,55.3 L665.6,55.6 L665.3,55.9 L664.9,56.3 L664.6,56.6 L664.3,56.9 L664.0,57.2 L663.8,57.6 L663.6,57.9 L663.5,58.2 L663.4,58.6 L663.4,58.9 L663.4,59.2 L663.4,59.6 L663.5,59.9 L663.7,60.2 L663.9,60.6 L664.1,60.9 L664.4,61.3 L664.7,61.6 L665.0,61.9 L665.3,62.3 L665.7,62.6 L666.1,63.0 L666.5,63.3 L666.9,63.6 L667.4,64.0 L667.8,64.3 L668.2,64.7 L668.6,65.0 L668.9,65.4 L669.3,65.7 L669.6,66.0 L669.9,66.4 L670.2,66.7 L670.4,67.1 L670.6,67.4 L670.7,67.7 L670.8,68.1 L670.9,68.4 L670.9,68.7 L670.8,69.1 L670.7,69.4 L670.6,69.7 L670.4,70.1 L670.2,70.4 L669.9,70.7 L669.6,71.0 L669.3,71.4 L668.9,71.7 L668.6,72.0 L668.2,72.3 L667.7,72.7 L667.3,73.0 L666.9,73.3 L666.5,73.6 L666.0,74.0 L665.6,74.3 L665.2,74.6 L664.9,74.9 L664.5,75.3 L664.2,75.6 L663.9,75.9 L663.7,76.3 L663.5,76.6 L663.3,76.9 L663.2,77.2 L663.1,77.6 L663.0,77.9 L663.1,78.2 L663.1,78.6 L663.2,78.9 L663.4,79.3 L663.6,79.6 L663.8,79.9 L664.0,80.3 L664.3,80.6 L664.7,80.9 L665.0,81.3 L665.4,81.6 L665.8,82.0 L666.2,82.3 L666.6,82.7 L667.0,83.0 L667.4,83.3 L667.8,83.7 L668.1,84.0 L668.5,84.4 L668.8,84.7 L669.1,85.0 L669.4,85.4 L669.7,85.7 L669.9,86.1 L670.0,86.4 L670.2,86.7 L670.2,87.1 L670.3,87.4 L670.3,87.7 L670.2,88.1 L670.1,88.4 L670.0,88.7 L669.8,89.1 L669.6,89.4 L669.4,89.7 L669.1,90.1 L668.7,90.4 L668.4,90.7 L668.0,91.0 L667.7,91.4 L667.3,91.7 L666.9,92.0 L666.5,92.3 L666.1,92.7 L665.7,93.0" fill="none" stroke="#0c0cd0" stroke-width="0.8" opacity="0.8"/>
<path d="M666.6,32.0 L672.6,33.5 M666.7,34.1 L673.7,35.9 M668.3,36.6 L673.4,37.8 M670.4,39.2 L671.4,39.4 M672.1,41.7 L668.3,40.7 M672.3,43.8 L665.2,42.0 M670.7,45.4 L663.3,43.6 M668.1,46.7 L663.4,46.6 M665.2,48.6 L665.5,48.6 M663.0,50.6 L668.5,50.7 M662.7,52.6 L671.1,52.7 M664.4,54.6 L672.1,54.7 M667.4,56.6 L671.1,56.7 M670.2,58.7 L668.5,58.7 M671.9,60.7 L665.3,60.6 M671.5,62.7 L663.0,62.6 M669.3,64.7 L662.4,64.6 M666.2,66.6 L663.8,66.6 M663.4,68.6 L666.6,68.6 M662.2,70.6 L669.6,70.7 M663.0,72.6 L671.5,72.8 M665.5,74.6 L671.4,74.8 M668.5,76.7 L669.5,76.7 M670.8,78.7 L666.5,78.7 M671.4,80.8 L663.6,80.6 M670.1,82.7 L662.1,82.6 M667.3,84.7 L662.6,84.6 M664.3,86.6 L664.8,86.6 M662.4,88.6 L667.7,88.7 M662.2,90.6 L670.1,90.7 M663.8,92.6 L671.0,92.8" fill="none" stroke="#0c0cd0" stroke-width="0.6"/>
<path d="M680.0,66.9 C682.5,61.3 683.5,70.7 685.5,66.0 C687.0,62.2 688.5,70.7 690.0,65.1" fill="none" stroke="#9c1818" stroke-width="2.1"/><path d="M684.5,61.3 L685.0,70.7 M683.0,64.1 L687.5,67.9" stroke="#9c1818" stroke-width="1.5"/>
<path d="M705.0,1.1 L705.1,1.4 L705.3,1.8 L705.6,2.2 L705.8,2.6 L706.1,3.0 L706.4,3.4 L706.7,3.8 L707.1,4.2 L707.4,4.7 L707.7,5.1 L708.0,5.5 L708.4,5.9 L708.7,6.3 L709.0,6.7 L709.2,7.1 L709.5,7.5 L709.7,7.9 L709.9,8.3 L710.0,8.7 L710.1,9.0 L710.2,9.4 L710.2,9.7 L710.2,10.1 L710.1,10.4 L710.0,10.7 L709.8,11.0 L709.6,11.3 L709.3,11.6 L709.0,11.8 L708.6,12.1 L708.2,12.4 L707.7,12.6 L707.2,12.8 L706.6,13.1 L706.1,13.3 L705.5,13.5 L704.8,13.7 L704.2,13.9 L703.6,14.1 L702.9,14.3 L702.2,14.5 L701.6,14.7 L701.0,14.9 L700.3,15.1 L699.8,15.3 L699.2,15.6 L698.7,15.8 L698.2,16.0 L697.8,16.3 L697.4,16.5 L697.1,16.8 L696.8,17.1 L696.6,17.4 L696.5,17.7 L696.4,18.0 L696.4,18.4 L696.4,20.7 L696.7,21.0 L697.0,21.4 L697.4,21.7 L697.8,22.0 L698.3,22.2 L698.9,22.5 L699.5,22.8 L700.2,23.1 L700.9,23.3 L701.7,23.6 L702.4,23.9 L703.2,24.1 L704.0,24.4 L704.8,24.7 L705.5,24.9 L706.3,25.2 L707.0,25.5 L707.7,25.8 L708.3,26.0 L708.9,26.3 L709.5,26.6 L710.0,26.9 L710.4,27.2 L710.8,27.5 L711.1,27.8 L711.3,28.1 L711.4,28.4 L711.5,28.8 L711.5,29.1 L711.4,29.4 L711.2,29.8 L711.0,30.2 L710.7,30.5 L710.3,30.9 L709.9,31.3 L709.4,31.6 L708.9,32.0 L708.3,32.4 L707.6,32.8 L706.9,33.2 L706.2,33.6 L705.5,34.0 L704.8,34.4 L704.0,34.8 L703.3,35.2 L702.6,35.6 L701.8,36.0 L701.1,36.4 L700.5,36.8 L699.9,37.2 L699.3,37.6 L698.8,38.0 L698.3,38.4 L697.9,38.7 L697.5,39.1 L697.3,39.5 L697.1,39.8 L697.0,40.2 L696.9,40.5 L697.0,40.8 L697.1,41.2 L697.3,41.5 L697.6,41.8 L697.9,42.1 L698.3,42.4 L698.8,42.9 L699.4,43.2 L700.0,43.4 L700.7,43.7 L701.4,43.9 L702.1,44.2 L702.9,44.4 L703.8,44.6 L704.6,44.9 L705.4,45.1 L706.2,45.3 L707.0,45.6 L707.8,45.8 L708.5,46.0 L709.2,46.3 L709.9,46.5 L710.5,46.8 L711.0,47.1 L711.5,47.3 L712.0,47.6 L712.3,47.9 L712.6,48.2 L712.9,48.5 L713.0,48.8 L713.1,49.2 L713.1,49.5 L713.0,49.8 L712.9,50.2 L712.7,50.6 L712.5,50.9 L712.2,51.3 L711.8,51.7 L711.4,52.1 L710.9,52.5 L710.4,52.9 L709.9,53.3 L709.3,53.7 L708.8,54.1 L708.2,54.5 L707.6,54.9 L707.0,55.4 L706.4,55.8 L705.8,56.2 L705.3,56.6 L704.8,57.0 L704.3,57.4 L703.8,57.8 L703.4,58.2 L703.0,58.6 L702.7,59.0 L702.4,59.3 L702.2,59.7 L702.0,60.1 L701.9,60.4 L701.8,60.7 L701.8,61.1 L701.9,61.4 L702.0,61.7 L702.2,62.1 L702.4,62.4 L702.6,62.7 L703.0,63.0 L703.3,63.3 L703.7,63.5 L704.1,63.8 L704.6,64.1 L705.1,64.4 L705.6,64.6 L706.1,64.9 L706.6,65.2" fill="none" stroke="#0c0cd0" stroke-width="1.5"/>
<path d="M710.4,2.2 L710.4,2.6 L710.3,2.9 L710.2,3.2 L710.1,3.5 L709.9,3.8 L709.7,4.1 L709.5,4.4 L709.2,4.7 L708.9,5.0 L708.5,5.2 L708.1,5.5 L707.7,5.8 L707.3,6.0 L706.8,6.2 L706.3,6.5 L705.8,6.7 L705.3,6.9 L704.8,7.2 L704.2,7.4 L703.7,7.6 L703.2,7.9 L702.7,8.1 L702.2,8.3 L701.7,8.6 L701.3,8.8 L700.9,9.1 L700.5,9.3 L700.2,9.6 L699.9,9.9 L699.7,10.2 L699.5,10.5 L699.4,10.8 L699.3,11.1 L699.3,11.5 L699.3,11.8 L699.4,12.2 L699.5,12.5 L699.7,12.9 L700.0,13.3 L700.3,13.7 L700.6,14.2 L701.0,14.6 L701.5,15.0 L702.0,15.5 L702.5,15.9 L703.0,16.4 L703.5,16.8 L704.1,17.3 L704.7,17.8 L705.2,18.2 L705.8,18.7 L706.4,19.2 L706.9,19.6 L707.4,20.1 L707.9,20.5 L708.3,20.9 L708.8,19.6 L709.3,19.9 L709.7,20.2 L710.0,20.5 L710.3,20.8 L710.5,21.1 L710.6,21.5 L710.6,21.8 L710.6,22.1 L710.4,22.5 L710.2,22.8 L709.9,23.2 L709.5,23.6 L709.1,23.9 L708.6,24.3 L708.1,24.7 L707.5,25.1 L706.9,25.5 L706.2,25.9 L705.5,26.3 L704.8,26.7 L704.1,27.1 L703.4,27.5 L702.7,27.9 L701.9,28.3 L701.2,28.7 L700.6,29.1 L699.9,29.5 L699.3,29.9 L698.7,30.3 L698.2,30.6 L697.8,31.0 L697.4,31.4 L697.0,31.8 L696.8,32.1 L696.6,32.5 L696.5,32.8 L696.4,33.2 L696.5,33.5 L696.6,33.8 L696.8,34.1 L697.0,34.4 L697.4,34.8 L697.8,35.1 L698.3,35.3 L698.8,35.6 L699.4,35.9 L700.0,36.2 L700.7,36.5 L701.5,36.7 L702.2,37.0 L703.0,37.3 L703.8,37.5 L704.6,37.8 L705.4,38.1 L706.2,38.3 L707.0,38.6 L707.8,38.8 L708.5,39.1 L709.2,39.4 L709.9,39.7 L710.5,39.9 L711.1,40.2 L711.6,40.5 L712.0,40.8 L712.4,41.1 L712.6,41.1 L712.8,41.4 L713.0,41.8 L713.1,42.1 L713.0,42.4 L713.0,42.8 L712.7,43.1 L712.4,43.5 L712.1,43.9 L711.7,44.3 L711.2,44.7 L710.7,45.1 L710.1,45.5 L709.5,45.9 L708.8,46.3 L708.2,46.8 L707.5,47.2 L706.8,47.6 L706.1,48.0 L705.4,48.5 L704.7,48.9 L704.1,49.3 L703.5,49.7 L702.9,50.2 L702.3,50.6 L701.8,51.0 L701.3,51.4 L700.9,51.8 L700.6,52.1 L700.3,52.5 L700.1,52.9 L700.0,53.2 L699.9,53.6 L699.9,53.9 L699.9,54.3 L700.0,54.6 L700.2,54.9 L700.4,55.2 L700.7,55.5 L701.1,55.8 L701.5,56.1 L702.0,56.3 L702.5,56.6 L703.0,56.9 L703.6,57.1 L704.2,57.4 L704.8,57.7 L705.4,57.9 L706.0,58.2 L706.7,58.4 L707.3,58.7 L707.9,58.9 L708.5,59.2 L709.1,59.5 L709.7,59.7 L710.2,60.0 L710.7,60.3 L711.1,60.5 L711.5,60.8 L711.9,61.1 L712.2,61.4 L712.5,61.7 L712.7,62.0 L712.8,62.3 L712.9,62.7 L713.0,63.0 L713.0,63.3 L712.9,63.7 L712.8,64.0 L712.7,64.4" fill="none" stroke="#0c0cd0" stroke-width="1.5"/>
<path d="M708.2,1.8 L708.4,2.1 L708.6,2.5 L708.8,2.9 L708.9,3.3 L709.1,3.7 L709.2,4.0 L709.3,4.4 L709.4,4.8 L709.5,5.1 L709.5,5.5 L709.5,5.8 L709.5,6.1 L709.4,6.5 L709.3,6.8 L709.2,7.1 L709.0,7.4 L708.8,7.7 L708.5,8.0 L708.2,8.3 L707.9,8.5 L707.6,8.8 L707.2,9.1 L706.8,9.3 L706.4,9.6 L705.9,9.8 L705.5,10.1 L705.0,10.3 L704.5,10.5 L704.0,10.8 L703.6,11.0 L703.1,11.3 L702.6,11.5 L702.1,11.7 L701.7,12.0 L701.3,12.2 L700.9,12.5 L700.5,12.8 L700.2,13.0 L699.9,13.3 L699.6,13.6 L699.4,13.9 L699.2,14.2 L699.1,14.5 L699.1,14.8 L699.0,15.2 L699.1,15.5 L699.1,15.9 L699.3,16.3 L699.4,16.6 L699.7,17.0 L699.9,17.4 L700.3,17.8 L700.6,18.3 L701.0,18.7 L701.4,19.1 L701.8,19.5 L702.3,20.2 L702.9,20.5 L703.5,20.8 L704.1,21.0 L704.7,21.3 L705.3,21.6 L705.9,21.9 L706.5,22.2 L707.0,22.5 L707.5,22.8 L707.9,23.0 L708.3,23.3 L708.7,23.7 L709.0,24.0 L709.2,24.3 L709.4,24.6 L709.5,24.9 L709.6,25.2 L709.6,25.6 L709.5,25.9 L709.4,26.3 L709.2,26.6 L709.0,27.0 L708.7,27.3 L708.4,27.7 L708.0,28.1 L707.5,28.5 L707.1,28.8 L706.6,29.2 L706.0,29.6 L705.5,30.0 L704.9,30.4 L704.4,30.8 L703.8,31.1 L703.2,31.5 L702.6,31.9 L702.1,32.3 L701.5,32.7 L701.0,33.1 L700.5,33.5 L700.1,33.8 L699.6,34.2 L699.3,34.6 L699.0,34.9 L698.7,35.3 L698.5,35.7 L698.4,36.0 L698.3,36.4 L698.2,36.7 L698.3,37.0 L698.4,37.3 L698.5,37.7 L698.8,38.0 L699.0,38.3 L699.4,38.6 L699.8,38.9 L700.2,39.2 L700.7,39.5 L701.2,39.8 L701.8,40.1 L702.4,40.3 L703.0,40.6 L703.6,40.9 L704.3,41.2 L704.9,41.5 L705.6,41.7 L706.3,42.0 L706.9,42.2 L707.6,42.5 L708.2,42.7 L708.8,43.0 L709.3,43.2 L709.8,43.5 L710.2,43.8 L710.6,44.1 L710.9,44.4 L711.2,44.7 L711.4,45.0 L711.5,45.3 L711.6,45.6 L711.6,46.0 L711.6,46.3 L711.5,46.7 L711.3,47.0 L711.1,47.4 L710.9,47.8 L710.6,48.1 L710.2,48.5 L709.8,48.9 L709.4,49.3 L709.0,49.7 L708.5,50.1 L708.0,50.5 L707.5,50.9 L707.0,51.3 L706.5,51.7 L706.0,52.1 L705.5,52.5 L705.0,52.9 L704.6,53.3 L704.1,53.7 L703.7,54.1 L703.4,54.5 L703.1,54.9 L702.8,55.2 L702.5,55.6 L702.3,56.0 L702.2,56.3 L702.1,56.7 L702.1,57.0 L702.1,57.3 L702.1,57.7 L702.2,58.0 L702.4,58.3 L702.5,58.6 L702.8,58.9 L703.1,59.2 L703.4,59.5 L703.7,59.8 L704.1,60.1 L704.5,60.4 L704.9,60.7 L705.4,61.0 L705.8,61.2 L706.3,61.5 L706.8,61.8 L707.3,62.1 L707.7,62.3 L708.2,62.6 L708.7,62.9 L709.1,63.2 L709.5,63.5 L709.9,63.7 L710.3,64.0 L710.6,64.3 L710.9,64.6" fill="none" stroke="#0c0cd0" stroke-width="0.8" opacity="0.8"/>
<path d="M706.7,1.4 L706.3,1.7 L706.0,2.0 L705.6,2.2 L705.3,2.5 L704.9,2.8 L704.6,3.0 L704.3,3.3 L704.0,3.6 L703.7,3.9 L703.4,4.1 L703.2,4.4 L702.9,4.7 L702.7,5.0 L702.6,5.3 L702.5,5.7 L702.4,6.0 L702.3,6.3 L702.3,6.6 L702.4,7.0 L702.4,7.4 L702.5,7.7 L702.6,8.1 L702.8,8.5 L703.0,8.9 L703.3,9.2 L703.5,9.6 L703.8,10.0 L704.1,10.5 L704.4,10.9 L704.8,11.3 L705.1,11.7 L705.5,12.1 L705.9,12.5 L706.2,13.0 L706.6,13.4 L706.9,13.8 L707.2,14.2 L707.5,14.6 L707.8,15.0 L708.1,15.4 L708.3,15.8 L708.5,16.2 L708.6,16.6 L708.7,16.9 L708.7,17.3 L708.7,17.6 L708.7,17.9 L708.6,18.3 L708.4,18.6 L708.2,18.9 L708.0,19.2 L707.7,19.4 L707.3,19.7 L706.9,20.0 L706.5,20.2 L706.0,20.4 L705.5,19.9 L705.1,20.3 L704.6,20.7 L704.0,21.0 L703.5,21.4 L702.9,21.8 L702.4,22.2 L701.8,22.6 L701.3,23.0 L700.7,23.4 L700.2,23.7 L699.8,24.1 L699.3,24.5 L698.9,24.9 L698.6,25.2 L698.3,25.6 L698.0,26.0 L697.8,26.3 L697.7,26.7 L697.6,27.0 L697.6,27.3 L697.6,27.7 L697.7,28.0 L697.9,28.3 L698.1,28.6 L698.3,29.0 L698.7,29.3 L699.0,29.6 L699.5,29.9 L699.9,30.2 L700.5,30.4 L701.0,30.7 L701.6,31.0 L702.2,31.3 L702.8,31.6 L703.4,31.8 L704.1,32.1 L704.7,32.4 L705.4,32.7 L706.0,33.0 L706.6,33.2 L707.2,33.5 L707.8,33.8 L708.3,34.1 L708.8,34.4 L709.2,34.7 L709.6,35.0 L710.0,35.3 L710.3,35.6 L710.5,35.9 L710.7,36.2 L710.8,36.6 L710.8,36.9 L710.8,37.2 L710.8,37.6 L710.6,37.9 L710.4,38.3 L710.2,38.6 L709.9,39.0 L709.5,39.4 L709.1,39.7 L708.6,40.1 L708.1,40.5 L707.6,40.9 L707.1,41.3 L706.5,41.6 L705.9,42.0 L705.3,42.4 L704.7,42.8 L704.1,43.2 L703.6,43.7 L703.0,44.1 L702.5,44.5 L702.0,44.9 L701.5,45.3 L701.1,45.7 L700.8,46.0 L700.5,46.4 L700.2,46.8 L700.0,47.2 L699.9,47.5 L699.8,47.9 L699.8,48.2 L699.9,48.5 L700.0,48.8 L700.1,49.2 L700.3,49.5 L700.6,49.8 L700.9,50.1 L701.3,50.4 L701.7,50.6 L702.2,50.9 L702.6,51.2 L703.1,51.5 L703.7,51.7 L704.2,52.0 L704.8,52.3 L705.4,52.5 L706.0,52.8 L706.5,53.0 L707.1,53.3 L707.7,53.6 L708.2,53.8 L708.7,54.1 L709.2,54.4 L709.7,54.7 L710.1,54.9 L710.4,55.2 L710.8,55.5 L711.1,55.8 L711.3,56.1 L711.5,56.4 L711.7,56.8 L711.8,57.1 L711.8,57.4 L711.8,57.8 L711.8,58.1 L711.7,58.4 L711.6,58.8 L711.4,59.2 L711.2,59.5 L711.0,59.9 L710.7,60.3 L710.4,60.6 L710.1,61.0 L709.7,61.4 L709.4,61.8 L709.0,62.2 L708.6,62.6 L708.2,62.9 L707.9,63.3 L707.5,63.7 L707.1,64.1 L706.8,64.5 L706.5,64.9 L706.2,65.2" fill="none" stroke="#0c0cd0" stroke-width="0.8" opacity="0.8"/>
<path d="M705.0,1.1 L710.4,2.2 M706.4,3.4 L709.7,4.1 M708.4,5.9 L707.7,5.8 M709.9,8.3 L704.8,7.2 M710.1,10.4 L701.7,8.6 M708.6,12.1 L699.7,10.2 M705.5,13.5 L699.4,12.2 M701.6,14.7 L701.0,14.6 M698.2,16.0 L704.1,17.3 M696.5,17.7 L707.4,20.1 M697.4,21.7 L710.0,20.5 M700.9,23.3 L710.4,22.5 M705.5,24.9 L708.1,24.7 M709.5,26.6 L704.1,27.1 M711.4,28.4 L699.9,29.5 M710.7,30.5 L697.0,31.8 M707.6,32.8 L696.6,33.8 M703.3,35.2 L698.8,35.6 M699.3,37.6 L703.0,37.3 M697.1,39.8 L707.8,38.8 M697.6,41.8 L711.6,40.5 M700.7,43.7 L713.1,42.1 M705.4,45.1 L711.7,44.3 M709.9,46.5 L708.2,46.8 M712.6,48.2 L704.1,49.3 M712.9,50.2 L700.9,51.8 M710.9,52.5 L699.9,53.9 M707.6,54.9 L701.1,55.8 M704.3,57.4 L704.2,57.4 M702.2,59.7 L707.9,58.9 M702.0,61.7 L711.1,60.5 M703.7,63.5 L712.8,62.3 M706.6,65.2 L712.7,64.4" fill="none" stroke="#0c0cd0" stroke-width="0.6"/>
<path d="M718.0,39.8 C721.5,36.6 722.9,42.0 725.7,39.3 C727.8,37.1 729.9,42.0 732.0,38.8" fill="none" stroke="#9c1818" stroke-width="2.1"/><path d="M724.3,36.6 L725.0,42.0 M722.2,38.2 L728.5,40.4" stroke="#9c1818" stroke-width="1.5"/>
<text x="0" y="0" transform="translate(3.20,16.10) scale(0.8785,1)" font-family="'Liberation Sans', sans-serif" font-weight="bold" font-style="normal" font-size="20.87" fill="#000" stroke="#000" stroke-width="0.6">A</text>
<text x="0" y="0" transform="translate(232.40,16.10) scale(0.8360,1)" font-family="'Liberation Sans', sans-serif" font-weight="bold" font-style="normal" font-size="20.43" fill="#000" stroke="#000" stroke-width="0.6">B</text>
<text x="0" y="0" transform="translate(294.95,35.76) scale(1.0803,1)" font-family="'Liberation Sans', sans-serif" font-weight="bold" font-style="normal" font-size="19.01" fill="#000" stroke="#000" stroke-width="0.5">0</text>
<text x="0" y="0" transform="translate(267.45,88.26) scale(1.2125,1)" font-family="'Liberation Sans', sans-serif" font-weight="bold" font-style="normal" font-size="18.73" fill="#000" stroke="#000" stroke-width="0.5">−10</text>
<text x="0" y="0" transform="translate(267.45,140.56) scale(1.2125,1)" font-family="'Liberation Sans', sans-serif" font-weight="bold" font-style="normal" font-size="18.73" fill="#000" stroke="#000" stroke-width="0.5">−20</text>
<text x="0" y="0" transform="translate(267.45,192.86) scale(1.2125,1)" font-family="'Liberation Sans', sans-serif" font-weight="bold" font-style="normal" font-size="18.73" fill="#000" stroke="#000" stroke-width="0.5">−30</text>
<text x="0" y="0" transform="translate(267.45,245.16) scale(1.2125,1)" font-family="'Liberation Sans', sans-serif" font-weight="bold" font-style="normal" font-size="18.73" fill="#000" stroke="#000" stroke-width="0.5">−40</text>
<text x="0" y="0" transform="translate(372.65,290.16) scale(1.0785,1)" font-family="'Liberation Sans', sans-serif" font-weight="bold" font-style="normal" font-size="19.30" fill="#000" stroke="#000" stroke-width="0.5">10</text>
<text x="0" y="0" transform="translate(467.35,290.16) scale(1.1159,1)" font-family="'Liberation Sans', sans-serif" font-weight="bold" font-style="normal" font-size="19.30" fill="#000" stroke="#000" stroke-width="0.5">20</text>
<text x="0" y="0" transform="translate(562.35,290.16) scale(1.1159,1)" font-family="'Liberation Sans', sans-serif" font-weight="bold" font-style="normal" font-size="19.30" fill="#000" stroke="#000" stroke-width="0.5">30</text>
<text x="0" y="0" transform="translate(657.05,290.16) scale(1.1159,1)" font-family="'Liberation Sans', sans-serif" font-weight="bold" font-style="normal" font-size="19.30" fill="#000" stroke="#000" stroke-width="0.5">40</text>
<text x="0" y="0" transform="translate(439.80,312.70) scale(1.2092,1)" font-family="'Liberation Serif', serif" font-weight="bold" font-style="normal" font-size="20.00" fill="#000" stroke="#000" stroke-width="0.4">Distance (Å)</text>
<text x="0" y="0" transform="translate(263.30,203.10) rotate(-90) scale(1.0841,1)" font-family="'Liberation Serif', serif" font-weight="bold" font-style="normal" font-size="21.98" fill="#000">PMF</text>
<text x="0" y="0" transform="translate(261.39,143.00) rotate(-90) scale(1.3135,1)" font-family="'Liberation Serif', serif" font-weight="bold" font-style="normal" font-size="14.95" fill="#000">(kcal/mol)</text>
<text x="0" y="0" transform="translate(561.70,188.00) scale(1.0820,1)" font-family="'Liberation Serif', serif" font-weight="bold" font-style="normal" font-size="12.98" fill="#000">PMF</text>
<rect x="594.7" y="178" width="1.3" height="12.9" fill="#000"/>
<text x="0" y="0" transform="translate(597.10,190.60) scale(1.3534,1)" font-family="'Liberation Serif', serif" font-weight="bold" font-style="normal" font-size="9.50" fill="#000">min</text>
<text x="0" y="0" transform="translate(554.80,203.27) scale(1.3716,1)" font-family="'Liberation Serif', serif" font-weight="bold" font-style="normal" font-size="11.32" fill="#000">(kcal/mol)</text>
<text x="0" y="0" transform="translate(557.60,226.75) scale(1.1809,1)" font-family="'Liberation Serif', serif" font-weight="bold" font-style="normal" font-size="16.44" fill="#000">-43.54</text>
<text x="0" y="0" transform="translate(557.60,251.76) scale(1.1897,1)" font-family="'Liberation Serif', serif" font-weight="bold" font-style="normal" font-size="16.32" fill="#000">-25.87</text>
<text x="0" y="0" transform="translate(646.30,227.40) scale(1.1068,1)" font-family="'Liberation Serif', serif" font-weight="bold" font-style="normal" font-size="19.69" fill="#000">NP</text>
<text x="0" y="0" transform="translate(648.80,252.10) scale(1.0411,1)" font-family="'Liberation Serif', serif" font-weight="bold" font-style="normal" font-size="19.69" fill="#000">PH</text>
<text x="0" y="0" transform="translate(11.10,252.70) scale(1.2600,1)" font-family="'Liberation Serif', serif" font-weight="bold" font-style="normal" font-size="16.18" fill="#000" stroke="#000" stroke-width="0.6">Distance as the</text>
<text x="0" y="0" transform="translate(12.60,272.10) scale(1.2470,1)" font-family="'Liberation Serif', serif" font-weight="bold" font-style="normal" font-size="16.18" fill="#000" stroke="#000" stroke-width="0.6">reaction coordinate</text>
<text x="0" y="0" transform="translate(187.90,271.29) scale(0.8189,1)" font-family="'Liberation Serif', serif" font-weight="bold" font-style="normal" font-size="14.95" fill="#000">(</text>
<text x="0" y="0" transform="translate(205.00,271.29) scale(0.7790,1)" font-family="'Liberation Serif', serif" font-weight="bold" font-style="normal" font-size="14.95" fill="#000">)</text>
<text x="0" y="0" transform="translate(194.20,276.92) scale(0.8957,1)" font-family="'Liberation Serif', serif" font-weight="normal" font-style="italic" font-size="23.89" fill="#000">ξ</text>
</svg>
</body></html>
